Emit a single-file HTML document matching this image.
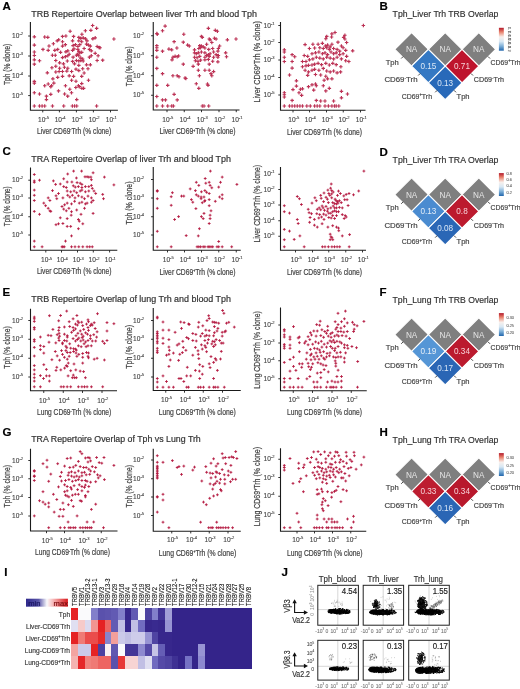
<!DOCTYPE html>
<html><head><meta charset="utf-8"><style>
html,body{margin:0;padding:0;background:#fff;width:520px;height:689px;overflow:hidden}
svg{display:block;filter:blur(0.3px)}
text{font-family:"Liberation Sans", sans-serif}
</style></head><body>
<svg width="520" height="689" viewBox="0 0 520 689" font-family='"Liberation Sans", sans-serif'>
<rect width="520" height="689" fill="#fff"/>
<text x="2.60" y="9.60" font-size="11.5" fill="#000" stroke="#000" stroke-width="0.18" font-weight="bold">A</text>
<text x="379.50" y="9.60" font-size="11.5" fill="#000" stroke="#000" stroke-width="0.18" font-weight="bold">B</text>
<text x="2.60" y="155.20" font-size="11.5" fill="#000" stroke="#000" stroke-width="0.18" font-weight="bold">C</text>
<text x="379.50" y="155.90" font-size="11.5" fill="#000" stroke="#000" stroke-width="0.18" font-weight="bold">D</text>
<text x="2.60" y="296.40" font-size="11.5" fill="#000" stroke="#000" stroke-width="0.18" font-weight="bold">E</text>
<text x="379.50" y="296.20" font-size="11.5" fill="#000" stroke="#000" stroke-width="0.18" font-weight="bold">F</text>
<text x="2.60" y="436.00" font-size="11.5" fill="#000" stroke="#000" stroke-width="0.18" font-weight="bold">G</text>
<text x="379.50" y="436.20" font-size="11.5" fill="#000" stroke="#000" stroke-width="0.18" font-weight="bold">H</text>
<text x="4.20" y="576.40" font-size="11.5" fill="#000" stroke="#000" stroke-width="0.18" font-weight="bold">I</text>
<text x="281.50" y="575.80" font-size="11.5" fill="#000" stroke="#000" stroke-width="0.18" font-weight="bold">J</text>
<text x="31.25" y="17.00" font-size="9" fill="#333" stroke="#333" stroke-width="0.2" textLength="225.60" lengthAdjust="spacingAndGlyphs">TRB Repertoire Overlap between liver Trh and blood Tph</text>
<text x="31.25" y="162.00" font-size="9" fill="#333" stroke="#333" stroke-width="0.2" textLength="199.75" lengthAdjust="spacingAndGlyphs">TRA Repertoire Overlap of liver Trh and blood Tph</text>
<text x="31.25" y="302.00" font-size="9" fill="#333" stroke="#333" stroke-width="0.2" textLength="199.75" lengthAdjust="spacingAndGlyphs">TRB Repertoire Overlap of lung Trh and blood Tph</text>
<text x="31.25" y="442.00" font-size="9" fill="#333" stroke="#333" stroke-width="0.2" textLength="169.50" lengthAdjust="spacingAndGlyphs">TRA Repertoire Overlap of Tph vs Lung Trh</text>
<path d="M30.40 22.00V110.20H117.90" fill="none" stroke="#1a1a1a" stroke-width="1.1"/>
<path d="M28.20 36.00H30.40" stroke="#1a1a1a" stroke-width="0.9"/>
<text x="12.11" y="38.00" font-size="6.6" fill="#444" stroke="#444" stroke-width="0.12">10<tspan font-size="4.09" dy="-2.77">-2</tspan></text>
<path d="M28.20 56.00H30.40" stroke="#1a1a1a" stroke-width="0.9"/>
<text x="12.11" y="58.00" font-size="6.6" fill="#444" stroke="#444" stroke-width="0.12">10<tspan font-size="4.09" dy="-2.77">-3</tspan></text>
<path d="M28.20 76.00H30.40" stroke="#1a1a1a" stroke-width="0.9"/>
<text x="12.11" y="78.00" font-size="6.6" fill="#444" stroke="#444" stroke-width="0.12">10<tspan font-size="4.09" dy="-2.77">-4</tspan></text>
<path d="M28.20 95.60H30.40" stroke="#1a1a1a" stroke-width="0.9"/>
<text x="12.11" y="97.60" font-size="6.6" fill="#444" stroke="#444" stroke-width="0.12">10<tspan font-size="4.09" dy="-2.77">-5</tspan></text>
<path d="M42.75 110.20V112.40" stroke="#1a1a1a" stroke-width="0.9"/>
<text x="38.01" y="122.00" font-size="6.6" fill="#444" stroke="#444" stroke-width="0.12">10<tspan font-size="4.09" dy="-2.77">-5</tspan></text>
<path d="M59.40 110.20V112.40" stroke="#1a1a1a" stroke-width="0.9"/>
<text x="54.66" y="122.00" font-size="6.6" fill="#444" stroke="#444" stroke-width="0.12">10<tspan font-size="4.09" dy="-2.77">-4</tspan></text>
<path d="M76.40 110.20V112.40" stroke="#1a1a1a" stroke-width="0.9"/>
<text x="71.66" y="122.00" font-size="6.6" fill="#444" stroke="#444" stroke-width="0.12">10<tspan font-size="4.09" dy="-2.77">-3</tspan></text>
<path d="M93.40 110.20V112.40" stroke="#1a1a1a" stroke-width="0.9"/>
<text x="88.66" y="122.00" font-size="6.6" fill="#444" stroke="#444" stroke-width="0.12">10<tspan font-size="4.09" dy="-2.77">-2</tspan></text>
<path d="M110.50 110.20V112.40" stroke="#1a1a1a" stroke-width="0.9"/>
<text x="105.76" y="122.00" font-size="6.6" fill="#444" stroke="#444" stroke-width="0.12">10<tspan font-size="4.09" dy="-2.77">-1</tspan></text>
<text x="37.00" y="133.95" font-size="9.1" fill="#444" stroke="#444" stroke-width="0.22" textLength="74.25" lengthAdjust="spacingAndGlyphs">Liver CD69<tspan font-size="4.6" dy="-2.6">-</tspan><tspan dy="2.6">Trh</tspan> (% clone)</text>
<text x="9.90" y="85.00" font-size="9.1" fill="#444" stroke="#444" stroke-width="0.22" textLength="41.25" lengthAdjust="spacingAndGlyphs" transform="rotate(-90 9.90 85.00)">Tph (% clone)</text>
<path d="M90.9 25.5h3.5M92.6 23.8v3.5M94.9 28.3h3.5M96.6 26.6v3.5M89.1 30.4h3.5M90.9 28.6v3.5M83.6 30.7h3.5M85.4 29.0v3.5M68.4 31.2h3.5M70.1 29.5v3.5M80.2 34.2h3.5M81.9 32.4v3.5M32.6 36.8h3.5M34.3 35.0v3.5M43.0 37.0h3.5M44.7 35.2v3.5M46.1 37.3h3.5M47.8 35.6v3.5M112.2 39.0h3.5M113.9 37.3v3.5M32.6 45.1h3.5M34.3 43.3v3.5M98.3 47.7h3.5M100.1 45.9v3.5M41.2 49.4h3.5M43.0 47.7v3.5M46.4 50.3h3.5M48.2 48.5v3.5M47.3 46.0h3.5M49.0 44.2v3.5M32.6 52.0h3.5M34.3 50.3v3.5M32.6 55.5h3.5M34.3 53.7v3.5M32.6 59.8h3.5M34.3 58.0v3.5M37.8 60.7h3.5M39.5 58.9v3.5M100.9 60.1h3.5M102.7 58.4v3.5M32.6 64.1h3.5M34.3 62.4v3.5M45.6 72.8h3.5M47.3 71.0v3.5M32.6 81.4h3.5M34.3 79.7v3.5M32.6 83.1h3.5M34.3 81.4v3.5M46.4 84.0h3.5M48.2 82.3v3.5M43.0 85.7h3.5M44.7 84.0v3.5M49.9 85.7h3.5M51.6 84.0v3.5M49.0 86.6h3.5M50.8 84.9v3.5M76.7 85.7h3.5M78.4 84.0v3.5M63.7 85.7h3.5M65.5 84.0v3.5M56.8 90.9h3.5M58.5 89.2v3.5M68.0 89.2h3.5M69.8 87.5v3.5M74.1 87.5h3.5M75.8 85.7v3.5M77.6 86.6h3.5M79.3 84.9v3.5M81.9 88.3h3.5M83.6 86.6v3.5M32.6 92.7h3.5M34.3 90.9v3.5M37.8 94.0h3.5M39.5 92.3v3.5M49.0 94.4h3.5M50.8 92.6v3.5M62.9 94.0h3.5M64.6 92.3v3.5M66.0 96.1h3.5M67.7 94.4v3.5M69.8 92.7h3.5M71.5 90.9v3.5M44.7 96.1h3.5M46.4 94.4v3.5M44.7 99.6h3.5M46.4 97.8v3.5M75.0 99.6h3.5M76.7 97.8v3.5M80.2 88.3h3.5M81.9 86.6v3.5M32.6 106.0h3.5M34.3 104.2v3.5M37.8 106.0h3.5M39.5 104.2v3.5M40.4 106.0h3.5M42.1 104.2v3.5M43.0 106.0h3.5M44.7 104.2v3.5M50.7 106.0h3.5M52.5 104.2v3.5M62.0 106.0h3.5M63.7 104.2v3.5M70.6 106.0h3.5M72.4 104.2v3.5M72.9 106.0h3.5M74.6 104.2v3.5M75.0 106.0h3.5M76.7 104.2v3.5M94.9 106.0h3.5M96.6 104.2v3.5M60.8 36.4h3.5M62.5 34.7v3.5M64.1 36.0h3.5M65.9 34.2v3.5M71.8 36.4h3.5M73.6 34.7v3.5M77.1 37.4h3.5M78.8 35.7v3.5M79.0 38.4h3.5M80.8 36.6v3.5M81.4 37.9h3.5M83.2 36.1v3.5M83.8 38.8h3.5M85.6 37.1v3.5M91.0 38.8h3.5M92.8 37.1v3.5M93.4 37.9h3.5M95.2 36.1v3.5M56.9 39.8h3.5M58.7 38.1v3.5M55.5 40.8h3.5M57.2 39.0v3.5M60.8 41.7h3.5M62.5 40.0v3.5M70.8 40.8h3.5M72.6 39.0v3.5M77.1 40.8h3.5M78.8 39.0v3.5M80.0 41.7h3.5M81.7 40.0v3.5M85.3 40.8h3.5M87.0 39.0v3.5M51.6 43.7h3.5M53.4 41.9v3.5M63.6 44.6h3.5M65.4 42.9v3.5M60.8 46.1h3.5M62.5 44.3v3.5M71.3 45.6h3.5M73.1 43.8v3.5M73.7 44.6h3.5M75.5 42.9v3.5M76.1 46.5h3.5M77.9 44.8v3.5M78.1 44.6h3.5M79.8 42.9v3.5M84.8 44.1h3.5M86.5 42.4v3.5M86.7 45.1h3.5M88.5 43.3v3.5M88.6 46.1h3.5M90.4 44.3v3.5M95.4 46.5h3.5M97.1 44.8v3.5M97.3 47.5h3.5M99.0 45.8v3.5M53.1 50.4h3.5M54.8 48.6v3.5M55.9 49.4h3.5M57.7 47.7v3.5M58.8 52.3h3.5M60.6 50.6v3.5M64.1 51.8h3.5M65.9 50.1v3.5M66.0 50.9h3.5M67.8 49.1v3.5M70.8 50.4h3.5M72.6 48.6v3.5M72.3 48.9h3.5M74.0 47.2v3.5M76.1 49.4h3.5M77.9 47.7v3.5M77.1 51.3h3.5M78.8 49.6v3.5M78.1 52.8h3.5M79.8 51.0v3.5M80.0 52.3h3.5M81.7 50.6v3.5M82.4 48.5h3.5M84.1 46.7v3.5M87.7 49.4h3.5M89.4 47.7v3.5M89.6 50.9h3.5M91.3 49.1v3.5M93.4 53.3h3.5M95.2 51.5v3.5M50.7 55.2h3.5M52.4 53.4v3.5M53.5 55.2h3.5M55.3 53.4v3.5M60.8 57.6h3.5M62.5 55.8v3.5M63.6 56.6h3.5M65.4 54.9v3.5M66.0 55.7h3.5M67.8 53.9v3.5M67.5 54.2h3.5M69.2 52.5v3.5M71.3 57.1h3.5M73.1 55.4v3.5M74.7 55.2h3.5M76.4 53.4v3.5M75.7 54.2h3.5M77.4 52.5v3.5M77.1 55.7h3.5M78.8 53.9v3.5M79.0 58.1h3.5M80.8 56.3v3.5M80.9 59.0h3.5M82.7 57.3v3.5M87.7 57.1h3.5M89.4 55.4v3.5M89.6 55.7h3.5M91.3 53.9v3.5M96.3 55.7h3.5M98.1 53.9v3.5M95.4 60.5h3.5M97.1 58.7v3.5M54.0 60.5h3.5M55.8 58.7v3.5M57.9 62.9h3.5M59.6 61.1v3.5M61.7 63.8h3.5M63.5 62.1v3.5M65.6 61.0h3.5M67.3 59.2v3.5M70.8 61.4h3.5M72.6 59.7v3.5M74.7 60.5h3.5M76.4 58.7v3.5M77.1 61.0h3.5M78.8 59.2v3.5M79.0 60.5h3.5M80.8 58.7v3.5M81.4 61.0h3.5M83.2 59.2v3.5M72.8 63.8h3.5M74.5 62.1v3.5M77.1 65.3h3.5M78.8 63.5v3.5M84.8 64.8h3.5M86.5 63.1v3.5M88.6 64.8h3.5M90.4 63.1v3.5M50.2 67.7h3.5M51.9 65.9v3.5M54.0 66.2h3.5M55.8 64.5v3.5M57.9 68.2h3.5M59.6 66.4v3.5M62.7 67.2h3.5M64.4 65.5v3.5M66.0 68.2h3.5M67.8 66.4v3.5M69.9 71.5h3.5M71.6 69.8v3.5M74.2 69.1h3.5M76.0 67.4v3.5M77.1 70.6h3.5M78.8 68.8v3.5M80.9 68.7h3.5M82.7 66.9v3.5M82.4 73.0h3.5M84.1 71.2v3.5M86.2 68.7h3.5M88.0 66.9v3.5M54.0 72.0h3.5M55.8 70.3v3.5M57.4 71.5h3.5M59.1 69.8v3.5M60.8 71.5h3.5M62.5 69.8v3.5M65.1 71.1h3.5M66.8 69.3v3.5M51.1 78.8h3.5M52.9 77.0v3.5M55.9 77.3h3.5M57.7 75.6v3.5M60.8 76.3h3.5M62.5 74.6v3.5M67.5 75.9h3.5M69.2 74.1v3.5M71.8 76.3h3.5M73.6 74.6v3.5M80.0 76.3h3.5M81.7 74.6v3.5M69.9 80.2h3.5M71.6 78.4v3.5M74.2 81.2h3.5M76.0 79.4v3.5M86.7 80.2h3.5M88.5 78.4v3.5M52.1 83.1h3.5M53.8 81.3v3.5M80.0 83.6h3.5M81.7 81.8v3.5" stroke="#b3163e" stroke-width="1.15" fill="none" opacity="0.88"/>
<path d="M153.25 22.00V110.00H239.50" fill="none" stroke="#1a1a1a" stroke-width="1.1"/>
<path d="M151.05 35.75H153.25" stroke="#1a1a1a" stroke-width="0.9"/>
<text x="133.11" y="37.75" font-size="6.6" fill="#444" stroke="#444" stroke-width="0.12">10<tspan font-size="4.09" dy="-2.77">-2</tspan></text>
<path d="M151.05 55.75H153.25" stroke="#1a1a1a" stroke-width="0.9"/>
<text x="133.11" y="57.75" font-size="6.6" fill="#444" stroke="#444" stroke-width="0.12">10<tspan font-size="4.09" dy="-2.77">-3</tspan></text>
<path d="M151.05 75.75H153.25" stroke="#1a1a1a" stroke-width="0.9"/>
<text x="133.11" y="77.75" font-size="6.6" fill="#444" stroke="#444" stroke-width="0.12">10<tspan font-size="4.09" dy="-2.77">-4</tspan></text>
<path d="M151.05 95.25H153.25" stroke="#1a1a1a" stroke-width="0.9"/>
<text x="133.11" y="97.25" font-size="6.6" fill="#444" stroke="#444" stroke-width="0.12">10<tspan font-size="4.09" dy="-2.77">-5</tspan></text>
<path d="M167.00 110.00V112.20" stroke="#1a1a1a" stroke-width="0.9"/>
<text x="162.26" y="122.00" font-size="6.6" fill="#444" stroke="#444" stroke-width="0.12">10<tspan font-size="4.09" dy="-2.77">-5</tspan></text>
<path d="M184.25 110.00V112.20" stroke="#1a1a1a" stroke-width="0.9"/>
<text x="179.51" y="122.00" font-size="6.6" fill="#444" stroke="#444" stroke-width="0.12">10<tspan font-size="4.09" dy="-2.77">-4</tspan></text>
<path d="M201.50 110.00V112.20" stroke="#1a1a1a" stroke-width="0.9"/>
<text x="196.76" y="122.00" font-size="6.6" fill="#444" stroke="#444" stroke-width="0.12">10<tspan font-size="4.09" dy="-2.77">-3</tspan></text>
<path d="M219.00 110.00V112.20" stroke="#1a1a1a" stroke-width="0.9"/>
<text x="214.26" y="122.00" font-size="6.6" fill="#444" stroke="#444" stroke-width="0.12">10<tspan font-size="4.09" dy="-2.77">-2</tspan></text>
<path d="M236.25 110.00V112.20" stroke="#1a1a1a" stroke-width="0.9"/>
<text x="231.51" y="122.00" font-size="6.6" fill="#444" stroke="#444" stroke-width="0.12">10<tspan font-size="4.09" dy="-2.77">-1</tspan></text>
<text x="159.50" y="134.45" font-size="9.1" fill="#444" stroke="#444" stroke-width="0.22" textLength="76.00" lengthAdjust="spacingAndGlyphs">Liver CD69<tspan font-size="4.6" dy="-2.6">+</tspan><tspan dy="2.6">Trh</tspan> (% clone)</text>
<text x="131.65" y="86.25" font-size="9.1" fill="#444" stroke="#444" stroke-width="0.22" textLength="40.00" lengthAdjust="spacingAndGlyphs" transform="rotate(-90 131.65 86.25)">Tph (% clone)</text>
<path d="M163.4 26.1h3.5M165.1 24.3v3.5M160.8 30.7h3.5M162.5 29.0v3.5M155.1 33.5h3.5M156.8 31.7v3.5M155.6 34.2h3.5M157.3 32.4v3.5M206.6 28.3h3.5M208.4 26.6v3.5M213.5 30.4h3.5M215.3 28.6v3.5M215.6 31.2h3.5M217.4 29.5v3.5M182.0 34.2h3.5M183.8 32.4v3.5M199.7 36.4h3.5M201.4 34.7v3.5M200.6 37.3h3.5M202.3 35.6v3.5M207.5 39.0h3.5M209.2 37.3v3.5M208.3 39.9h3.5M210.1 38.1v3.5M212.7 38.2h3.5M214.4 36.4v3.5M214.4 39.0h3.5M216.1 37.3v3.5M225.6 39.9h3.5M227.4 38.1v3.5M234.3 39.0h3.5M236.0 37.3v3.5M172.4 41.6h3.5M174.1 39.9v3.5M181.5 42.1h3.5M183.3 40.4v3.5M185.9 45.1h3.5M187.6 43.3v3.5M187.6 46.0h3.5M189.3 44.2v3.5M198.0 45.6h3.5M199.7 43.9v3.5M199.7 46.0h3.5M201.4 44.2v3.5M201.4 46.8h3.5M203.2 45.1v3.5M204.9 44.2h3.5M206.6 42.5v3.5M210.1 42.5h3.5M211.8 40.7v3.5M217.9 46.0h3.5M219.6 44.2v3.5M155.1 45.6h3.5M156.8 43.9v3.5M155.1 47.7h3.5M156.8 45.9v3.5M155.1 50.3h3.5M156.8 48.5v3.5M160.8 51.1h3.5M162.5 49.4v3.5M167.2 49.1h3.5M168.9 47.3v3.5M169.9 49.8h3.5M171.7 48.0v3.5M175.1 48.0h3.5M176.9 46.3v3.5M192.8 49.8h3.5M194.5 48.0v3.5M197.1 48.5h3.5M198.8 46.8v3.5M198.8 47.7h3.5M200.6 45.9v3.5M203.2 48.0h3.5M204.9 46.3v3.5M207.0 49.4h3.5M208.7 47.7v3.5M210.9 48.5h3.5M212.7 46.8v3.5M216.6 48.5h3.5M218.4 46.8v3.5M216.1 51.1h3.5M217.9 49.4v3.5M223.9 52.9h3.5M225.7 51.1v3.5M192.8 52.9h3.5M194.5 51.1v3.5M194.5 53.7h3.5M196.3 52.0v3.5M196.6 52.9h3.5M198.3 51.1v3.5M199.7 52.0h3.5M201.4 50.3v3.5M203.2 52.9h3.5M204.9 51.1v3.5M206.6 54.6h3.5M208.4 52.9v3.5M208.3 53.7h3.5M210.1 52.0v3.5M211.8 52.0h3.5M213.6 50.3v3.5M214.4 54.6h3.5M216.1 52.9v3.5M216.6 55.5h3.5M218.4 53.7v3.5M224.8 56.7h3.5M226.5 54.9v3.5M155.1 57.2h3.5M156.8 55.4v3.5M171.1 57.2h3.5M172.9 55.4v3.5M173.4 56.3h3.5M175.1 54.6v3.5M175.5 56.7h3.5M177.2 54.9v3.5M176.9 56.0h3.5M178.6 54.2v3.5M192.8 57.2h3.5M194.5 55.4v3.5M195.4 57.7h3.5M197.1 56.0v3.5M198.0 56.3h3.5M199.7 54.6v3.5M203.2 57.2h3.5M204.9 55.4v3.5M204.9 55.5h3.5M206.6 53.7v3.5M207.5 56.3h3.5M209.2 54.6v3.5M211.8 57.2h3.5M213.6 55.4v3.5M216.1 57.2h3.5M217.9 55.4v3.5M170.3 59.8h3.5M172.0 58.0v3.5M193.6 60.7h3.5M195.4 58.9v3.5M196.2 61.5h3.5M198.0 59.8v3.5M198.8 60.1h3.5M200.6 58.4v3.5M203.2 59.8h3.5M204.9 58.0v3.5M206.6 59.4h3.5M208.4 57.7v3.5M210.9 61.2h3.5M212.7 59.4v3.5M216.1 61.9h3.5M217.9 60.1v3.5M196.6 64.1h3.5M198.3 62.4v3.5M207.5 64.1h3.5M209.2 62.4v3.5M181.5 64.1h3.5M183.3 62.4v3.5M191.4 66.4h3.5M193.1 64.6v3.5M155.1 68.4h3.5M156.8 66.7v3.5M196.6 70.2h3.5M198.3 68.4v3.5M203.2 70.2h3.5M204.9 68.4v3.5M207.5 70.2h3.5M209.2 68.4v3.5M211.8 71.6h3.5M213.6 69.8v3.5M209.2 73.6h3.5M211.0 71.9v3.5M210.1 75.7h3.5M211.8 74.0v3.5M160.8 73.6h3.5M162.5 71.9v3.5M171.1 75.7h3.5M172.9 74.0v3.5M175.5 75.7h3.5M177.2 74.0v3.5M177.2 76.7h3.5M179.0 75.0v3.5M183.3 78.0h3.5M185.0 76.2v3.5M184.1 78.5h3.5M185.9 76.7v3.5M197.6 75.7h3.5M199.4 74.0v3.5M155.1 85.4h3.5M156.8 83.6v3.5M166.0 85.4h3.5M167.7 83.6v3.5M194.5 83.7h3.5M196.3 81.9v3.5M197.1 88.3h3.5M198.8 86.6v3.5M205.7 84.0h3.5M207.5 82.3v3.5M206.3 85.4h3.5M208.0 83.6v3.5M172.4 94.4h3.5M174.1 92.6v3.5M155.1 96.5h3.5M156.8 94.7v3.5M160.8 99.9h3.5M162.5 98.2v3.5M163.7 99.9h3.5M165.5 98.2v3.5M175.5 99.9h3.5M177.2 98.2v3.5M155.1 106.0h3.5M156.8 104.2v3.5M160.8 106.0h3.5M162.5 104.2v3.5M166.0 106.0h3.5M167.7 104.2v3.5M169.9 106.0h3.5M171.7 104.2v3.5M171.7 106.0h3.5M173.4 104.2v3.5M200.6 106.0h3.5M202.3 104.2v3.5M202.3 106.0h3.5M204.0 104.2v3.5M207.0 106.0h3.5M208.7 104.2v3.5" stroke="#b3163e" stroke-width="1.15" fill="none" opacity="0.88"/>
<path d="M280.50 22.00V110.25H365.50" fill="none" stroke="#1a1a1a" stroke-width="1.1"/>
<path d="M278.30 25.50H280.50" stroke="#1a1a1a" stroke-width="0.9"/>
<text x="263.61" y="27.50" font-size="6.6" fill="#444" stroke="#444" stroke-width="0.12">10<tspan font-size="4.09" dy="-2.77">-1</tspan></text>
<path d="M278.30 42.50H280.50" stroke="#1a1a1a" stroke-width="0.9"/>
<text x="263.61" y="44.50" font-size="6.6" fill="#444" stroke="#444" stroke-width="0.12">10<tspan font-size="4.09" dy="-2.77">-2</tspan></text>
<path d="M278.30 60.00H280.50" stroke="#1a1a1a" stroke-width="0.9"/>
<text x="263.61" y="62.00" font-size="6.6" fill="#444" stroke="#444" stroke-width="0.12">10<tspan font-size="4.09" dy="-2.77">-3</tspan></text>
<path d="M278.30 77.50H280.50" stroke="#1a1a1a" stroke-width="0.9"/>
<text x="263.61" y="79.50" font-size="6.6" fill="#444" stroke="#444" stroke-width="0.12">10<tspan font-size="4.09" dy="-2.77">-4</tspan></text>
<path d="M278.30 95.00H280.50" stroke="#1a1a1a" stroke-width="0.9"/>
<text x="263.61" y="97.00" font-size="6.6" fill="#444" stroke="#444" stroke-width="0.12">10<tspan font-size="4.09" dy="-2.77">-5</tspan></text>
<path d="M293.00 110.25V112.45" stroke="#1a1a1a" stroke-width="0.9"/>
<text x="288.26" y="122.00" font-size="6.6" fill="#444" stroke="#444" stroke-width="0.12">10<tspan font-size="4.09" dy="-2.77">-5</tspan></text>
<path d="M309.50 110.25V112.45" stroke="#1a1a1a" stroke-width="0.9"/>
<text x="304.76" y="122.00" font-size="6.6" fill="#444" stroke="#444" stroke-width="0.12">10<tspan font-size="4.09" dy="-2.77">-4</tspan></text>
<path d="M326.50 110.25V112.45" stroke="#1a1a1a" stroke-width="0.9"/>
<text x="321.76" y="122.00" font-size="6.6" fill="#444" stroke="#444" stroke-width="0.12">10<tspan font-size="4.09" dy="-2.77">-3</tspan></text>
<path d="M343.25 110.25V112.45" stroke="#1a1a1a" stroke-width="0.9"/>
<text x="338.51" y="122.00" font-size="6.6" fill="#444" stroke="#444" stroke-width="0.12">10<tspan font-size="4.09" dy="-2.77">-2</tspan></text>
<path d="M360.50 110.25V112.45" stroke="#1a1a1a" stroke-width="0.9"/>
<text x="355.76" y="122.00" font-size="6.6" fill="#444" stroke="#444" stroke-width="0.12">10<tspan font-size="4.09" dy="-2.77">-1</tspan></text>
<text x="287.00" y="134.95" font-size="9.1" fill="#444" stroke="#444" stroke-width="0.22" textLength="75.00" lengthAdjust="spacingAndGlyphs">Liver CD69<tspan font-size="4.6" dy="-2.6">-</tspan><tspan dy="2.6">Trh</tspan> (% clone)</text>
<text x="259.90" y="102.50" font-size="9.1" fill="#444" stroke="#444" stroke-width="0.22" textLength="81.50" lengthAdjust="spacingAndGlyphs" transform="rotate(-90 259.90 102.50)">Liver CD69<tspan font-size="4.6" dy="-2.6">+</tspan><tspan dy="2.6">Trh</tspan> (% clone)</text>
<path d="M361.6 25.5h3.5M363.4 23.8v3.5M333.3 32.5h3.5M335.0 30.7v3.5M330.2 33.8h3.5M331.9 32.1v3.5M325.0 36.4h3.5M326.7 34.7v3.5M324.1 38.7h3.5M325.8 36.9v3.5M329.8 37.0h3.5M331.6 35.2v3.5M343.1 35.2h3.5M344.9 33.5v3.5M341.9 37.3h3.5M343.7 35.6v3.5M344.9 42.5h3.5M346.6 40.7v3.5M343.1 39.0h3.5M344.9 37.3v3.5M303.3 44.6h3.5M305.1 42.8v3.5M311.1 44.2h3.5M312.9 42.5v3.5M316.3 44.2h3.5M318.1 42.5v3.5M320.6 43.4h3.5M322.4 41.6v3.5M323.6 46.0h3.5M325.3 44.2v3.5M325.8 45.1h3.5M327.6 43.3v3.5M328.4 46.8h3.5M330.2 45.1v3.5M330.2 44.2h3.5M331.9 42.5v3.5M336.2 42.1h3.5M338.0 40.4v3.5M339.7 46.0h3.5M341.4 44.2v3.5M341.4 47.7h3.5M343.1 45.9v3.5M282.6 49.8h3.5M284.3 48.0v3.5M282.6 52.0h3.5M284.3 50.3v3.5M307.7 48.5h3.5M309.4 46.8v3.5M312.9 48.0h3.5M314.6 46.3v3.5M318.0 47.7h3.5M319.8 45.9v3.5M321.5 48.5h3.5M323.3 46.8v3.5M325.0 47.7h3.5M326.7 45.9v3.5M327.6 49.4h3.5M329.3 47.7v3.5M331.9 48.5h3.5M333.6 46.8v3.5M335.3 49.4h3.5M337.1 47.7v3.5M337.9 51.1h3.5M339.7 49.4v3.5M344.0 50.3h3.5M345.7 48.5v3.5M350.9 50.8h3.5M352.7 49.0v3.5M290.4 54.6h3.5M292.1 52.9v3.5M293.0 56.7h3.5M294.7 54.9v3.5M302.5 55.5h3.5M304.2 53.7v3.5M305.9 56.3h3.5M307.7 54.6v3.5M310.3 53.7h3.5M312.0 52.0v3.5M313.7 52.9h3.5M315.5 51.1v3.5M317.2 52.0h3.5M318.9 50.3v3.5M320.6 53.7h3.5M322.4 52.0v3.5M323.2 52.9h3.5M325.0 51.1v3.5M325.8 54.6h3.5M327.6 52.9v3.5M329.3 52.0h3.5M331.0 50.3v3.5M331.9 53.7h3.5M333.6 52.0v3.5M334.5 52.9h3.5M336.2 51.1v3.5M337.9 54.6h3.5M339.7 52.9v3.5M341.4 53.7h3.5M343.1 52.0v3.5M344.9 56.3h3.5M346.6 54.6v3.5M282.6 57.2h3.5M284.3 55.4v3.5M282.6 61.5h3.5M284.3 59.8v3.5M290.4 61.5h3.5M292.1 59.8v3.5M300.7 61.5h3.5M302.5 59.8v3.5M304.2 61.5h3.5M306.0 59.8v3.5M307.7 59.8h3.5M309.4 58.0v3.5M311.1 58.9h3.5M312.9 57.2v3.5M314.6 57.2h3.5M316.3 55.4v3.5M318.0 58.1h3.5M319.8 56.3v3.5M321.5 58.9h3.5M323.3 57.2v3.5M325.0 57.2h3.5M326.7 55.4v3.5M328.4 58.1h3.5M330.2 56.3v3.5M331.9 58.9h3.5M333.6 57.2v3.5M335.3 57.2h3.5M337.1 55.4v3.5M339.7 58.9h3.5M341.4 57.2v3.5M344.0 60.7h3.5M345.7 58.9v3.5M347.1 61.5h3.5M348.9 59.8v3.5M290.4 68.1h3.5M292.1 66.3v3.5M300.7 66.7h3.5M302.5 65.0v3.5M304.2 65.8h3.5M306.0 64.1v3.5M306.8 65.3h3.5M308.5 63.6v3.5M310.3 65.0h3.5M312.0 63.2v3.5M312.9 64.1h3.5M314.6 62.4v3.5M316.3 63.3h3.5M318.1 61.5v3.5M319.8 64.6h3.5M321.5 62.9v3.5M324.1 63.3h3.5M325.8 61.5v3.5M327.6 65.0h3.5M329.3 63.2v3.5M331.0 63.3h3.5M332.8 61.5v3.5M334.5 64.6h3.5M336.2 62.9v3.5M339.1 66.7h3.5M340.9 65.0v3.5M287.8 75.0h3.5M289.5 73.3v3.5M303.3 70.2h3.5M305.1 68.4v3.5M306.8 71.9h3.5M308.5 70.2v3.5M310.3 70.2h3.5M312.0 68.4v3.5M312.9 69.3h3.5M314.6 67.6v3.5M317.2 70.2h3.5M318.9 68.4v3.5M321.5 68.4h3.5M323.3 66.7v3.5M325.0 71.0h3.5M326.7 69.3v3.5M328.4 71.9h3.5M330.2 70.2v3.5M331.9 71.0h3.5M333.6 69.3v3.5M335.3 72.8h3.5M337.1 71.0v3.5M338.8 71.9h3.5M340.6 70.2v3.5M305.9 75.4h3.5M307.7 73.6v3.5M313.7 74.5h3.5M315.5 72.7v3.5M318.9 75.0h3.5M320.7 73.3v3.5M324.1 76.2h3.5M325.8 74.5v3.5M325.8 78.8h3.5M327.6 77.1v3.5M330.2 78.8h3.5M331.9 77.1v3.5M322.4 80.2h3.5M324.1 78.5v3.5M294.7 80.9h3.5M296.4 79.1v3.5M294.7 86.1h3.5M296.4 84.3v3.5M306.8 86.6h3.5M308.5 84.9v3.5M310.3 84.9h3.5M312.0 83.1v3.5M313.7 84.0h3.5M315.5 82.3v3.5M314.6 85.7h3.5M316.3 84.0v3.5M321.5 85.7h3.5M323.3 84.0v3.5M327.6 88.3h3.5M329.3 86.6v3.5M291.2 89.6h3.5M293.0 87.8v3.5M298.7 89.2h3.5M300.4 87.5v3.5M300.7 88.9h3.5M302.5 87.1v3.5M312.0 90.1h3.5M313.7 88.3v3.5M324.1 90.9h3.5M325.8 89.2v3.5M339.7 91.3h3.5M341.4 89.5v3.5M345.7 94.0h3.5M347.5 92.3v3.5M282.6 92.7h3.5M284.3 90.9v3.5M282.6 94.7h3.5M284.3 93.0v3.5M282.6 97.0h3.5M284.3 95.2v3.5M297.3 92.7h3.5M299.0 90.9v3.5M299.9 95.3h3.5M301.6 93.5v3.5M339.7 97.9h3.5M341.4 96.1v3.5M290.4 100.4h3.5M292.1 98.7v3.5M314.6 100.4h3.5M316.3 98.7v3.5M318.9 101.0h3.5M320.7 99.2v3.5M323.2 101.0h3.5M325.0 99.2v3.5M331.9 101.0h3.5M333.6 99.2v3.5M282.6 106.0h3.5M284.3 104.2v3.5M287.8 106.0h3.5M289.5 104.2v3.5M290.4 106.0h3.5M292.1 104.2v3.5M293.0 106.0h3.5M294.7 104.2v3.5M295.6 106.0h3.5M297.3 104.2v3.5M298.1 106.0h3.5M299.9 104.2v3.5M300.7 106.0h3.5M302.5 104.2v3.5M305.1 106.0h3.5M306.8 104.2v3.5M308.5 106.0h3.5M310.3 104.2v3.5M312.9 106.0h3.5M314.6 104.2v3.5M315.4 106.0h3.5M317.2 104.2v3.5M318.0 106.0h3.5M319.8 104.2v3.5M323.2 106.0h3.5M325.0 104.2v3.5M326.7 106.0h3.5M328.4 104.2v3.5M330.2 106.0h3.5M331.9 104.2v3.5M332.7 106.0h3.5M334.5 104.2v3.5M334.5 106.0h3.5M336.2 104.2v3.5M337.1 106.0h3.5M338.8 104.2v3.5" stroke="#b3163e" stroke-width="1.15" fill="none" opacity="0.88"/>
<path d="M30.50 167.50V250.30H117.30" fill="none" stroke="#1a1a1a" stroke-width="1.1"/>
<path d="M28.30 180.20H30.50" stroke="#1a1a1a" stroke-width="0.9"/>
<text x="12.11" y="182.20" font-size="6.6" fill="#444" stroke="#444" stroke-width="0.12">10<tspan font-size="4.09" dy="-2.77">-2</tspan></text>
<path d="M28.30 198.00H30.50" stroke="#1a1a1a" stroke-width="0.9"/>
<text x="12.11" y="200.00" font-size="6.6" fill="#444" stroke="#444" stroke-width="0.12">10<tspan font-size="4.09" dy="-2.77">-3</tspan></text>
<path d="M28.30 216.75H30.50" stroke="#1a1a1a" stroke-width="0.9"/>
<text x="12.11" y="218.75" font-size="6.6" fill="#444" stroke="#444" stroke-width="0.12">10<tspan font-size="4.09" dy="-2.77">-4</tspan></text>
<path d="M28.30 235.00H30.50" stroke="#1a1a1a" stroke-width="0.9"/>
<text x="12.11" y="237.00" font-size="6.6" fill="#444" stroke="#444" stroke-width="0.12">10<tspan font-size="4.09" dy="-2.77">-5</tspan></text>
<path d="M45.80 250.30V252.50" stroke="#1a1a1a" stroke-width="0.9"/>
<text x="41.06" y="262.30" font-size="6.6" fill="#444" stroke="#444" stroke-width="0.12">10<tspan font-size="4.09" dy="-2.77">-5</tspan></text>
<path d="M61.50 250.30V252.50" stroke="#1a1a1a" stroke-width="0.9"/>
<text x="56.76" y="262.30" font-size="6.6" fill="#444" stroke="#444" stroke-width="0.12">10<tspan font-size="4.09" dy="-2.77">-4</tspan></text>
<path d="M77.50 250.30V252.50" stroke="#1a1a1a" stroke-width="0.9"/>
<text x="72.76" y="262.30" font-size="6.6" fill="#444" stroke="#444" stroke-width="0.12">10<tspan font-size="4.09" dy="-2.77">-3</tspan></text>
<path d="M93.30 250.30V252.50" stroke="#1a1a1a" stroke-width="0.9"/>
<text x="88.56" y="262.30" font-size="6.6" fill="#444" stroke="#444" stroke-width="0.12">10<tspan font-size="4.09" dy="-2.77">-2</tspan></text>
<path d="M109.60 250.30V252.50" stroke="#1a1a1a" stroke-width="0.9"/>
<text x="104.86" y="262.30" font-size="6.6" fill="#444" stroke="#444" stroke-width="0.12">10<tspan font-size="4.09" dy="-2.77">-1</tspan></text>
<text x="36.90" y="274.20" font-size="9.1" fill="#444" stroke="#444" stroke-width="0.22" textLength="74.60" lengthAdjust="spacingAndGlyphs">Liver CD69<tspan font-size="4.6" dy="-2.6">-</tspan><tspan dy="2.6">Trh</tspan> (% clone)</text>
<text x="9.90" y="226.25" font-size="9.1" fill="#444" stroke="#444" stroke-width="0.22" textLength="40.00" lengthAdjust="spacingAndGlyphs" transform="rotate(-90 9.90 226.25)">Tph (% clone)</text>
<path d="M32.9 174.5h2.8M34.3 173.1v2.8M66.3 174.0h2.8M67.7 172.6v2.8M72.2 171.1h2.8M73.6 169.7v2.8M80.2 171.1h2.8M81.6 169.7v2.8M91.7 172.8h2.8M93.1 171.4v2.8M75.0 178.0h2.8M76.4 176.6v2.8M83.6 176.8h2.8M85.0 175.4v2.8M85.7 176.8h2.8M87.1 175.4v2.8M87.4 177.1h2.8M88.8 175.7v2.8M89.5 177.1h2.8M90.9 175.7v2.8M103.0 177.1h2.8M104.4 175.7v2.8M112.5 184.9h2.8M113.9 183.5v2.8M32.9 180.9h2.8M34.3 179.5v2.8M32.9 182.3h2.8M34.3 180.9v2.8M38.1 180.2h2.8M39.5 178.8v2.8M52.0 180.9h2.8M53.4 179.5v2.8M62.3 178.8h2.8M63.7 177.4v2.8M65.8 182.0h2.8M67.2 180.6v2.8M70.5 182.0h2.8M71.9 180.6v2.8M75.7 182.6h2.8M77.1 181.2v2.8M78.8 183.2h2.8M80.2 181.8v2.8M80.5 184.4h2.8M81.9 183.0v2.8M90.0 179.7h2.8M91.4 178.3v2.8M90.0 185.4h2.8M91.4 184.0v2.8M32.9 190.1h2.8M34.3 188.7v2.8M51.1 190.6h2.8M52.5 189.2v2.8M54.2 184.4h2.8M55.6 183.0v2.8M58.9 184.0h2.8M60.3 182.6v2.8M62.3 186.6h2.8M63.7 185.2v2.8M64.9 187.5h2.8M66.3 186.1v2.8M71.9 185.8h2.8M73.3 184.4v2.8M73.9 187.1h2.8M75.3 185.7v2.8M77.0 186.6h2.8M78.4 185.2v2.8M80.5 187.5h2.8M81.9 186.1v2.8M84.0 186.6h2.8M85.4 185.2v2.8M87.4 186.6h2.8M88.8 185.2v2.8M90.9 188.4h2.8M92.3 187.0v2.8M92.6 191.0h2.8M94.0 189.6v2.8M32.9 195.3h2.8M34.3 193.9v2.8M54.6 195.8h2.8M56.0 194.4v2.8M57.1 193.5h2.8M58.5 192.1v2.8M65.8 191.0h2.8M67.2 189.6v2.8M69.3 191.8h2.8M70.7 190.4v2.8M72.7 191.0h2.8M74.1 189.6v2.8M75.3 192.7h2.8M76.7 191.3v2.8M78.8 191.0h2.8M80.2 189.6v2.8M80.5 190.1h2.8M81.9 188.7v2.8M84.0 191.8h2.8M85.4 190.4v2.8M87.4 191.0h2.8M88.8 189.6v2.8M94.3 193.5h2.8M95.7 192.1v2.8M101.3 194.4h2.8M102.7 193.0v2.8M102.1 198.7h2.8M103.5 197.3v2.8M32.9 200.5h2.8M34.3 199.1v2.8M46.8 197.9h2.8M48.2 196.5v2.8M48.5 200.5h2.8M49.9 199.1v2.8M55.4 198.7h2.8M56.8 197.3v2.8M61.5 197.9h2.8M62.9 196.5v2.8M66.3 195.3h2.8M67.7 193.9v2.8M68.4 197.0h2.8M69.8 195.6v2.8M71.0 195.3h2.8M72.4 193.9v2.8M73.6 197.9h2.8M75.0 196.5v2.8M77.0 195.8h2.8M78.4 194.4v2.8M80.5 197.0h2.8M81.9 195.6v2.8M83.1 198.7h2.8M84.5 197.3v2.8M86.6 196.1h2.8M88.0 194.7v2.8M90.0 197.9h2.8M91.4 196.5v2.8M91.7 200.5h2.8M93.1 199.1v2.8M42.4 203.1h2.8M43.8 201.7v2.8M44.2 205.7h2.8M45.6 204.3v2.8M46.8 208.3h2.8M48.2 206.9v2.8M48.5 210.8h2.8M49.9 209.4v2.8M49.4 211.4h2.8M50.8 210.0v2.8M60.6 206.5h2.8M62.0 205.1v2.8M63.2 204.8h2.8M64.6 203.4v2.8M65.8 203.1h2.8M67.2 201.7v2.8M70.1 203.9h2.8M71.5 202.5v2.8M73.2 201.3h2.8M74.6 199.9v2.8M77.9 203.1h2.8M79.3 201.7v2.8M80.5 202.2h2.8M81.9 200.8v2.8M84.0 203.9h2.8M85.4 202.5v2.8M85.7 203.1h2.8M87.1 201.7v2.8M90.0 202.2h2.8M91.4 200.8v2.8M32.9 211.4h2.8M34.3 210.0v2.8M38.1 214.3h2.8M39.5 212.9v2.8M62.3 209.1h2.8M63.7 207.7v2.8M64.9 210.8h2.8M66.3 209.4v2.8M67.5 208.3h2.8M68.9 206.9v2.8M70.1 211.7h2.8M71.5 210.3v2.8M69.8 215.2h2.8M71.2 213.8v2.8M75.3 210.0h2.8M76.7 208.6v2.8M79.6 214.3h2.8M81.0 212.9v2.8M83.1 208.3h2.8M84.5 206.9v2.8M91.7 213.4h2.8M93.1 212.0v2.8M58.9 217.8h2.8M60.3 216.4v2.8M65.8 218.6h2.8M67.2 217.2v2.8M77.0 219.5h2.8M78.4 218.1v2.8M77.9 221.2h2.8M79.3 219.8v2.8M81.4 223.8h2.8M82.8 222.4v2.8M54.6 224.7h2.8M56.0 223.3v2.8M57.1 223.8h2.8M58.5 222.4v2.8M61.5 223.5h2.8M62.9 222.1v2.8M65.8 226.4h2.8M67.2 225.0v2.8M69.3 226.4h2.8M70.7 225.0v2.8M77.0 228.7h2.8M78.4 227.3v2.8M70.1 235.9h2.8M71.5 234.5v2.8M32.9 241.1h2.8M34.3 239.7v2.8M64.1 241.1h2.8M65.5 239.7v2.8M32.9 246.8h2.8M34.3 245.4v2.8M40.7 246.8h2.8M42.1 245.4v2.8M60.6 246.8h2.8M62.0 245.4v2.8M61.5 246.8h2.8M62.9 245.4v2.8M62.9 246.8h2.8M64.3 245.4v2.8M70.1 246.8h2.8M71.5 245.4v2.8M73.6 246.8h2.8M75.0 245.4v2.8M77.4 246.8h2.8M78.8 245.4v2.8M81.4 246.8h2.8M82.8 245.4v2.8M85.7 246.8h2.8M87.1 245.4v2.8M88.3 246.8h2.8M89.7 245.4v2.8M90.9 246.8h2.8M92.3 245.4v2.8" stroke="#b3163e" stroke-width="1.0" fill="none" opacity="0.88"/>
<path d="M153.25 167.00V250.25H240.75" fill="none" stroke="#1a1a1a" stroke-width="1.1"/>
<path d="M151.05 179.50H153.25" stroke="#1a1a1a" stroke-width="0.9"/>
<text x="133.11" y="181.50" font-size="6.6" fill="#444" stroke="#444" stroke-width="0.12">10<tspan font-size="4.09" dy="-2.77">-2</tspan></text>
<path d="M151.05 198.00H153.25" stroke="#1a1a1a" stroke-width="0.9"/>
<text x="133.11" y="200.00" font-size="6.6" fill="#444" stroke="#444" stroke-width="0.12">10<tspan font-size="4.09" dy="-2.77">-3</tspan></text>
<path d="M151.05 216.75H153.25" stroke="#1a1a1a" stroke-width="0.9"/>
<text x="133.11" y="218.75" font-size="6.6" fill="#444" stroke="#444" stroke-width="0.12">10<tspan font-size="4.09" dy="-2.77">-4</tspan></text>
<path d="M151.05 235.00H153.25" stroke="#1a1a1a" stroke-width="0.9"/>
<text x="133.11" y="237.00" font-size="6.6" fill="#444" stroke="#444" stroke-width="0.12">10<tspan font-size="4.09" dy="-2.77">-5</tspan></text>
<path d="M167.50 250.25V252.45" stroke="#1a1a1a" stroke-width="0.9"/>
<text x="162.76" y="262.00" font-size="6.6" fill="#444" stroke="#444" stroke-width="0.12">10<tspan font-size="4.09" dy="-2.77">-5</tspan></text>
<path d="M184.50 250.25V252.45" stroke="#1a1a1a" stroke-width="0.9"/>
<text x="179.76" y="262.00" font-size="6.6" fill="#444" stroke="#444" stroke-width="0.12">10<tspan font-size="4.09" dy="-2.77">-4</tspan></text>
<path d="M201.50 250.25V252.45" stroke="#1a1a1a" stroke-width="0.9"/>
<text x="196.76" y="262.00" font-size="6.6" fill="#444" stroke="#444" stroke-width="0.12">10<tspan font-size="4.09" dy="-2.77">-3</tspan></text>
<path d="M218.75 250.25V252.45" stroke="#1a1a1a" stroke-width="0.9"/>
<text x="214.01" y="262.00" font-size="6.6" fill="#444" stroke="#444" stroke-width="0.12">10<tspan font-size="4.09" dy="-2.77">-2</tspan></text>
<path d="M236.25 250.25V252.45" stroke="#1a1a1a" stroke-width="0.9"/>
<text x="231.51" y="262.00" font-size="6.6" fill="#444" stroke="#444" stroke-width="0.12">10<tspan font-size="4.09" dy="-2.77">-1</tspan></text>
<text x="159.50" y="274.95" font-size="9.1" fill="#444" stroke="#444" stroke-width="0.22" textLength="76.00" lengthAdjust="spacingAndGlyphs">Liver CD69<tspan font-size="4.6" dy="-2.6">+</tspan><tspan dy="2.6">Trh</tspan> (% clone)</text>
<text x="131.65" y="224.50" font-size="9.1" fill="#444" stroke="#444" stroke-width="0.22" textLength="43.00" lengthAdjust="spacingAndGlyphs" transform="rotate(-90 131.65 224.50)">Tph (% clone)</text>
<path d="M209.0 171.1h2.8M210.4 169.7v2.8M220.8 177.1h2.8M222.2 175.7v2.8M203.8 178.5h2.8M205.2 177.1v2.8M194.9 182.3h2.8M196.3 180.9v2.8M197.4 185.4h2.8M198.8 184.0v2.8M204.4 183.2h2.8M205.8 181.8v2.8M207.8 182.3h2.8M209.2 180.9v2.8M208.7 185.4h2.8M210.1 184.0v2.8M219.1 182.3h2.8M220.5 180.9v2.8M235.5 184.4h2.8M236.9 183.0v2.8M217.3 187.1h2.8M218.7 185.7v2.8M155.9 190.6h2.8M157.3 189.2v2.8M155.9 191.3h2.8M157.3 189.9v2.8M171.0 192.7h2.8M172.4 191.3v2.8M188.8 188.9h2.8M190.2 187.5v2.8M194.0 190.6h2.8M195.4 189.2v2.8M200.0 191.8h2.8M201.4 190.4v2.8M203.5 190.6h2.8M204.9 189.2v2.8M205.2 192.3h2.8M206.6 190.9v2.8M207.8 193.5h2.8M209.2 192.1v2.8M210.4 187.8h2.8M211.8 186.4v2.8M220.8 194.8h2.8M222.2 193.4v2.8M218.2 197.0h2.8M219.6 195.6v2.8M155.9 198.7h2.8M157.3 197.3v2.8M169.8 196.7h2.8M171.2 195.3v2.8M180.1 196.1h2.8M181.5 194.7v2.8M182.4 196.1h2.8M183.8 194.7v2.8M190.0 199.6h2.8M191.4 198.2v2.8M191.4 202.2h2.8M192.8 200.8v2.8M194.9 194.8h2.8M196.3 193.4v2.8M196.9 196.1h2.8M198.3 194.7v2.8M199.7 198.7h2.8M201.1 197.3v2.8M202.6 197.0h2.8M204.0 195.6v2.8M203.5 200.5h2.8M204.9 199.1v2.8M203.2 201.3h2.8M204.6 199.9v2.8M207.8 199.6h2.8M209.2 198.2v2.8M213.9 201.3h2.8M215.3 199.9v2.8M220.8 198.7h2.8M222.2 197.3v2.8M199.7 197.0h2.8M201.1 195.6v2.8M155.9 208.3h2.8M157.3 206.9v2.8M169.8 205.3h2.8M171.2 203.9v2.8M194.5 208.6h2.8M195.9 207.2v2.8M200.9 202.7h2.8M202.3 201.3v2.8M207.8 205.7h2.8M209.2 204.3v2.8M209.6 210.8h2.8M211.0 209.4v2.8M202.6 213.4h2.8M204.0 212.0v2.8M208.7 215.2h2.8M210.1 213.8v2.8M200.0 216.6h2.8M201.4 215.2v2.8M201.8 218.6h2.8M203.2 217.2v2.8M208.7 218.6h2.8M210.1 217.2v2.8M207.8 223.5h2.8M209.2 222.1v2.8M173.2 219.5h2.8M174.6 218.1v2.8M177.2 216.6h2.8M178.6 215.2v2.8M198.0 228.7h2.8M199.4 227.3v2.8M155.9 231.3h2.8M157.3 229.9v2.8M184.8 235.6h2.8M186.2 234.2v2.8M196.9 235.9h2.8M198.3 234.5v2.8M217.3 241.5h2.8M218.7 240.1v2.8M155.9 246.8h2.8M157.3 245.4v2.8M169.8 246.8h2.8M171.2 245.4v2.8M195.7 246.8h2.8M197.1 245.4v2.8M197.4 246.8h2.8M198.8 245.4v2.8M199.2 246.8h2.8M200.6 245.4v2.8M201.8 246.8h2.8M203.2 245.4v2.8M203.5 246.8h2.8M204.9 245.4v2.8M206.6 246.8h2.8M208.0 245.4v2.8M207.8 246.8h2.8M209.2 245.4v2.8M209.6 246.8h2.8M211.0 245.4v2.8M211.3 246.8h2.8M212.7 245.4v2.8M215.6 246.8h2.8M217.0 245.4v2.8M217.3 246.8h2.8M218.7 245.4v2.8M220.8 246.8h2.8M222.2 245.4v2.8M230.3 246.8h2.8M231.7 245.4v2.8" stroke="#b3163e" stroke-width="1.0" fill="none" opacity="0.88"/>
<path d="M280.50 167.00V250.25H366.00" fill="none" stroke="#1a1a1a" stroke-width="1.1"/>
<path d="M278.30 174.25H280.50" stroke="#1a1a1a" stroke-width="0.9"/>
<text x="263.61" y="176.25" font-size="6.6" fill="#444" stroke="#444" stroke-width="0.12">10<tspan font-size="4.09" dy="-2.77">-1</tspan></text>
<path d="M278.30 189.50H280.50" stroke="#1a1a1a" stroke-width="0.9"/>
<text x="263.61" y="191.50" font-size="6.6" fill="#444" stroke="#444" stroke-width="0.12">10<tspan font-size="4.09" dy="-2.77">-2</tspan></text>
<path d="M278.30 205.00H280.50" stroke="#1a1a1a" stroke-width="0.9"/>
<text x="263.61" y="207.00" font-size="6.6" fill="#444" stroke="#444" stroke-width="0.12">10<tspan font-size="4.09" dy="-2.77">-3</tspan></text>
<path d="M278.30 220.75H280.50" stroke="#1a1a1a" stroke-width="0.9"/>
<text x="263.61" y="222.75" font-size="6.6" fill="#444" stroke="#444" stroke-width="0.12">10<tspan font-size="4.09" dy="-2.77">-4</tspan></text>
<path d="M278.30 236.25H280.50" stroke="#1a1a1a" stroke-width="0.9"/>
<text x="263.61" y="238.25" font-size="6.6" fill="#444" stroke="#444" stroke-width="0.12">10<tspan font-size="4.09" dy="-2.77">-5</tspan></text>
<path d="M295.50 250.25V252.45" stroke="#1a1a1a" stroke-width="0.9"/>
<text x="290.76" y="262.00" font-size="6.6" fill="#444" stroke="#444" stroke-width="0.12">10<tspan font-size="4.09" dy="-2.77">-5</tspan></text>
<path d="M312.50 250.25V252.45" stroke="#1a1a1a" stroke-width="0.9"/>
<text x="307.76" y="262.00" font-size="6.6" fill="#444" stroke="#444" stroke-width="0.12">10<tspan font-size="4.09" dy="-2.77">-4</tspan></text>
<path d="M328.75 250.25V252.45" stroke="#1a1a1a" stroke-width="0.9"/>
<text x="324.01" y="262.00" font-size="6.6" fill="#444" stroke="#444" stroke-width="0.12">10<tspan font-size="4.09" dy="-2.77">-3</tspan></text>
<path d="M345.75 250.25V252.45" stroke="#1a1a1a" stroke-width="0.9"/>
<text x="341.01" y="262.00" font-size="6.6" fill="#444" stroke="#444" stroke-width="0.12">10<tspan font-size="4.09" dy="-2.77">-2</tspan></text>
<path d="M362.50 250.25V252.45" stroke="#1a1a1a" stroke-width="0.9"/>
<text x="357.76" y="262.00" font-size="6.6" fill="#444" stroke="#444" stroke-width="0.12">10<tspan font-size="4.09" dy="-2.77">-1</tspan></text>
<text x="287.00" y="274.95" font-size="9.1" fill="#444" stroke="#444" stroke-width="0.22" textLength="75.00" lengthAdjust="spacingAndGlyphs">Liver CD69<tspan font-size="4.6" dy="-2.6">-</tspan><tspan dy="2.6">Trh</tspan> (% clone)</text>
<text x="259.90" y="242.50" font-size="9.1" fill="#444" stroke="#444" stroke-width="0.22" textLength="77.50" lengthAdjust="spacingAndGlyphs" transform="rotate(-90 259.90 242.50)">Liver CD69<tspan font-size="4.6" dy="-2.6">+</tspan><tspan dy="2.6">Trh</tspan> (% clone)</text>
<path d="M362.5 171.1h2.8M363.9 169.7v2.8M357.3 191.0h2.8M358.7 189.6v2.8M352.1 194.8h2.8M353.5 193.4v2.8M295.9 196.5h2.8M297.3 195.1v2.8M298.0 198.7h2.8M299.4 197.3v2.8M282.9 205.7h2.8M284.3 204.3v2.8M282.9 211.7h2.8M284.3 210.3v2.8M288.1 213.1h2.8M289.5 211.7v2.8M295.9 219.5h2.8M297.3 218.1v2.8M296.8 223.5h2.8M298.2 222.1v2.8M337.4 230.7h2.8M338.8 229.3v2.8M282.9 229.4h2.8M284.3 228.0v2.8M288.1 231.1h2.8M289.5 229.7v2.8M298.5 235.9h2.8M299.9 234.5v2.8M292.8 239.4h2.8M294.2 238.0v2.8M282.9 239.7h2.8M284.3 238.3v2.8M328.8 234.2h2.8M330.2 232.8v2.8M329.6 236.8h2.8M331.0 235.4v2.8M330.5 237.7h2.8M331.9 236.3v2.8M328.8 239.7h2.8M330.2 238.3v2.8M331.4 239.7h2.8M332.8 238.3v2.8M340.9 235.9h2.8M342.3 234.5v2.8M348.2 234.6h2.8M349.6 233.2v2.8M282.9 246.8h2.8M284.3 245.4v2.8M302.8 246.8h2.8M304.2 245.4v2.8M321.0 246.8h2.8M322.4 245.4v2.8M323.6 246.8h2.8M325.0 245.4v2.8M327.0 246.8h2.8M328.4 245.4v2.8M330.5 246.8h2.8M331.9 245.4v2.8M333.1 246.8h2.8M334.5 245.4v2.8M335.7 246.8h2.8M337.1 245.4v2.8M338.3 246.8h2.8M339.7 245.4v2.8M347.8 246.8h2.8M349.2 245.4v2.8M329.9 184.0h2.8M331.2 182.6v2.8M329.2 188.2h2.8M330.6 186.8v2.8M326.5 190.1h2.8M327.9 188.7v2.8M330.3 190.6h2.8M331.7 189.2v2.8M331.8 192.0h2.8M333.2 190.6v2.8M337.1 191.1h2.8M338.5 189.7v2.8M322.6 193.0h2.8M324.0 191.6v2.8M327.4 193.5h2.8M328.8 192.1v2.8M330.3 193.9h2.8M331.7 192.5v2.8M328.4 195.4h2.8M329.8 194.0v2.8M336.1 195.4h2.8M337.5 194.0v2.8M339.0 193.5h2.8M340.4 192.1v2.8M342.4 195.9h2.8M343.8 194.5v2.8M344.8 194.4h2.8M346.2 193.0v2.8M347.6 193.5h2.8M349.0 192.1v2.8M319.3 195.4h2.8M320.7 194.0v2.8M313.5 197.8h2.8M314.9 196.4v2.8M319.8 198.3h2.8M321.2 196.9v2.8M324.6 197.3h2.8M326.0 195.9v2.8M326.0 199.2h2.8M327.4 197.8v2.8M330.3 197.8h2.8M331.7 196.4v2.8M333.7 199.2h2.8M335.1 197.8v2.8M334.7 200.7h2.8M336.1 199.3v2.8M336.1 201.6h2.8M337.5 200.2v2.8M338.0 200.7h2.8M339.4 199.3v2.8M339.9 202.6h2.8M341.3 201.2v2.8M343.3 199.7h2.8M344.7 198.3v2.8M345.7 199.7h2.8M347.1 198.3v2.8M314.9 200.7h2.8M316.3 199.3v2.8M310.6 203.1h2.8M312.0 201.7v2.8M300.0 204.5h2.8M301.4 203.1v2.8M322.2 201.6h2.8M323.6 200.2v2.8M327.0 202.6h2.8M328.4 201.2v2.8M331.3 202.6h2.8M332.7 201.2v2.8M333.2 203.6h2.8M334.6 202.2v2.8M335.1 204.0h2.8M336.5 202.6v2.8M336.6 203.1h2.8M338.0 201.7v2.8M346.7 205.5h2.8M348.1 204.1v2.8M320.7 206.0h2.8M322.1 204.6v2.8M317.8 207.9h2.8M319.2 206.5v2.8M321.7 207.9h2.8M323.1 206.5v2.8M324.6 206.4h2.8M326.0 205.0v2.8M326.5 208.8h2.8M327.9 207.4v2.8M329.4 207.9h2.8M330.8 206.5v2.8M331.8 206.0h2.8M333.2 204.6v2.8M333.2 207.9h2.8M334.6 206.5v2.8M335.1 207.9h2.8M336.5 206.5v2.8M338.0 207.4h2.8M339.4 206.0v2.8M340.9 207.9h2.8M342.3 206.5v2.8M306.8 209.3h2.8M308.2 207.9v2.8M315.9 209.3h2.8M317.3 207.9v2.8M319.3 209.8h2.8M320.7 208.4v2.8M323.1 210.3h2.8M324.5 208.9v2.8M326.0 211.2h2.8M327.4 209.8v2.8M327.4 213.2h2.8M328.8 211.8v2.8M329.4 213.2h2.8M330.8 211.8v2.8M331.3 211.7h2.8M332.7 210.3v2.8M333.2 210.8h2.8M334.6 209.4v2.8M335.1 211.7h2.8M336.5 210.3v2.8M337.1 211.7h2.8M338.5 210.3v2.8M307.7 212.7h2.8M309.1 211.3v2.8M310.1 213.7h2.8M311.5 212.3v2.8M315.4 213.7h2.8M316.8 212.3v2.8M318.3 214.6h2.8M319.7 213.2v2.8M322.2 214.1h2.8M323.6 212.7v2.8M324.6 215.1h2.8M326.0 213.7v2.8M331.3 215.6h2.8M332.7 214.2v2.8M335.1 215.6h2.8M336.5 214.2v2.8M340.9 214.6h2.8M342.3 213.2v2.8M343.8 215.6h2.8M345.2 214.2v2.8M344.8 217.0h2.8M346.2 215.6v2.8M308.7 217.5h2.8M310.1 216.1v2.8M313.0 219.4h2.8M314.4 218.0v2.8M317.4 218.0h2.8M318.8 216.6v2.8M320.2 217.0h2.8M321.6 215.6v2.8M322.6 219.4h2.8M324.0 218.0v2.8M327.4 217.5h2.8M328.8 216.1v2.8M329.9 218.0h2.8M331.2 216.6v2.8M333.2 218.5h2.8M334.6 217.1v2.8M342.8 218.5h2.8M344.2 217.1v2.8M308.2 222.3h2.8M309.6 220.9v2.8M320.7 223.8h2.8M322.1 222.3v2.8M313.0 225.2h2.8M314.4 223.8v2.8M315.9 227.1h2.8M317.3 225.7v2.8M326.5 227.1h2.8M327.9 225.7v2.8M331.3 225.7h2.8M332.7 224.3v2.8M335.1 227.1h2.8M336.5 225.7v2.8M337.1 228.1h2.8M338.5 226.7v2.8" stroke="#b3163e" stroke-width="1.0" fill="none" opacity="0.88"/>
<path d="M30.50 308.75V390.75H117.00" fill="none" stroke="#1a1a1a" stroke-width="1.1"/>
<path d="M28.30 320.50H30.50" stroke="#1a1a1a" stroke-width="0.9"/>
<text x="12.11" y="322.50" font-size="6.6" fill="#444" stroke="#444" stroke-width="0.12">10<tspan font-size="4.09" dy="-2.77">-2</tspan></text>
<path d="M28.30 339.25H30.50" stroke="#1a1a1a" stroke-width="0.9"/>
<text x="12.11" y="341.25" font-size="6.6" fill="#444" stroke="#444" stroke-width="0.12">10<tspan font-size="4.09" dy="-2.77">-3</tspan></text>
<path d="M28.30 358.25H30.50" stroke="#1a1a1a" stroke-width="0.9"/>
<text x="12.11" y="360.25" font-size="6.6" fill="#444" stroke="#444" stroke-width="0.12">10<tspan font-size="4.09" dy="-2.77">-4</tspan></text>
<path d="M28.30 377.00H30.50" stroke="#1a1a1a" stroke-width="0.9"/>
<text x="12.11" y="379.00" font-size="6.6" fill="#444" stroke="#444" stroke-width="0.12">10<tspan font-size="4.09" dy="-2.77">-5</tspan></text>
<path d="M43.75 390.75V392.95" stroke="#1a1a1a" stroke-width="0.9"/>
<text x="39.01" y="402.50" font-size="6.6" fill="#444" stroke="#444" stroke-width="0.12">10<tspan font-size="4.09" dy="-2.77">-5</tspan></text>
<path d="M63.25 390.75V392.95" stroke="#1a1a1a" stroke-width="0.9"/>
<text x="58.51" y="402.50" font-size="6.6" fill="#444" stroke="#444" stroke-width="0.12">10<tspan font-size="4.09" dy="-2.77">-4</tspan></text>
<path d="M82.50 390.75V392.95" stroke="#1a1a1a" stroke-width="0.9"/>
<text x="77.76" y="402.50" font-size="6.6" fill="#444" stroke="#444" stroke-width="0.12">10<tspan font-size="4.09" dy="-2.77">-3</tspan></text>
<path d="M102.00 390.75V392.95" stroke="#1a1a1a" stroke-width="0.9"/>
<text x="97.26" y="402.50" font-size="6.6" fill="#444" stroke="#444" stroke-width="0.12">10<tspan font-size="4.09" dy="-2.77">-2</tspan></text>
<text x="37.00" y="415.20" font-size="9.1" fill="#444" stroke="#444" stroke-width="0.22" textLength="74.25" lengthAdjust="spacingAndGlyphs">Lung CD69<tspan font-size="4.6" dy="-2.6">-</tspan><tspan dy="2.6">Trh</tspan> (% clone)</text>
<text x="9.90" y="368.75" font-size="9.1" fill="#444" stroke="#444" stroke-width="0.22" textLength="42.50" lengthAdjust="spacingAndGlyphs" transform="rotate(-90 9.90 368.75)">Tph (% clone)</text>
<path d="M32.9 317.1h2.8M34.3 315.7v2.8M32.9 318.8h2.8M34.3 317.4v2.8M32.9 321.4h2.8M34.3 320.0v2.8M32.9 327.5h2.8M34.3 326.1v2.8M32.9 329.2h2.8M34.3 327.8v2.8M32.9 339.6h2.8M34.3 338.2v2.8M32.9 341.3h2.8M34.3 339.9v2.8M32.9 347.4h2.8M34.3 346.0v2.8M32.9 356.0h2.8M34.3 354.6v2.8M32.9 365.6h2.8M34.3 364.2v2.8M32.9 369.9h2.8M34.3 368.5v2.8M32.9 374.2h2.8M34.3 372.8v2.8M32.9 377.7h2.8M34.3 376.3v2.8M32.9 381.1h2.8M34.3 379.7v2.8M65.3 311.1h2.8M66.7 309.7v2.8M48.0 315.7h2.8M49.4 314.3v2.8M96.1 313.7h2.8M97.5 312.3v2.8M105.6 322.6h2.8M107.0 321.2v2.8M112.5 323.7h2.8M113.9 322.3v2.8M105.6 331.0h2.8M107.0 329.6v2.8M39.0 337.0h2.8M40.4 335.6v2.8M46.8 335.3h2.8M48.2 333.9v2.8M47.6 342.2h2.8M49.0 340.8v2.8M101.3 341.3h2.8M102.7 339.9v2.8M105.6 340.5h2.8M107.0 339.1v2.8M103.0 343.4h2.8M104.4 342.0v2.8M39.0 345.7h2.8M40.4 344.3v2.8M42.4 346.5h2.8M43.8 345.1v2.8M39.0 349.6h2.8M40.4 348.2v2.8M42.4 353.1h2.8M43.8 351.7v2.8M103.0 360.0h2.8M104.4 358.6v2.8M42.4 364.7h2.8M43.8 363.3v2.8M64.9 365.6h2.8M66.3 364.2v2.8M65.8 366.4h2.8M67.2 365.0v2.8M55.4 367.3h2.8M56.8 365.9v2.8M45.0 369.4h2.8M46.4 368.0v2.8M54.6 370.4h2.8M56.0 369.0v2.8M59.4 369.9h2.8M60.8 368.5v2.8M63.2 368.1h2.8M64.6 366.7v2.8M69.3 370.7h2.8M70.7 369.3v2.8M74.4 369.9h2.8M75.8 368.5v2.8M78.8 371.1h2.8M80.2 369.7v2.8M82.2 371.6h2.8M83.6 370.2v2.8M39.0 375.6h2.8M40.4 374.2v2.8M45.0 375.9h2.8M46.4 374.5v2.8M48.0 375.9h2.8M49.4 374.5v2.8M66.7 375.9h2.8M68.1 374.5v2.8M71.9 375.1h2.8M73.3 373.7v2.8M71.0 377.7h2.8M72.4 376.3v2.8M73.2 377.7h2.8M74.6 376.3v2.8M75.0 377.7h2.8M76.4 376.3v2.8M84.0 377.7h2.8M85.4 376.3v2.8M42.1 378.5h2.8M43.5 377.1v2.8M48.0 381.1h2.8M49.4 379.7v2.8M32.9 386.8h2.8M34.3 385.4v2.8M39.0 386.8h2.8M40.4 385.4v2.8M59.7 386.8h2.8M61.1 385.4v2.8M62.3 386.8h2.8M63.7 385.4v2.8M65.8 386.8h2.8M67.2 385.4v2.8M69.3 386.8h2.8M70.7 385.4v2.8M77.0 386.8h2.8M78.4 385.4v2.8M80.5 386.8h2.8M81.9 385.4v2.8M83.1 386.8h2.8M84.5 385.4v2.8M85.7 386.8h2.8M87.1 385.4v2.8M90.0 386.8h2.8M91.4 385.4v2.8M101.3 386.8h2.8M102.7 385.4v2.8M59.2 315.5h2.8M60.6 314.1v2.8M75.5 315.5h2.8M76.9 314.1v2.8M71.7 318.8h2.8M73.1 317.4v2.8M57.3 320.8h2.8M58.7 319.4v2.8M67.8 321.7h2.8M69.2 320.3v2.8M76.5 321.2h2.8M77.9 319.9v2.8M77.4 322.7h2.8M78.8 321.3v2.8M74.1 324.1h2.8M75.5 322.7v2.8M80.3 322.2h2.8M81.7 320.8v2.8M86.6 319.8h2.8M88.0 318.4v2.8M87.1 321.7h2.8M88.5 320.3v2.8M89.9 324.1h2.8M91.3 322.7v2.8M92.8 322.7h2.8M94.2 321.3v2.8M51.5 329.4h2.8M52.9 328.0v2.8M57.7 327.5h2.8M59.1 326.1v2.8M57.3 330.4h2.8M58.7 329.0v2.8M63.0 327.0h2.8M64.4 325.6v2.8M68.3 326.5h2.8M69.7 325.1v2.8M71.7 327.5h2.8M73.1 326.1v2.8M74.1 328.9h2.8M75.5 327.5v2.8M76.0 325.1h2.8M77.4 323.7v2.8M81.3 325.6h2.8M82.7 324.2v2.8M82.3 329.4h2.8M83.7 328.0v2.8M85.1 324.1h2.8M86.5 322.7v2.8M86.6 327.5h2.8M88.0 326.1v2.8M89.0 325.6h2.8M90.4 324.2v2.8M90.9 325.1h2.8M92.3 323.7v2.8M93.8 328.5h2.8M95.2 327.1v2.8M95.7 331.8h2.8M97.1 330.4v2.8M49.6 335.7h2.8M51.0 334.3v2.8M55.8 334.7h2.8M57.2 333.3v2.8M57.7 333.3h2.8M59.1 331.9v2.8M58.2 336.2h2.8M59.6 334.8v2.8M63.0 334.2h2.8M64.4 332.8v2.8M65.9 335.7h2.8M67.3 334.3v2.8M70.2 332.3h2.8M71.6 330.9v2.8M72.2 330.4h2.8M73.6 329.0v2.8M74.6 335.7h2.8M76.0 334.3v2.8M76.5 333.3h2.8M77.9 331.9v2.8M78.9 330.9h2.8M80.3 329.5v2.8M80.3 334.2h2.8M81.7 332.8v2.8M81.8 336.2h2.8M83.2 334.8v2.8M84.2 332.8h2.8M85.6 331.4v2.8M86.1 334.2h2.8M87.5 332.8v2.8M87.1 330.4h2.8M88.5 329.0v2.8M89.0 335.7h2.8M90.4 334.3v2.8M92.3 334.7h2.8M93.8 333.3v2.8M95.2 337.1h2.8M96.6 335.7v2.8M57.3 338.1h2.8M58.7 336.7v2.8M57.7 340.5h2.8M59.1 339.1v2.8M61.1 342.9h2.8M62.5 341.5v2.8M63.0 340.5h2.8M64.4 339.1v2.8M65.4 341.0h2.8M66.8 339.6v2.8M65.9 337.1h2.8M67.3 335.7v2.8M71.7 338.6h2.8M73.1 337.2v2.8M74.1 341.0h2.8M75.5 339.6v2.8M76.0 339.5h2.8M77.4 338.1v2.8M77.4 338.1h2.8M78.8 336.7v2.8M79.4 341.0h2.8M80.8 339.6v2.8M80.8 337.6h2.8M82.2 336.2v2.8M81.8 340.0h2.8M83.2 338.6v2.8M84.2 341.9h2.8M85.6 340.5v2.8M86.6 340.5h2.8M88.0 339.1v2.8M89.0 338.6h2.8M90.4 337.2v2.8M90.9 341.0h2.8M92.3 339.6v2.8M94.3 341.0h2.8M95.7 339.6v2.8M54.4 342.9h2.8M55.8 341.5v2.8M61.1 343.8h2.8M62.5 342.4v2.8M64.5 346.2h2.8M65.9 344.9v2.8M65.4 347.7h2.8M66.8 346.3v2.8M68.3 343.8h2.8M69.7 342.4v2.8M69.3 348.2h2.8M70.7 346.8v2.8M72.2 348.7h2.8M73.6 347.3v2.8M74.1 349.1h2.8M75.5 347.7v2.8M75.0 350.1h2.8M76.4 348.7v2.8M77.0 345.8h2.8M78.4 344.4v2.8M79.8 346.7h2.8M81.2 345.3v2.8M82.7 343.8h2.8M84.1 342.4v2.8M84.7 346.7h2.8M86.1 345.3v2.8M86.6 345.8h2.8M88.0 344.4v2.8M89.9 345.8h2.8M91.3 344.4v2.8M53.9 351.5h2.8M55.3 350.1v2.8M60.1 350.6h2.8M61.5 349.2v2.8M64.5 350.6h2.8M65.9 349.2v2.8M65.9 352.5h2.8M67.3 351.1v2.8M68.8 352.5h2.8M70.2 351.1v2.8M72.2 351.5h2.8M73.6 350.1v2.8M74.6 353.0h2.8M76.0 351.6v2.8M77.4 354.4h2.8M78.8 353.0v2.8M81.3 353.5h2.8M82.7 352.1v2.8M85.1 352.5h2.8M86.5 351.1v2.8M87.1 353.0h2.8M88.5 351.6v2.8M61.1 354.4h2.8M62.5 353.0v2.8M50.5 359.7h2.8M51.9 358.3v2.8M55.8 355.9h2.8M57.2 354.5v2.8M58.2 360.2h2.8M59.6 358.8v2.8M63.0 357.3h2.8M64.4 355.9v2.8M65.9 359.2h2.8M67.3 357.8v2.8M67.8 356.3h2.8M69.2 354.9v2.8M66.9 363.1h2.8M68.3 361.7v2.8M75.5 356.3h2.8M76.9 354.9v2.8M81.3 357.3h2.8M82.7 355.9v2.8M86.6 356.3h2.8M88.0 354.9v2.8M87.1 357.8h2.8M88.5 356.4v2.8M92.8 359.2h2.8M94.2 357.8v2.8M95.7 358.3h2.8M97.1 356.9v2.8M72.6 364.0h2.8M74.0 362.6v2.8M81.3 363.1h2.8M82.7 361.7v2.8" stroke="#b3163e" stroke-width="1.0" fill="none" opacity="0.88"/>
<path d="M153.25 308.00V390.50H240.75" fill="none" stroke="#1a1a1a" stroke-width="1.1"/>
<path d="M151.05 320.50H153.25" stroke="#1a1a1a" stroke-width="0.9"/>
<text x="133.11" y="322.50" font-size="6.6" fill="#444" stroke="#444" stroke-width="0.12">10<tspan font-size="4.09" dy="-2.77">-2</tspan></text>
<path d="M151.05 339.25H153.25" stroke="#1a1a1a" stroke-width="0.9"/>
<text x="133.11" y="341.25" font-size="6.6" fill="#444" stroke="#444" stroke-width="0.12">10<tspan font-size="4.09" dy="-2.77">-3</tspan></text>
<path d="M151.05 358.25H153.25" stroke="#1a1a1a" stroke-width="0.9"/>
<text x="133.11" y="360.25" font-size="6.6" fill="#444" stroke="#444" stroke-width="0.12">10<tspan font-size="4.09" dy="-2.77">-4</tspan></text>
<path d="M151.05 377.00H153.25" stroke="#1a1a1a" stroke-width="0.9"/>
<text x="133.11" y="379.00" font-size="6.6" fill="#444" stroke="#444" stroke-width="0.12">10<tspan font-size="4.09" dy="-2.77">-5</tspan></text>
<path d="M165.75 390.50V392.70" stroke="#1a1a1a" stroke-width="0.9"/>
<text x="161.01" y="402.00" font-size="6.6" fill="#444" stroke="#444" stroke-width="0.12">10<tspan font-size="4.09" dy="-2.77">-5</tspan></text>
<path d="M184.50 390.50V392.70" stroke="#1a1a1a" stroke-width="0.9"/>
<text x="179.76" y="402.00" font-size="6.6" fill="#444" stroke="#444" stroke-width="0.12">10<tspan font-size="4.09" dy="-2.77">-4</tspan></text>
<path d="M203.25 390.50V392.70" stroke="#1a1a1a" stroke-width="0.9"/>
<text x="198.51" y="402.00" font-size="6.6" fill="#444" stroke="#444" stroke-width="0.12">10<tspan font-size="4.09" dy="-2.77">-3</tspan></text>
<path d="M222.50 390.50V392.70" stroke="#1a1a1a" stroke-width="0.9"/>
<text x="217.76" y="402.00" font-size="6.6" fill="#444" stroke="#444" stroke-width="0.12">10<tspan font-size="4.09" dy="-2.77">-2</tspan></text>
<text x="158.75" y="414.95" font-size="9.1" fill="#444" stroke="#444" stroke-width="0.22" textLength="77.00" lengthAdjust="spacingAndGlyphs">Lung CD69<tspan font-size="4.6" dy="-2.6">+</tspan><tspan dy="2.6">Trh</tspan> (% clone)</text>
<text x="131.65" y="368.75" font-size="9.1" fill="#444" stroke="#444" stroke-width="0.22" textLength="43.75" lengthAdjust="spacingAndGlyphs" transform="rotate(-90 131.65 368.75)">Tph (% clone)</text>
<path d="M155.9 317.1h2.8M157.3 315.7v2.8M155.9 318.0h2.8M157.3 316.6v2.8M155.9 331.8h2.8M157.3 330.4v2.8M155.9 333.5h2.8M157.3 332.1v2.8M155.9 335.3h2.8M157.3 333.9v2.8M155.9 337.0h2.8M157.3 335.6v2.8M155.9 338.7h2.8M157.3 337.3v2.8M155.9 341.3h2.8M157.3 339.9v2.8M155.9 343.1h2.8M157.3 341.7v2.8M155.9 348.3h2.8M157.3 346.9v2.8M155.9 350.8h2.8M157.3 349.4v2.8M155.9 352.6h2.8M157.3 351.2v2.8M155.9 378.5h2.8M157.3 377.1v2.8M155.9 382.0h2.8M157.3 380.6v2.8M221.2 310.5h2.8M222.6 309.1v2.8M222.5 313.3h2.8M223.9 311.9v2.8M207.3 315.7h2.8M208.7 314.3v2.8M207.8 318.5h2.8M209.2 317.1v2.8M205.6 320.6h2.8M207.0 319.2v2.8M211.3 322.0h2.8M212.7 320.6v2.8M213.0 322.3h2.8M214.4 320.9v2.8M214.7 322.6h2.8M216.1 321.2v2.8M217.3 323.2h2.8M218.7 321.8v2.8M225.1 323.2h2.8M226.5 321.8v2.8M227.4 322.3h2.8M228.8 320.9v2.8M232.9 327.1h2.8M234.3 325.7v2.8M161.6 322.0h2.8M163.0 320.6v2.8M179.3 322.0h2.8M180.7 320.6v2.8M182.7 322.6h2.8M184.1 321.2v2.8M187.1 324.0h2.8M188.5 322.6v2.8M187.9 324.4h2.8M189.3 323.0v2.8M197.4 322.3h2.8M198.8 320.9v2.8M196.9 327.1h2.8M198.3 325.7v2.8M201.4 325.8h2.8M202.8 324.4v2.8M204.4 330.1h2.8M205.8 328.7v2.8M207.8 330.6h2.8M209.2 329.2v2.8M213.0 326.6h2.8M214.4 325.2v2.8M216.5 328.4h2.8M217.9 327.0v2.8M223.4 331.8h2.8M224.8 330.4v2.8M224.3 331.0h2.8M225.7 329.6v2.8M161.6 330.1h2.8M163.0 328.7v2.8M167.5 330.1h2.8M168.9 328.7v2.8M173.7 332.3h2.8M175.1 330.9v2.8M180.1 328.4h2.8M181.5 327.0v2.8M191.4 333.5h2.8M192.8 332.1v2.8M194.5 334.4h2.8M195.9 333.0v2.8M199.2 336.1h2.8M200.6 334.7v2.8M200.9 333.5h2.8M202.3 332.1v2.8M203.5 336.1h2.8M204.9 334.7v2.8M205.2 335.3h2.8M206.6 333.9v2.8M207.8 335.8h2.8M209.2 334.4v2.8M212.2 335.8h2.8M213.6 334.4v2.8M213.0 332.7h2.8M214.4 331.3v2.8M215.6 331.0h2.8M217.0 329.6v2.8M220.8 332.3h2.8M222.2 330.9v2.8M220.8 336.1h2.8M222.2 334.7v2.8M161.6 338.2h2.8M163.0 336.8v2.8M167.5 339.6h2.8M168.9 338.2v2.8M185.3 337.5h2.8M186.7 336.1v2.8M187.1 338.7h2.8M188.5 337.3v2.8M191.4 340.5h2.8M192.8 339.1v2.8M194.9 341.0h2.8M196.3 339.6v2.8M203.5 340.5h2.8M204.9 339.1v2.8M207.0 339.6h2.8M208.4 338.2v2.8M211.3 341.3h2.8M212.7 339.9v2.8M213.0 341.7h2.8M214.4 340.3v2.8M214.7 339.6h2.8M216.1 338.2v2.8M218.2 340.5h2.8M219.6 339.1v2.8M219.9 343.1h2.8M221.3 341.7v2.8M221.7 343.1h2.8M223.1 341.7v2.8M161.6 343.4h2.8M163.0 342.0v2.8M175.8 345.1h2.8M177.2 343.7v2.8M177.6 343.9h2.8M179.0 342.5v2.8M181.4 341.3h2.8M182.8 339.9v2.8M194.0 347.4h2.8M195.4 346.0v2.8M200.0 344.8h2.8M201.4 343.4v2.8M203.5 345.7h2.8M204.9 344.3v2.8M204.4 347.4h2.8M205.8 346.0v2.8M206.1 343.1h2.8M207.5 341.7v2.8M210.4 343.9h2.8M211.8 342.5v2.8M212.2 346.5h2.8M213.6 345.1v2.8M213.9 344.8h2.8M215.3 343.4v2.8M167.5 347.0h2.8M168.9 345.6v2.8M168.0 350.3h2.8M169.4 348.9v2.8M172.0 353.1h2.8M173.4 351.7v2.8M181.9 347.4h2.8M183.3 346.0v2.8M184.5 350.3h2.8M185.9 348.9v2.8M196.6 350.8h2.8M198.0 349.4v2.8M200.9 349.1h2.8M202.3 347.7v2.8M205.2 351.7h2.8M206.6 350.3v2.8M219.9 351.4h2.8M221.3 350.0v2.8M165.1 355.2h2.8M166.5 353.8v2.8M167.5 354.3h2.8M168.9 352.9v2.8M178.4 354.3h2.8M179.8 352.9v2.8M181.0 352.6h2.8M182.4 351.2v2.8M191.4 355.2h2.8M192.8 353.8v2.8M196.9 354.3h2.8M198.3 352.9v2.8M209.6 356.6h2.8M211.0 355.2v2.8M213.9 358.6h2.8M215.3 357.2v2.8M214.7 360.0h2.8M216.1 358.6v2.8M219.1 359.0h2.8M220.5 357.6v2.8M168.9 360.0h2.8M170.3 358.6v2.8M177.2 360.4h2.8M178.6 359.0v2.8M197.4 358.6h2.8M198.8 357.2v2.8M198.3 364.7h2.8M199.7 363.3v2.8M201.4 366.4h2.8M202.8 365.0v2.8M207.8 363.8h2.8M209.2 362.4v2.8M212.2 362.4h2.8M213.6 361.0v2.8M208.7 367.6h2.8M210.1 366.2v2.8M167.5 366.4h2.8M168.9 365.0v2.8M185.9 367.3h2.8M187.3 365.9v2.8M194.0 370.4h2.8M195.4 369.0v2.8M198.0 371.1h2.8M199.4 369.7v2.8M200.9 374.2h2.8M202.3 372.8v2.8M216.0 370.4h2.8M217.4 369.0v2.8M161.6 375.9h2.8M163.0 374.5v2.8M177.6 378.5h2.8M179.0 377.1v2.8M179.6 378.5h2.8M181.0 377.1v2.8M185.3 375.9h2.8M186.7 374.5v2.8M189.3 375.9h2.8M190.7 374.5v2.8M182.4 381.5h2.8M183.8 380.1v2.8M165.1 381.5h2.8M166.5 380.1v2.8M198.3 378.5h2.8M199.7 377.1v2.8M212.2 378.5h2.8M213.6 377.1v2.8M155.9 387.2h2.8M157.3 385.8v2.8M161.6 387.2h2.8M163.0 385.8v2.8M167.5 387.2h2.8M168.9 385.8v2.8M172.0 387.2h2.8M173.4 385.8v2.8M185.3 387.2h2.8M186.7 385.8v2.8M187.1 387.2h2.8M188.5 385.8v2.8M196.9 387.2h2.8M198.3 385.8v2.8M199.2 387.2h2.8M200.6 385.8v2.8M202.1 387.2h2.8M203.5 385.8v2.8M207.8 387.2h2.8M209.2 385.8v2.8M212.2 387.2h2.8M213.6 385.8v2.8M213.9 387.2h2.8M215.3 385.8v2.8M216.5 387.2h2.8M217.9 385.8v2.8M222.9 387.2h2.8M224.3 385.8v2.8" stroke="#b3163e" stroke-width="1.0" fill="none" opacity="0.88"/>
<path d="M280.50 307.50V390.75H366.75" fill="none" stroke="#1a1a1a" stroke-width="1.1"/>
<path d="M278.30 325.00H280.50" stroke="#1a1a1a" stroke-width="0.9"/>
<text x="263.61" y="327.00" font-size="6.6" fill="#444" stroke="#444" stroke-width="0.12">10<tspan font-size="4.09" dy="-2.77">-2</tspan></text>
<path d="M278.30 343.00H280.50" stroke="#1a1a1a" stroke-width="0.9"/>
<text x="263.61" y="345.00" font-size="6.6" fill="#444" stroke="#444" stroke-width="0.12">10<tspan font-size="4.09" dy="-2.77">-3</tspan></text>
<path d="M278.30 360.75H280.50" stroke="#1a1a1a" stroke-width="0.9"/>
<text x="263.61" y="362.75" font-size="6.6" fill="#444" stroke="#444" stroke-width="0.12">10<tspan font-size="4.09" dy="-2.77">-4</tspan></text>
<path d="M278.30 378.75H280.50" stroke="#1a1a1a" stroke-width="0.9"/>
<text x="263.61" y="380.75" font-size="6.6" fill="#444" stroke="#444" stroke-width="0.12">10<tspan font-size="4.09" dy="-2.77">-5</tspan></text>
<path d="M293.25 390.75V392.95" stroke="#1a1a1a" stroke-width="0.9"/>
<text x="288.51" y="402.00" font-size="6.6" fill="#444" stroke="#444" stroke-width="0.12">10<tspan font-size="4.09" dy="-2.77">-5</tspan></text>
<path d="M312.50 390.75V392.95" stroke="#1a1a1a" stroke-width="0.9"/>
<text x="307.76" y="402.00" font-size="6.6" fill="#444" stroke="#444" stroke-width="0.12">10<tspan font-size="4.09" dy="-2.77">-4</tspan></text>
<path d="M332.00 390.75V392.95" stroke="#1a1a1a" stroke-width="0.9"/>
<text x="327.26" y="402.00" font-size="6.6" fill="#444" stroke="#444" stroke-width="0.12">10<tspan font-size="4.09" dy="-2.77">-3</tspan></text>
<path d="M351.25 390.75V392.95" stroke="#1a1a1a" stroke-width="0.9"/>
<text x="346.51" y="402.00" font-size="6.6" fill="#444" stroke="#444" stroke-width="0.12">10<tspan font-size="4.09" dy="-2.77">-2</tspan></text>
<text x="287.00" y="414.95" font-size="9.1" fill="#444" stroke="#444" stroke-width="0.22" textLength="75.00" lengthAdjust="spacingAndGlyphs">Lung CD69<tspan font-size="4.6" dy="-2.6">-</tspan><tspan dy="2.6">Trh</tspan> (% clone)</text>
<text x="259.90" y="388.75" font-size="9.1" fill="#444" stroke="#444" stroke-width="0.22" textLength="77.50" lengthAdjust="spacingAndGlyphs" transform="rotate(-90 259.90 388.75)">Lung CD69<tspan font-size="4.6" dy="-2.6">+</tspan><tspan dy="2.6">Trh</tspan> (% clone)</text>
<path d="M282.9 329.6h2.8M284.3 328.2v2.8M282.9 331.0h2.8M284.3 329.6v2.8M282.9 334.8h2.8M284.3 333.4v2.8M282.9 337.0h2.8M284.3 335.6v2.8M282.9 344.4h2.8M284.3 343.0v2.8M282.9 346.2h2.8M284.3 344.8v2.8M282.9 348.3h2.8M284.3 346.9v2.8M282.9 362.4h2.8M284.3 361.0v2.8M282.9 378.5h2.8M284.3 377.1v2.8M282.9 382.0h2.8M284.3 380.6v2.8M336.6 313.3h2.8M338.0 311.9v2.8M344.0 311.1h2.8M345.4 309.7v2.8M343.0 318.8h2.8M344.4 317.4v2.8M362.5 321.4h2.8M363.9 320.0v2.8M292.1 326.6h2.8M293.5 325.2v2.8M288.6 337.0h2.8M290.0 335.6v2.8M288.6 339.3h2.8M290.0 337.9v2.8M296.8 337.9h2.8M298.2 336.5v2.8M298.0 337.0h2.8M299.4 335.6v2.8M298.0 342.7h2.8M299.4 341.3v2.8M288.6 345.1h2.8M290.0 343.7v2.8M288.6 348.3h2.8M290.0 346.9v2.8M298.0 351.7h2.8M299.4 350.3v2.8M292.1 357.2h2.8M293.5 355.8v2.8M288.6 359.5h2.8M290.0 358.1v2.8M292.1 366.4h2.8M293.5 365.0v2.8M298.0 363.8h2.8M299.4 362.4v2.8M294.5 370.4h2.8M295.9 369.0v2.8M288.6 371.1h2.8M290.0 369.7v2.8M288.6 378.5h2.8M290.0 377.1v2.8M296.8 378.5h2.8M298.2 377.1v2.8M312.3 382.0h2.8M313.7 380.6v2.8M315.8 382.0h2.8M317.2 380.6v2.8M326.2 382.0h2.8M327.6 380.6v2.8M330.5 381.1h2.8M331.9 379.7v2.8M333.6 382.0h2.8M335.0 380.6v2.8M336.6 382.0h2.8M338.0 380.6v2.8M340.0 381.1h2.8M341.4 379.7v2.8M282.9 387.2h2.8M284.3 385.8v2.8M288.6 387.2h2.8M290.0 385.8v2.8M292.1 387.2h2.8M293.5 385.8v2.8M296.8 387.2h2.8M298.2 385.8v2.8M300.7 387.2h2.8M302.1 385.8v2.8M313.2 387.2h2.8M314.6 385.8v2.8M315.8 387.2h2.8M317.2 385.8v2.8M319.3 387.2h2.8M320.7 385.8v2.8M325.0 387.2h2.8M326.4 385.8v2.8M328.8 387.2h2.8M330.2 385.8v2.8M330.5 387.2h2.8M331.9 385.8v2.8M332.2 387.2h2.8M333.6 385.8v2.8M334.8 387.2h2.8M336.2 385.8v2.8M340.0 387.2h2.8M341.4 385.8v2.8M356.1 387.2h2.8M357.5 385.8v2.8M318.8 321.2h2.8M320.2 319.8v2.8M333.8 321.7h2.8M335.2 320.3v2.8M336.7 324.6h2.8M338.1 323.2v2.8M340.1 321.7h2.8M341.5 320.3v2.8M345.9 322.9h2.8M347.3 321.5v2.8M351.1 322.3h2.8M352.5 320.9v2.8M352.8 324.6h2.8M354.2 323.2v2.8M355.7 325.8h2.8M357.1 324.4v2.8M315.3 324.6h2.8M316.7 323.2v2.8M318.2 325.2h2.8M319.6 323.8v2.8M326.3 326.3h2.8M327.7 324.9v2.8M335.5 327.5h2.8M336.9 326.1v2.8M339.5 328.1h2.8M340.9 326.7v2.8M343.0 326.3h2.8M344.4 324.9v2.8M309.0 332.7h2.8M310.4 331.3v2.8M312.4 331.0h2.8M313.8 329.6v2.8M315.9 331.0h2.8M317.3 329.6v2.8M320.5 329.8h2.8M321.9 328.4v2.8M323.4 331.5h2.8M324.8 330.1v2.8M325.1 333.3h2.8M326.5 331.9v2.8M326.3 330.4h2.8M327.7 329.0v2.8M329.2 333.8h2.8M330.6 332.4v2.8M330.9 332.7h2.8M332.3 331.3v2.8M334.4 329.2h2.8M335.8 327.8v2.8M336.7 331.5h2.8M338.1 330.1v2.8M339.5 331.5h2.8M340.9 330.1v2.8M342.4 332.1h2.8M343.8 330.7v2.8M345.9 331.5h2.8M347.3 330.1v2.8M352.2 331.5h2.8M353.6 330.1v2.8M352.8 329.2h2.8M354.2 327.8v2.8M306.7 336.7h2.8M308.1 335.3v2.8M310.1 335.0h2.8M311.5 333.6v2.8M314.7 336.1h2.8M316.1 334.7v2.8M319.4 335.6h2.8M320.8 334.2v2.8M322.2 337.3h2.8M323.6 335.9v2.8M326.9 336.1h2.8M328.3 334.7v2.8M329.7 337.3h2.8M331.1 335.9v2.8M333.2 336.1h2.8M334.6 334.7v2.8M335.5 335.0h2.8M336.9 333.6v2.8M337.2 336.1h2.8M338.6 334.7v2.8M340.7 335.6h2.8M342.1 334.2v2.8M344.7 336.1h2.8M346.1 334.7v2.8M348.2 338.5h2.8M349.6 337.1v2.8M304.4 341.3h2.8M305.8 339.9v2.8M308.4 339.6h2.8M309.8 338.2v2.8M303.2 343.1h2.8M304.6 341.7v2.8M306.7 344.8h2.8M308.1 343.4v2.8M311.3 344.2h2.8M312.7 342.8v2.8M314.2 341.9h2.8M315.6 340.5v2.8M317.1 343.1h2.8M318.5 341.7v2.8M319.9 341.3h2.8M321.3 339.9v2.8M322.8 344.2h2.8M324.2 342.8v2.8M326.3 343.1h2.8M327.7 341.7v2.8M328.6 340.8h2.8M330.0 339.4v2.8M330.3 341.9h2.8M331.7 340.5v2.8M332.0 340.2h2.8M333.4 338.8v2.8M333.2 342.5h2.8M334.6 341.1v2.8M335.5 341.3h2.8M336.9 339.9v2.8M338.4 341.9h2.8M339.8 340.5v2.8M340.1 343.1h2.8M341.5 341.7v2.8M343.0 344.8h2.8M344.4 343.4v2.8M345.9 345.4h2.8M347.3 344.0v2.8M350.5 346.5h2.8M351.9 345.1v2.8M355.1 347.7h2.8M356.5 346.3v2.8M309.0 349.4h2.8M310.4 348.0v2.8M313.0 348.3h2.8M314.4 346.9v2.8M315.9 348.8h2.8M317.3 347.4v2.8M318.2 350.0h2.8M319.6 348.6v2.8M320.5 347.1h2.8M321.9 345.7v2.8M325.1 347.1h2.8M326.5 345.7v2.8M329.2 346.5h2.8M330.6 345.1v2.8M330.9 348.3h2.8M332.3 346.9v2.8M333.8 348.3h2.8M335.2 346.9v2.8M336.7 346.5h2.8M338.1 345.1v2.8M343.0 347.7h2.8M344.4 346.3v2.8M346.5 348.3h2.8M347.9 346.9v2.8M305.5 352.9h2.8M306.9 351.5v2.8M310.1 354.0h2.8M311.5 352.6v2.8M314.7 352.9h2.8M316.1 351.5v2.8M318.8 352.3h2.8M320.2 350.9v2.8M322.2 351.7h2.8M323.6 350.3v2.8M325.7 353.4h2.8M327.1 352.0v2.8M328.6 352.9h2.8M330.0 351.5v2.8M333.2 350.6h2.8M334.6 349.2v2.8M335.5 352.9h2.8M336.9 351.5v2.8M339.0 352.3h2.8M340.4 350.9v2.8M344.2 352.9h2.8M345.6 351.5v2.8M309.0 355.2h2.8M310.4 353.8v2.8M312.4 356.9h2.8M313.8 355.5v2.8M315.9 356.3h2.8M317.3 354.9v2.8M319.9 355.8h2.8M321.3 354.4v2.8M322.2 358.1h2.8M323.6 356.7v2.8M325.1 356.9h2.8M326.5 355.5v2.8M328.0 355.8h2.8M329.4 354.4v2.8M332.0 356.9h2.8M333.4 355.5v2.8M334.4 357.5h2.8M335.8 356.1v2.8M336.7 356.9h2.8M338.1 355.5v2.8M339.5 356.9h2.8M340.9 355.5v2.8M343.0 358.1h2.8M344.4 356.7v2.8M304.9 359.2h2.8M306.3 357.8v2.8M309.6 359.8h2.8M311.0 358.4v2.8M313.6 359.2h2.8M315.0 357.8v2.8M317.6 359.2h2.8M319.0 357.8v2.8M323.4 359.2h2.8M324.8 357.8v2.8M333.8 360.9h2.8M335.2 359.5v2.8M343.0 362.1h2.8M344.4 360.7v2.8M356.3 361.5h2.8M357.7 360.1v2.8M300.9 363.8h2.8M302.3 362.4v2.8M306.7 363.3h2.8M308.1 361.9v2.8M311.3 363.8h2.8M312.7 362.4v2.8M316.5 362.7h2.8M317.9 361.3v2.8M319.4 363.8h2.8M320.8 362.4v2.8M321.7 365.0h2.8M323.1 363.6v2.8M324.6 365.6h2.8M326.0 364.2v2.8M334.4 363.3h2.8M335.8 361.9v2.8M334.4 366.1h2.8M335.8 364.7v2.8M300.3 367.3h2.8M301.7 365.9v2.8M307.3 366.7h2.8M308.7 365.3v2.8M310.1 367.3h2.8M311.5 365.9v2.8M309.0 369.6h2.8M310.4 368.2v2.8M322.8 369.6h2.8M324.2 368.2v2.8M336.7 370.2h2.8M338.1 368.8v2.8M315.9 373.1h2.8M317.3 371.7v2.8M319.4 372.5h2.8M320.8 371.1v2.8M326.9 371.9h2.8M328.3 370.5v2.8M308.4 376.5h2.8M309.8 375.1v2.8M305.5 378.8h2.8M306.9 377.4v2.8M319.4 377.7h2.8M320.8 376.3v2.8M335.5 376.5h2.8M336.9 375.1v2.8M340.1 376.5h2.8M341.5 375.1v2.8" stroke="#b3163e" stroke-width="1.0" fill="none" opacity="0.88"/>
<path d="M30.50 448.75V531.00H117.50" fill="none" stroke="#1a1a1a" stroke-width="1.1"/>
<path d="M28.30 460.50H30.50" stroke="#1a1a1a" stroke-width="0.9"/>
<text x="12.11" y="462.50" font-size="6.6" fill="#444" stroke="#444" stroke-width="0.12">10<tspan font-size="4.09" dy="-2.77">-2</tspan></text>
<path d="M28.30 478.75H30.50" stroke="#1a1a1a" stroke-width="0.9"/>
<text x="12.11" y="480.75" font-size="6.6" fill="#444" stroke="#444" stroke-width="0.12">10<tspan font-size="4.09" dy="-2.77">-3</tspan></text>
<path d="M28.30 497.50H30.50" stroke="#1a1a1a" stroke-width="0.9"/>
<text x="12.11" y="499.50" font-size="6.6" fill="#444" stroke="#444" stroke-width="0.12">10<tspan font-size="4.09" dy="-2.77">-4</tspan></text>
<path d="M28.30 516.00H30.50" stroke="#1a1a1a" stroke-width="0.9"/>
<text x="12.11" y="518.00" font-size="6.6" fill="#444" stroke="#444" stroke-width="0.12">10<tspan font-size="4.09" dy="-2.77">-5</tspan></text>
<path d="M46.50 531.00V533.20" stroke="#1a1a1a" stroke-width="0.9"/>
<text x="41.76" y="542.50" font-size="6.6" fill="#444" stroke="#444" stroke-width="0.12">10<tspan font-size="4.09" dy="-2.77">-5</tspan></text>
<path d="M64.50 531.00V533.20" stroke="#1a1a1a" stroke-width="0.9"/>
<text x="59.76" y="542.50" font-size="6.6" fill="#444" stroke="#444" stroke-width="0.12">10<tspan font-size="4.09" dy="-2.77">-4</tspan></text>
<path d="M83.25 531.00V533.20" stroke="#1a1a1a" stroke-width="0.9"/>
<text x="78.51" y="542.50" font-size="6.6" fill="#444" stroke="#444" stroke-width="0.12">10<tspan font-size="4.09" dy="-2.77">-3</tspan></text>
<path d="M101.25 531.00V533.20" stroke="#1a1a1a" stroke-width="0.9"/>
<text x="96.51" y="542.50" font-size="6.6" fill="#444" stroke="#444" stroke-width="0.12">10<tspan font-size="4.09" dy="-2.77">-2</tspan></text>
<text x="35.00" y="555.20" font-size="9.1" fill="#444" stroke="#444" stroke-width="0.22" textLength="75.00" lengthAdjust="spacingAndGlyphs">Lung CD69<tspan font-size="4.6" dy="-2.6">-</tspan><tspan dy="2.6">Trh</tspan> (% clone)</text>
<text x="9.90" y="507.50" font-size="9.1" fill="#444" stroke="#444" stroke-width="0.22" textLength="42.50" lengthAdjust="spacingAndGlyphs" transform="rotate(-90 9.90 507.50)">Tph (% clone)</text>
<path d="M32.9 470.6h2.8M34.3 469.2v2.8M32.9 471.3h2.8M34.3 469.9v2.8M32.9 475.8h2.8M34.3 474.4v2.8M32.9 476.5h2.8M34.3 475.1v2.8M32.9 480.5h2.8M34.3 479.1v2.8M32.9 515.9h2.8M34.3 514.5v2.8M78.8 451.6h2.8M80.2 450.2v2.8M80.5 453.7h2.8M81.9 452.3v2.8M65.8 458.5h2.8M67.2 457.1v2.8M69.3 458.0h2.8M70.7 456.6v2.8M84.0 458.0h2.8M85.4 456.6v2.8M86.6 457.5h2.8M88.0 456.1v2.8M88.3 458.0h2.8M89.7 456.6v2.8M95.2 457.5h2.8M96.6 456.1v2.8M102.6 457.5h2.8M104.0 456.1v2.8M45.6 460.2h2.8M47.0 458.8v2.8M41.6 463.7h2.8M43.0 462.3v2.8M56.3 463.7h2.8M57.7 462.3v2.8M77.0 461.4h2.8M78.4 460.0v2.8M86.6 462.0h2.8M88.0 460.6v2.8M89.2 460.9h2.8M90.6 459.5v2.8M97.8 462.6h2.8M99.2 461.2v2.8M100.4 463.2h2.8M101.8 461.8v2.8M112.5 465.4h2.8M113.9 464.0v2.8M45.6 467.1h2.8M47.0 465.7v2.8M63.2 466.1h2.8M64.6 464.7v2.8M68.4 467.5h2.8M69.8 466.1v2.8M71.9 467.1h2.8M73.3 465.7v2.8M74.4 465.4h2.8M75.8 464.0v2.8M78.8 466.6h2.8M80.2 465.2v2.8M82.2 467.5h2.8M83.6 466.1v2.8M84.8 467.5h2.8M86.2 466.1v2.8M87.4 469.2h2.8M88.8 467.8v2.8M90.9 466.6h2.8M92.3 465.2v2.8M94.3 467.5h2.8M95.7 466.1v2.8M49.4 474.1h2.8M50.8 472.7v2.8M60.1 472.3h2.8M61.5 470.9v2.8M67.5 472.7h2.8M68.9 471.3v2.8M70.1 471.8h2.8M71.5 470.4v2.8M73.6 472.7h2.8M75.0 471.3v2.8M77.0 471.0h2.8M78.4 469.6v2.8M80.5 472.7h2.8M81.9 471.3v2.8M83.1 472.3h2.8M84.5 470.9v2.8M89.2 471.0h2.8M90.6 469.6v2.8M93.0 471.8h2.8M94.4 470.4v2.8M58.9 476.5h2.8M60.3 475.1v2.8M66.7 475.3h2.8M68.1 473.9v2.8M70.1 476.1h2.8M71.5 474.7v2.8M72.7 477.0h2.8M74.1 475.6v2.8M75.3 476.1h2.8M76.7 474.7v2.8M77.9 477.0h2.8M79.3 475.6v2.8M80.5 475.8h2.8M81.9 474.4v2.8M84.8 474.8h2.8M86.2 473.4v2.8M88.3 474.4h2.8M89.7 473.0v2.8M96.1 474.8h2.8M97.5 473.4v2.8M98.7 475.8h2.8M100.1 474.4v2.8M96.9 477.9h2.8M98.3 476.5v2.8M47.3 481.3h2.8M48.7 479.9v2.8M60.1 481.0h2.8M61.5 479.6v2.8M64.1 480.5h2.8M65.5 479.1v2.8M67.5 479.6h2.8M68.9 478.2v2.8M71.0 481.3h2.8M72.4 479.9v2.8M74.4 480.5h2.8M75.8 479.1v2.8M77.0 479.6h2.8M78.4 478.2v2.8M80.5 480.5h2.8M81.9 479.1v2.8M84.0 480.5h2.8M85.4 479.1v2.8M85.7 481.3h2.8M87.1 479.9v2.8M89.2 482.2h2.8M90.6 480.8v2.8M94.3 481.7h2.8M95.7 480.3v2.8M103.0 479.6h2.8M104.4 478.2v2.8M57.1 486.9h2.8M58.5 485.5v2.8M63.2 484.8h2.8M64.6 483.4v2.8M65.8 486.5h2.8M67.2 485.1v2.8M69.3 487.4h2.8M70.7 486.0v2.8M72.7 485.7h2.8M74.1 484.3v2.8M77.9 484.8h2.8M79.3 483.4v2.8M80.5 486.5h2.8M81.9 485.1v2.8M83.1 487.4h2.8M84.5 486.0v2.8M84.0 485.1h2.8M85.4 483.7v2.8M87.4 486.5h2.8M88.8 485.1v2.8M41.6 491.7h2.8M43.0 490.3v2.8M52.0 494.3h2.8M53.4 492.9v2.8M63.2 491.7h2.8M64.6 490.3v2.8M65.8 490.8h2.8M67.2 489.4v2.8M70.1 489.1h2.8M71.5 487.7v2.8M76.2 489.6h2.8M77.6 488.2v2.8M80.5 490.8h2.8M81.9 489.4v2.8M86.6 491.7h2.8M88.0 490.3v2.8M64.1 495.2h2.8M65.5 493.8v2.8M65.8 496.0h2.8M67.2 494.6v2.8M71.0 495.2h2.8M72.4 493.8v2.8M73.9 494.3h2.8M75.3 492.9v2.8M77.0 494.3h2.8M78.4 492.9v2.8M84.0 495.5h2.8M85.4 494.1v2.8M84.0 496.9h2.8M85.4 495.5v2.8M67.5 496.9h2.8M68.9 495.5v2.8M38.1 500.7h2.8M39.5 499.3v2.8M41.6 502.1h2.8M43.0 500.7v2.8M43.8 504.2h2.8M45.2 502.8v2.8M47.3 503.0h2.8M48.7 501.6v2.8M55.4 499.5h2.8M56.8 498.1v2.8M70.1 500.4h2.8M71.5 499.0v2.8M78.8 500.7h2.8M80.2 499.3v2.8M80.2 501.2h2.8M81.6 499.8v2.8M47.3 506.9h2.8M48.7 505.5v2.8M61.5 503.0h2.8M62.9 501.6v2.8M67.0 504.7h2.8M68.4 503.3v2.8M71.9 506.4h2.8M73.3 505.0v2.8M94.3 504.2h2.8M95.7 502.8v2.8M58.9 509.4h2.8M60.3 508.0v2.8M62.3 509.4h2.8M63.7 508.0v2.8M52.8 512.1h2.8M54.2 510.7v2.8M90.0 509.4h2.8M91.4 508.0v2.8M57.7 516.3h2.8M59.1 514.9v2.8M61.5 516.3h2.8M62.9 514.9v2.8M75.7 515.9h2.8M77.1 514.5v2.8M66.7 522.0h2.8M68.1 520.6v2.8M85.7 522.0h2.8M87.1 520.6v2.8M92.3 522.0h2.8M93.7 520.6v2.8M47.3 527.7h2.8M48.7 526.3v2.8M58.9 527.7h2.8M60.3 526.3v2.8M63.2 527.7h2.8M64.6 526.3v2.8M67.5 527.7h2.8M68.9 526.3v2.8M69.3 527.7h2.8M70.7 526.3v2.8M71.9 527.7h2.8M73.3 526.3v2.8M73.9 527.7h2.8M75.3 526.3v2.8M78.8 527.7h2.8M80.2 526.3v2.8M81.4 527.7h2.8M82.8 526.3v2.8M84.0 527.7h2.8M85.4 526.3v2.8M86.0 527.7h2.8M87.4 526.3v2.8M88.3 527.7h2.8M89.7 526.3v2.8M90.0 527.7h2.8M91.4 526.3v2.8M102.1 527.7h2.8M103.5 526.3v2.8" stroke="#b3163e" stroke-width="1.0" fill="none" opacity="0.88"/>
<path d="M153.25 448.75V531.25H240.75" fill="none" stroke="#1a1a1a" stroke-width="1.1"/>
<path d="M151.05 460.00H153.25" stroke="#1a1a1a" stroke-width="0.9"/>
<text x="133.11" y="462.00" font-size="6.6" fill="#444" stroke="#444" stroke-width="0.12">10<tspan font-size="4.09" dy="-2.77">-2</tspan></text>
<path d="M151.05 478.75H153.25" stroke="#1a1a1a" stroke-width="0.9"/>
<text x="133.11" y="480.75" font-size="6.6" fill="#444" stroke="#444" stroke-width="0.12">10<tspan font-size="4.09" dy="-2.77">-3</tspan></text>
<path d="M151.05 497.00H153.25" stroke="#1a1a1a" stroke-width="0.9"/>
<text x="133.11" y="499.00" font-size="6.6" fill="#444" stroke="#444" stroke-width="0.12">10<tspan font-size="4.09" dy="-2.77">-4</tspan></text>
<path d="M151.05 515.50H153.25" stroke="#1a1a1a" stroke-width="0.9"/>
<text x="133.11" y="517.50" font-size="6.6" fill="#444" stroke="#444" stroke-width="0.12">10<tspan font-size="4.09" dy="-2.77">-5</tspan></text>
<path d="M171.75 531.25V533.45" stroke="#1a1a1a" stroke-width="0.9"/>
<text x="167.01" y="542.00" font-size="6.6" fill="#444" stroke="#444" stroke-width="0.12">10<tspan font-size="4.09" dy="-2.77">-5</tspan></text>
<path d="M190.75 531.25V533.45" stroke="#1a1a1a" stroke-width="0.9"/>
<text x="186.01" y="542.00" font-size="6.6" fill="#444" stroke="#444" stroke-width="0.12">10<tspan font-size="4.09" dy="-2.77">-4</tspan></text>
<path d="M209.25 531.25V533.45" stroke="#1a1a1a" stroke-width="0.9"/>
<text x="204.51" y="542.00" font-size="6.6" fill="#444" stroke="#444" stroke-width="0.12">10<tspan font-size="4.09" dy="-2.77">-3</tspan></text>
<path d="M228.00 531.25V533.45" stroke="#1a1a1a" stroke-width="0.9"/>
<text x="223.26" y="542.00" font-size="6.6" fill="#444" stroke="#444" stroke-width="0.12">10<tspan font-size="4.09" dy="-2.77">-2</tspan></text>
<text x="158.75" y="555.70" font-size="9.1" fill="#444" stroke="#444" stroke-width="0.22" textLength="77.50" lengthAdjust="spacingAndGlyphs">Lung CD69<tspan font-size="4.6" dy="-2.6">+</tspan><tspan dy="2.6">Trh</tspan> (% clone)</text>
<text x="131.65" y="507.50" font-size="9.1" fill="#444" stroke="#444" stroke-width="0.22" textLength="42.50" lengthAdjust="spacingAndGlyphs" transform="rotate(-90 131.65 507.50)">Tph (% clone)</text>
<path d="M155.9 455.7h2.8M157.3 454.3v2.8M155.9 462.3h2.8M157.3 460.9v2.8M155.9 466.1h2.8M157.3 464.7v2.8M155.9 467.1h2.8M157.3 465.7v2.8M155.9 468.4h2.8M157.3 467.0v2.8M155.9 470.1h2.8M157.3 468.7v2.8M155.9 471.8h2.8M157.3 470.4v2.8M155.9 473.5h2.8M157.3 472.1v2.8M155.9 475.3h2.8M157.3 473.9v2.8M155.9 477.0h2.8M157.3 475.6v2.8M155.9 478.2h2.8M157.3 476.8v2.8M155.9 496.9h2.8M157.3 495.5v2.8M155.9 512.1h2.8M157.3 510.7v2.8M234.3 451.6h2.8M235.7 450.2v2.8M220.8 453.7h2.8M222.2 452.3v2.8M212.2 458.8h2.8M213.6 457.4v2.8M221.7 458.0h2.8M223.1 456.6v2.8M223.9 457.5h2.8M225.3 456.1v2.8M227.7 457.5h2.8M229.1 456.1v2.8M230.3 456.8h2.8M231.7 455.4v2.8M232.0 457.5h2.8M233.4 456.1v2.8M235.5 458.5h2.8M236.9 457.1v2.8M161.6 462.3h2.8M163.0 460.9v2.8M171.0 460.6h2.8M172.4 459.2v2.8M209.6 463.2h2.8M211.0 461.8v2.8M216.5 463.7h2.8M217.9 462.3v2.8M224.3 463.7h2.8M225.7 462.3v2.8M175.8 467.5h2.8M177.2 466.1v2.8M177.6 466.6h2.8M179.0 465.2v2.8M182.4 466.1h2.8M183.8 464.7v2.8M193.1 467.1h2.8M194.5 465.7v2.8M191.4 470.1h2.8M192.8 468.7v2.8M204.4 466.6h2.8M205.8 465.2v2.8M214.7 466.1h2.8M216.1 464.7v2.8M220.8 469.6h2.8M222.2 468.2v2.8M229.5 465.4h2.8M230.9 464.0v2.8M205.2 472.3h2.8M206.6 470.9v2.8M208.7 473.0h2.8M210.1 471.6v2.8M211.3 473.5h2.8M212.7 472.1v2.8M214.7 471.8h2.8M216.1 470.4v2.8M215.6 472.7h2.8M217.0 471.3v2.8M218.2 473.5h2.8M219.6 472.1v2.8M222.9 474.8h2.8M224.3 473.4v2.8M226.9 471.0h2.8M228.3 469.6v2.8M229.5 472.3h2.8M230.9 470.9v2.8M180.1 474.4h2.8M181.5 473.0v2.8M209.6 477.9h2.8M211.0 476.5v2.8M214.2 477.0h2.8M215.6 475.6v2.8M219.1 479.3h2.8M220.5 477.9v2.8M223.4 479.3h2.8M224.8 477.9v2.8M226.9 475.3h2.8M228.3 473.9v2.8M231.2 479.3h2.8M232.6 477.9v2.8M234.3 479.3h2.8M235.7 477.9v2.8M200.4 481.0h2.8M201.8 479.6v2.8M215.6 481.3h2.8M217.0 479.9v2.8M208.7 483.9h2.8M210.1 482.5v2.8M212.2 484.8h2.8M213.6 483.4v2.8M213.9 483.4h2.8M215.3 482.0v2.8M218.2 483.1h2.8M219.6 481.7v2.8M223.4 483.9h2.8M224.8 482.5v2.8M229.1 481.7h2.8M230.5 480.3v2.8M211.3 489.1h2.8M212.7 487.7v2.8M219.1 489.6h2.8M220.5 488.2v2.8M219.9 490.8h2.8M221.3 489.4v2.8M212.2 496.0h2.8M213.6 494.6v2.8M216.0 494.8h2.8M217.4 493.4v2.8M208.3 498.3h2.8M209.7 496.9v2.8M161.6 494.3h2.8M163.0 492.9v2.8M161.6 500.0h2.8M163.0 498.6v2.8M155.9 496.9h2.8M157.3 495.5v2.8M202.1 502.1h2.8M203.5 500.7v2.8M204.9 504.7h2.8M206.3 503.3v2.8M161.6 522.2h2.8M163.0 520.8v2.8M199.2 522.2h2.8M200.6 520.8v2.8M215.3 522.2h2.8M216.7 520.8v2.8M167.5 527.7h2.8M168.9 526.3v2.8M207.3 527.7h2.8M208.7 526.3v2.8M209.6 527.7h2.8M211.0 526.3v2.8M211.3 527.7h2.8M212.7 526.3v2.8M215.3 527.7h2.8M216.7 526.3v2.8M217.3 527.7h2.8M218.7 526.3v2.8M219.4 527.7h2.8M220.8 526.3v2.8M221.7 527.7h2.8M223.1 526.3v2.8M224.3 527.7h2.8M225.7 526.3v2.8M226.9 527.7h2.8M228.3 526.3v2.8M231.2 527.7h2.8M232.6 526.3v2.8" stroke="#b3163e" stroke-width="1.0" fill="none" opacity="0.88"/>
<path d="M280.50 448.25V531.25H366.25" fill="none" stroke="#1a1a1a" stroke-width="1.1"/>
<path d="M278.30 459.25H280.50" stroke="#1a1a1a" stroke-width="0.9"/>
<text x="263.61" y="461.25" font-size="6.6" fill="#444" stroke="#444" stroke-width="0.12">10<tspan font-size="4.09" dy="-2.77">-2</tspan></text>
<path d="M278.30 477.50H280.50" stroke="#1a1a1a" stroke-width="0.9"/>
<text x="263.61" y="479.50" font-size="6.6" fill="#444" stroke="#444" stroke-width="0.12">10<tspan font-size="4.09" dy="-2.77">-3</tspan></text>
<path d="M278.30 496.25H280.50" stroke="#1a1a1a" stroke-width="0.9"/>
<text x="263.61" y="498.25" font-size="6.6" fill="#444" stroke="#444" stroke-width="0.12">10<tspan font-size="4.09" dy="-2.77">-4</tspan></text>
<path d="M278.30 514.50H280.50" stroke="#1a1a1a" stroke-width="0.9"/>
<text x="263.61" y="516.50" font-size="6.6" fill="#444" stroke="#444" stroke-width="0.12">10<tspan font-size="4.09" dy="-2.77">-5</tspan></text>
<path d="M297.00 531.25V533.45" stroke="#1a1a1a" stroke-width="0.9"/>
<text x="292.26" y="542.00" font-size="6.6" fill="#444" stroke="#444" stroke-width="0.12">10<tspan font-size="4.09" dy="-2.77">-5</tspan></text>
<path d="M314.50 531.25V533.45" stroke="#1a1a1a" stroke-width="0.9"/>
<text x="309.76" y="542.00" font-size="6.6" fill="#444" stroke="#444" stroke-width="0.12">10<tspan font-size="4.09" dy="-2.77">-4</tspan></text>
<path d="M332.50 531.25V533.45" stroke="#1a1a1a" stroke-width="0.9"/>
<text x="327.76" y="542.00" font-size="6.6" fill="#444" stroke="#444" stroke-width="0.12">10<tspan font-size="4.09" dy="-2.77">-3</tspan></text>
<path d="M350.75 531.25V533.45" stroke="#1a1a1a" stroke-width="0.9"/>
<text x="346.01" y="542.00" font-size="6.6" fill="#444" stroke="#444" stroke-width="0.12">10<tspan font-size="4.09" dy="-2.77">-2</tspan></text>
<text x="287.00" y="555.70" font-size="9.1" fill="#444" stroke="#444" stroke-width="0.22" textLength="75.50" lengthAdjust="spacingAndGlyphs">Lung CD69<tspan font-size="4.6" dy="-2.6">-</tspan><tspan dy="2.6">Trh</tspan> (% clone)</text>
<text x="259.90" y="526.25" font-size="9.1" fill="#444" stroke="#444" stroke-width="0.22" textLength="79.25" lengthAdjust="spacingAndGlyphs" transform="rotate(-90 259.90 526.25)">Lung CD69<tspan font-size="4.6" dy="-2.6">+</tspan><tspan dy="2.6">Trh</tspan> (% clone)</text>
<path d="M282.9 465.4h2.8M284.3 464.0v2.8M282.9 467.5h2.8M284.3 466.1v2.8M282.9 470.1h2.8M284.3 468.7v2.8M312.3 451.9h2.8M313.7 450.5v2.8M316.7 451.6h2.8M318.1 450.2v2.8M323.2 451.9h2.8M324.6 450.5v2.8M328.8 452.8h2.8M330.2 451.4v2.8M334.3 451.9h2.8M335.7 450.5v2.8M336.0 452.3h2.8M337.4 450.9v2.8M344.7 452.3h2.8M346.1 450.9v2.8M352.6 452.3h2.8M354.0 450.9v2.8M319.3 454.5h2.8M320.7 453.1v2.8M327.0 455.7h2.8M328.4 454.3v2.8M333.1 456.2h2.8M334.5 454.8v2.8M337.4 455.7h2.8M338.8 454.3v2.8M345.2 456.2h2.8M346.6 454.8v2.8M353.0 455.7h2.8M354.4 454.3v2.8M362.5 457.1h2.8M363.9 455.7v2.8M288.6 458.5h2.8M290.0 457.1v2.8M305.9 458.5h2.8M307.3 457.1v2.8M310.1 457.5h2.8M311.5 456.1v2.8M314.9 459.2h2.8M316.3 457.8v2.8M324.4 458.8h2.8M325.8 457.4v2.8M330.5 458.8h2.8M331.9 457.4v2.8M339.2 459.7h2.8M340.6 458.3v2.8M348.7 459.7h2.8M350.1 458.3v2.8M350.4 461.4h2.8M351.8 460.0v2.8M297.3 463.2h2.8M298.7 461.8v2.8M302.8 464.9h2.8M304.2 463.5v2.8M308.9 462.3h2.8M310.3 460.9v2.8M316.7 462.3h2.8M318.1 460.9v2.8M320.1 463.2h2.8M321.5 461.8v2.8M324.4 462.3h2.8M325.8 460.9v2.8M328.8 464.0h2.8M330.2 462.6v2.8M330.5 464.4h2.8M331.9 463.0v2.8M334.0 462.3h2.8M335.4 460.9v2.8M338.3 462.3h2.8M339.7 460.9v2.8M341.7 461.4h2.8M343.1 460.0v2.8M345.2 463.2h2.8M346.6 461.8v2.8M359.9 464.9h2.8M361.3 463.5v2.8M297.3 468.4h2.8M298.7 467.0v2.8M302.0 467.5h2.8M303.4 466.1v2.8M313.2 467.5h2.8M314.6 466.1v2.8M316.7 466.6h2.8M318.1 465.2v2.8M318.4 467.5h2.8M319.8 466.1v2.8M321.0 468.4h2.8M322.4 467.0v2.8M324.4 469.2h2.8M325.8 467.8v2.8M327.0 467.1h2.8M328.4 465.7v2.8M329.6 467.5h2.8M331.0 466.1v2.8M332.2 469.2h2.8M333.6 467.8v2.8M334.8 467.5h2.8M336.2 466.1v2.8M338.3 469.2h2.8M339.7 467.8v2.8M342.6 466.6h2.8M344.0 465.2v2.8M346.9 468.4h2.8M348.3 467.0v2.8M354.7 469.2h2.8M356.1 467.8v2.8M349.5 467.5h2.8M350.9 466.1v2.8M311.5 472.7h2.8M312.9 471.3v2.8M315.8 471.8h2.8M317.2 470.4v2.8M320.1 471.0h2.8M321.5 469.6v2.8M322.7 472.7h2.8M324.1 471.3v2.8M325.3 471.8h2.8M326.7 470.4v2.8M328.8 471.0h2.8M330.2 469.6v2.8M331.4 471.8h2.8M332.8 470.4v2.8M335.7 471.3h2.8M337.1 469.9v2.8M340.0 471.8h2.8M341.4 470.4v2.8M343.5 473.5h2.8M344.9 472.1v2.8M313.2 475.3h2.8M314.6 473.9v2.8M317.5 474.4h2.8M318.9 473.0v2.8M321.9 475.3h2.8M323.3 473.9v2.8M325.3 476.1h2.8M326.7 474.7v2.8M327.9 475.3h2.8M329.3 473.9v2.8M332.2 474.8h2.8M333.6 473.4v2.8M337.4 472.7h2.8M338.8 471.3v2.8M347.8 475.8h2.8M349.2 474.4v2.8M299.4 478.7h2.8M300.8 477.3v2.8M304.9 475.8h2.8M306.3 474.4v2.8M314.9 478.7h2.8M316.3 477.3v2.8M318.4 477.9h2.8M319.8 476.5v2.8M321.9 478.7h2.8M323.3 477.3v2.8M324.4 479.6h2.8M325.8 478.2v2.8M328.8 477.5h2.8M330.2 476.1v2.8M334.0 477.0h2.8M335.4 475.6v2.8M340.0 477.9h2.8M341.4 476.5v2.8M341.7 477.9h2.8M343.1 476.5v2.8M291.6 483.4h2.8M293.0 482.0v2.8M298.0 481.7h2.8M299.4 480.3v2.8M321.0 482.2h2.8M322.4 480.8v2.8M325.3 483.4h2.8M326.7 482.0v2.8M331.4 481.3h2.8M332.8 479.9v2.8M344.3 481.0h2.8M345.7 479.6v2.8M302.0 491.7h2.8M303.4 490.3v2.8M315.8 489.6h2.8M317.2 488.2v2.8M320.1 489.1h2.8M321.5 487.7v2.8M321.0 491.7h2.8M322.4 490.3v2.8M326.2 491.7h2.8M327.6 490.3v2.8M330.5 492.6h2.8M331.9 491.2v2.8M333.1 491.4h2.8M334.5 490.0v2.8M334.8 490.3h2.8M336.2 488.9v2.8M336.6 486.5h2.8M338.0 485.1v2.8M341.7 489.6h2.8M343.1 488.2v2.8M345.2 490.8h2.8M346.6 489.4v2.8M315.8 494.3h2.8M317.2 492.9v2.8M317.5 493.8h2.8M318.9 492.4v2.8M321.9 498.6h2.8M323.3 497.2v2.8M323.9 500.7h2.8M325.3 499.3v2.8M321.0 502.1h2.8M322.4 500.7v2.8M330.2 497.2h2.8M331.6 495.8v2.8M339.5 501.7h2.8M340.9 500.3v2.8M320.5 504.7h2.8M321.9 503.3v2.8M326.7 505.6h2.8M328.1 504.2v2.8M321.0 508.7h2.8M322.4 507.3v2.8M321.9 510.7h2.8M323.3 509.3v2.8M295.6 513.3h2.8M297.0 511.9v2.8M315.8 515.1h2.8M317.2 513.7v2.8M352.1 516.3h2.8M353.5 514.9v2.8M315.8 519.0h2.8M317.2 517.6v2.8M322.7 519.0h2.8M324.1 517.6v2.8M327.4 519.0h2.8M328.8 517.6v2.8M330.5 519.0h2.8M331.9 517.6v2.8M346.1 519.0h2.8M347.5 517.6v2.8M297.3 522.0h2.8M298.7 520.6v2.8M325.3 522.0h2.8M326.7 520.6v2.8M330.5 522.0h2.8M331.9 520.6v2.8M333.1 522.0h2.8M334.5 520.6v2.8M335.7 522.0h2.8M337.1 520.6v2.8M352.1 522.0h2.8M353.5 520.6v2.8M282.9 527.7h2.8M284.3 526.3v2.8M288.6 527.7h2.8M290.0 526.3v2.8M299.4 527.7h2.8M300.8 526.3v2.8M312.9 527.7h2.8M314.3 526.3v2.8M315.3 527.7h2.8M316.7 526.3v2.8M318.0 527.7h2.8M319.4 526.3v2.8M321.0 527.7h2.8M322.4 526.3v2.8M325.3 527.7h2.8M326.7 526.3v2.8M327.0 527.7h2.8M328.4 526.3v2.8M330.5 527.7h2.8M331.9 526.3v2.8M333.6 527.7h2.8M335.0 526.3v2.8M335.7 527.7h2.8M337.1 526.3v2.8M338.3 527.7h2.8M339.7 526.3v2.8M341.2 527.7h2.8M342.6 526.3v2.8M349.9 527.7h2.8M351.3 526.3v2.8" stroke="#b3163e" stroke-width="1.0" fill="none" opacity="0.88"/>
<text x="392.60" y="16.60" font-size="8.6" fill="#333" stroke="#333" stroke-width="0.18" textLength="105.80" lengthAdjust="spacingAndGlyphs">Tph_Liver Trh TRB Overlap</text>
<path d="M411.60 32.50L428.40 49.30L411.60 66.10L394.80 49.30Z" fill="#7f7f7f" stroke="#fff" stroke-width="1.1"/>
<text x="411.60" y="52.20" font-size="8.2" fill="#e6e6e6" text-anchor="middle">NA</text>
<path d="M445.20 32.50L462.00 49.30L445.20 66.10L428.40 49.30Z" fill="#7f7f7f" stroke="#fff" stroke-width="1.1"/>
<text x="445.20" y="52.20" font-size="8.2" fill="#e6e6e6" text-anchor="middle">NA</text>
<path d="M478.80 32.50L495.60 49.30L478.80 66.10L462.00 49.30Z" fill="#7f7f7f" stroke="#fff" stroke-width="1.1"/>
<text x="478.80" y="52.20" font-size="8.2" fill="#e6e6e6" text-anchor="middle">NA</text>
<path d="M428.40 49.30L445.20 66.10L428.40 82.90L411.60 66.10Z" fill="#3478c3" stroke="#fff" stroke-width="1.1"/>
<text x="428.40" y="69.00" font-size="8.2" fill="#dbe8f6" text-anchor="middle">0.15</text>
<path d="M462.00 49.30L478.80 66.10L462.00 82.90L445.20 66.10Z" fill="#be142d" stroke="#fff" stroke-width="1.1"/>
<text x="462.00" y="69.00" font-size="8.2" fill="#f6d2d8" text-anchor="middle">0.71</text>
<path d="M445.20 66.10L462.00 82.90L445.20 99.70L428.40 82.90Z" fill="#2869b9" stroke="#fff" stroke-width="1.1"/>
<text x="445.20" y="85.80" font-size="8.2" fill="#d8e6f6" text-anchor="middle">0.13</text>
<text x="398.80" y="64.50" font-size="7.6" fill="#444" stroke="#444" stroke-width="0.18" text-anchor="end">Tph</text>
<text x="384.40" y="82.30" font-size="7.6" fill="#444" stroke="#444" stroke-width="0.18" textLength="33.20" lengthAdjust="spacingAndGlyphs">CD69<tspan font-size="4.6" dy="-2.6">-</tspan><tspan dy="2.6">Trh</tspan></text>
<text x="401.70" y="98.80" font-size="7.6" fill="#444" stroke="#444" stroke-width="0.18" textLength="30.30" lengthAdjust="spacingAndGlyphs">CD69<tspan font-size="4.6" dy="-2.6">+</tspan><tspan dy="2.6">Trh</tspan></text>
<text x="456.50" y="98.80" font-size="7.6" fill="#444" stroke="#444" stroke-width="0.18">Tph</text>
<text x="473.80" y="82.30" font-size="7.6" fill="#444" stroke="#444" stroke-width="0.18" textLength="30.20" lengthAdjust="spacingAndGlyphs">CD69<tspan font-size="4.6" dy="-2.6">-</tspan><tspan dy="2.6">Trh</tspan></text>
<text x="490.60" y="64.50" font-size="7.6" fill="#444" stroke="#444" stroke-width="0.18" textLength="30.00" lengthAdjust="spacingAndGlyphs">CD69<tspan font-size="4.6" dy="-2.6">+</tspan><tspan dy="2.6">Trh</tspan></text>
<path d="M401.20 58.50L403.20 56.50" stroke="#333" stroke-width="0.9"/>
<path d="M418.20 75.50L420.20 73.50" stroke="#333" stroke-width="0.9"/>
<path d="M435.20 92.30L437.20 90.30" stroke="#333" stroke-width="0.9"/>
<path d="M454.00 90.30L456.00 92.30" stroke="#333" stroke-width="0.9"/>
<path d="M471.00 73.50L473.00 75.50" stroke="#333" stroke-width="0.9"/>
<path d="M488.00 56.50L490.00 58.50" stroke="#333" stroke-width="0.9"/>
<defs><linearGradient id="cb49" x1="0" y1="0" x2="0" y2="1"><stop offset="0" stop-color="#b2182b"/><stop offset="0.18" stop-color="#e8806a"/><stop offset="0.4" stop-color="#f8f0ec"/><stop offset="0.6" stop-color="#d8e8f4"/><stop offset="0.8" stop-color="#7fb0d8"/><stop offset="1" stop-color="#2166ac"/></linearGradient></defs>
<rect x="498.9" y="27.80" width="4.9" height="22.9" fill="url(#cb49)"/>
<text x="508.40" y="27.10" font-size="4.0" fill="#666" stroke="#666" stroke-width="0.1" transform="rotate(90 508.40 27.10)">0.7</text>
<text x="508.40" y="30.90" font-size="4.0" fill="#666" stroke="#666" stroke-width="0.1" transform="rotate(90 508.40 30.90)">0.6</text>
<text x="508.40" y="34.70" font-size="4.0" fill="#666" stroke="#666" stroke-width="0.1" transform="rotate(90 508.40 34.70)">0.5</text>
<text x="508.40" y="38.50" font-size="4.0" fill="#666" stroke="#666" stroke-width="0.1" transform="rotate(90 508.40 38.50)">0.4</text>
<text x="508.40" y="42.30" font-size="4.0" fill="#666" stroke="#666" stroke-width="0.1" transform="rotate(90 508.40 42.30)">0.3</text>
<text x="508.40" y="46.10" font-size="4.0" fill="#666" stroke="#666" stroke-width="0.1" transform="rotate(90 508.40 46.10)">0.2</text>
<text x="392.60" y="163.00" font-size="8.6" fill="#333" stroke="#333" stroke-width="0.18" textLength="105.80" lengthAdjust="spacingAndGlyphs">Tph_Liver Trh TRA Overlap</text>
<path d="M411.60 177.80L428.40 194.60L411.60 211.40L394.80 194.60Z" fill="#7f7f7f" stroke="#fff" stroke-width="1.1"/>
<text x="411.60" y="197.50" font-size="8.2" fill="#e6e6e6" text-anchor="middle">NA</text>
<path d="M445.20 177.80L462.00 194.60L445.20 211.40L428.40 194.60Z" fill="#7f7f7f" stroke="#fff" stroke-width="1.1"/>
<text x="445.20" y="197.50" font-size="8.2" fill="#e6e6e6" text-anchor="middle">NA</text>
<path d="M478.80 177.80L495.60 194.60L478.80 211.40L462.00 194.60Z" fill="#7f7f7f" stroke="#fff" stroke-width="1.1"/>
<text x="478.80" y="197.50" font-size="8.2" fill="#e6e6e6" text-anchor="middle">NA</text>
<path d="M428.40 194.60L445.20 211.40L428.40 228.20L411.60 211.40Z" fill="#4a8bd0" stroke="#fff" stroke-width="1.1"/>
<text x="428.40" y="214.30" font-size="8.2" fill="#e0ecf8" text-anchor="middle">0.13</text>
<path d="M462.00 194.60L478.80 211.40L462.00 228.20L445.20 211.40Z" fill="#bc1a2e" stroke="#fff" stroke-width="1.1"/>
<text x="462.00" y="214.30" font-size="8.2" fill="#f6d2d8" text-anchor="middle">0.8</text>
<path d="M445.20 211.40L462.00 228.20L445.20 245.00L428.40 228.20Z" fill="#2a67b6" stroke="#fff" stroke-width="1.1"/>
<text x="445.20" y="231.10" font-size="8.2" fill="#d8e6f6" text-anchor="middle">0.08</text>
<text x="398.80" y="209.80" font-size="7.6" fill="#444" stroke="#444" stroke-width="0.18" text-anchor="end">Tph</text>
<text x="384.40" y="227.60" font-size="7.6" fill="#444" stroke="#444" stroke-width="0.18" textLength="33.20" lengthAdjust="spacingAndGlyphs">CD69<tspan font-size="4.6" dy="-2.6">-</tspan><tspan dy="2.6">Trh</tspan></text>
<text x="401.70" y="244.10" font-size="7.6" fill="#444" stroke="#444" stroke-width="0.18" textLength="30.30" lengthAdjust="spacingAndGlyphs">CD69<tspan font-size="4.6" dy="-2.6">+</tspan><tspan dy="2.6">Trh</tspan></text>
<text x="456.50" y="244.10" font-size="7.6" fill="#444" stroke="#444" stroke-width="0.18">Tph</text>
<text x="473.80" y="227.60" font-size="7.6" fill="#444" stroke="#444" stroke-width="0.18" textLength="30.20" lengthAdjust="spacingAndGlyphs">CD69<tspan font-size="4.6" dy="-2.6">-</tspan><tspan dy="2.6">Trh</tspan></text>
<text x="490.60" y="209.80" font-size="7.6" fill="#444" stroke="#444" stroke-width="0.18" textLength="30.00" lengthAdjust="spacingAndGlyphs">CD69<tspan font-size="4.6" dy="-2.6">+</tspan><tspan dy="2.6">Trh</tspan></text>
<path d="M401.20 203.80L403.20 201.80" stroke="#333" stroke-width="0.9"/>
<path d="M418.20 220.80L420.20 218.80" stroke="#333" stroke-width="0.9"/>
<path d="M435.20 237.60L437.20 235.60" stroke="#333" stroke-width="0.9"/>
<path d="M454.00 235.60L456.00 237.60" stroke="#333" stroke-width="0.9"/>
<path d="M471.00 218.80L473.00 220.80" stroke="#333" stroke-width="0.9"/>
<path d="M488.00 201.80L490.00 203.80" stroke="#333" stroke-width="0.9"/>
<defs><linearGradient id="cb194" x1="0" y1="0" x2="0" y2="1"><stop offset="0" stop-color="#b2182b"/><stop offset="0.18" stop-color="#e8806a"/><stop offset="0.4" stop-color="#f8f0ec"/><stop offset="0.6" stop-color="#d8e8f4"/><stop offset="0.8" stop-color="#7fb0d8"/><stop offset="1" stop-color="#2166ac"/></linearGradient></defs>
<rect x="498.9" y="173.10" width="4.9" height="22.9" fill="url(#cb194)"/>
<text x="506.50" y="175.00" font-size="3.8" fill="#666" stroke="#666" stroke-width="0.1">0.8</text>
<text x="506.50" y="181.00" font-size="3.8" fill="#666" stroke="#666" stroke-width="0.1">0.6</text>
<text x="506.50" y="187.40" font-size="3.8" fill="#666" stroke="#666" stroke-width="0.1">0.4</text>
<text x="506.50" y="194.00" font-size="3.8" fill="#666" stroke="#666" stroke-width="0.1">0.2</text>
<text x="392.60" y="303.00" font-size="8.6" fill="#333" stroke="#333" stroke-width="0.18" textLength="105.80" lengthAdjust="spacingAndGlyphs">Tph_Lung Trh TRB Overlap</text>
<path d="M411.60 317.80L428.40 334.60L411.60 351.40L394.80 334.60Z" fill="#7f7f7f" stroke="#fff" stroke-width="1.1"/>
<text x="411.60" y="337.50" font-size="8.2" fill="#e6e6e6" text-anchor="middle">NA</text>
<path d="M445.20 317.80L462.00 334.60L445.20 351.40L428.40 334.60Z" fill="#7f7f7f" stroke="#fff" stroke-width="1.1"/>
<text x="445.20" y="337.50" font-size="8.2" fill="#e6e6e6" text-anchor="middle">NA</text>
<path d="M478.80 317.80L495.60 334.60L478.80 351.40L462.00 334.60Z" fill="#7f7f7f" stroke="#fff" stroke-width="1.1"/>
<text x="478.80" y="337.50" font-size="8.2" fill="#e6e6e6" text-anchor="middle">NA</text>
<path d="M428.40 334.60L445.20 351.40L428.40 368.20L411.60 351.40Z" fill="#5596d6" stroke="#fff" stroke-width="1.1"/>
<text x="428.40" y="354.30" font-size="8.2" fill="#e4eef8" text-anchor="middle">0.19</text>
<path d="M462.00 334.60L478.80 351.40L462.00 368.20L445.20 351.40Z" fill="#bb1a2e" stroke="#fff" stroke-width="1.1"/>
<text x="462.00" y="354.30" font-size="8.2" fill="#f6d2d8" text-anchor="middle">0.34</text>
<path d="M445.20 351.40L462.00 368.20L445.20 385.00L428.40 368.20Z" fill="#2a66b5" stroke="#fff" stroke-width="1.1"/>
<text x="445.20" y="371.10" font-size="8.2" fill="#d8e6f6" text-anchor="middle">0.17</text>
<text x="398.80" y="349.80" font-size="7.6" fill="#444" stroke="#444" stroke-width="0.18" text-anchor="end">Tph</text>
<text x="384.40" y="367.60" font-size="7.6" fill="#444" stroke="#444" stroke-width="0.18" textLength="33.20" lengthAdjust="spacingAndGlyphs">CD69<tspan font-size="4.6" dy="-2.6">-</tspan><tspan dy="2.6">Trh</tspan></text>
<text x="401.70" y="384.10" font-size="7.6" fill="#444" stroke="#444" stroke-width="0.18" textLength="30.30" lengthAdjust="spacingAndGlyphs">CD69<tspan font-size="4.6" dy="-2.6">+</tspan><tspan dy="2.6">Trh</tspan></text>
<text x="456.50" y="384.10" font-size="7.6" fill="#444" stroke="#444" stroke-width="0.18">Tph</text>
<text x="473.80" y="367.60" font-size="7.6" fill="#444" stroke="#444" stroke-width="0.18" textLength="30.20" lengthAdjust="spacingAndGlyphs">CD69<tspan font-size="4.6" dy="-2.6">-</tspan><tspan dy="2.6">Trh</tspan></text>
<text x="490.60" y="349.80" font-size="7.6" fill="#444" stroke="#444" stroke-width="0.18" textLength="30.00" lengthAdjust="spacingAndGlyphs">CD69<tspan font-size="4.6" dy="-2.6">+</tspan><tspan dy="2.6">Trh</tspan></text>
<path d="M401.20 343.80L403.20 341.80" stroke="#333" stroke-width="0.9"/>
<path d="M418.20 360.80L420.20 358.80" stroke="#333" stroke-width="0.9"/>
<path d="M435.20 377.60L437.20 375.60" stroke="#333" stroke-width="0.9"/>
<path d="M454.00 375.60L456.00 377.60" stroke="#333" stroke-width="0.9"/>
<path d="M471.00 358.80L473.00 360.80" stroke="#333" stroke-width="0.9"/>
<path d="M488.00 341.80L490.00 343.80" stroke="#333" stroke-width="0.9"/>
<defs><linearGradient id="cb334" x1="0" y1="0" x2="0" y2="1"><stop offset="0" stop-color="#b2182b"/><stop offset="0.18" stop-color="#e8806a"/><stop offset="0.4" stop-color="#f8f0ec"/><stop offset="0.6" stop-color="#d8e8f4"/><stop offset="0.8" stop-color="#7fb0d8"/><stop offset="1" stop-color="#2166ac"/></linearGradient></defs>
<rect x="498.9" y="313.10" width="4.9" height="22.9" fill="url(#cb334)"/>
<text x="506.50" y="319.10" font-size="3.8" fill="#666" stroke="#666" stroke-width="0.1">0.30</text>
<text x="506.50" y="326.80" font-size="3.8" fill="#666" stroke="#666" stroke-width="0.1">0.25</text>
<text x="506.50" y="334.30" font-size="3.8" fill="#666" stroke="#666" stroke-width="0.1">0.20</text>
<text x="392.60" y="443.00" font-size="8.6" fill="#333" stroke="#333" stroke-width="0.18" textLength="105.80" lengthAdjust="spacingAndGlyphs">Tph_Lung Trh TRA Overlap</text>
<path d="M411.60 457.80L428.40 474.60L411.60 491.40L394.80 474.60Z" fill="#7f7f7f" stroke="#fff" stroke-width="1.1"/>
<text x="411.60" y="477.50" font-size="8.2" fill="#e6e6e6" text-anchor="middle">NA</text>
<path d="M445.20 457.80L462.00 474.60L445.20 491.40L428.40 474.60Z" fill="#7f7f7f" stroke="#fff" stroke-width="1.1"/>
<text x="445.20" y="477.50" font-size="8.2" fill="#e6e6e6" text-anchor="middle">NA</text>
<path d="M478.80 457.80L495.60 474.60L478.80 491.40L462.00 474.60Z" fill="#7f7f7f" stroke="#fff" stroke-width="1.1"/>
<text x="478.80" y="477.50" font-size="8.2" fill="#e6e6e6" text-anchor="middle">NA</text>
<path d="M428.40 474.60L445.20 491.40L428.40 508.20L411.60 491.40Z" fill="#bd1d30" stroke="#fff" stroke-width="1.1"/>
<text x="428.40" y="494.30" font-size="8.2" fill="#f6d2d8" text-anchor="middle">0.33</text>
<path d="M462.00 474.60L478.80 491.40L462.00 508.20L445.20 491.40Z" fill="#b8182c" stroke="#fff" stroke-width="1.1"/>
<text x="462.00" y="494.30" font-size="8.2" fill="#f6d2d8" text-anchor="middle">0.34</text>
<path d="M445.20 491.40L462.00 508.20L445.20 525.00L428.40 508.20Z" fill="#2a66b5" stroke="#fff" stroke-width="1.1"/>
<text x="445.20" y="511.10" font-size="8.2" fill="#d8e6f6" text-anchor="middle">0.16</text>
<text x="398.80" y="489.80" font-size="7.6" fill="#444" stroke="#444" stroke-width="0.18" text-anchor="end">Tph</text>
<text x="384.40" y="507.60" font-size="7.6" fill="#444" stroke="#444" stroke-width="0.18" textLength="33.20" lengthAdjust="spacingAndGlyphs">CD69<tspan font-size="4.6" dy="-2.6">-</tspan><tspan dy="2.6">Trh</tspan></text>
<text x="401.70" y="524.10" font-size="7.6" fill="#444" stroke="#444" stroke-width="0.18" textLength="30.30" lengthAdjust="spacingAndGlyphs">CD69<tspan font-size="4.6" dy="-2.6">+</tspan><tspan dy="2.6">Trh</tspan></text>
<text x="456.50" y="524.10" font-size="7.6" fill="#444" stroke="#444" stroke-width="0.18">Tph</text>
<text x="473.80" y="507.60" font-size="7.6" fill="#444" stroke="#444" stroke-width="0.18" textLength="30.20" lengthAdjust="spacingAndGlyphs">CD69<tspan font-size="4.6" dy="-2.6">-</tspan><tspan dy="2.6">Trh</tspan></text>
<text x="490.60" y="489.80" font-size="7.6" fill="#444" stroke="#444" stroke-width="0.18" textLength="30.00" lengthAdjust="spacingAndGlyphs">CD69<tspan font-size="4.6" dy="-2.6">+</tspan><tspan dy="2.6">Trh</tspan></text>
<path d="M401.20 483.80L403.20 481.80" stroke="#333" stroke-width="0.9"/>
<path d="M418.20 500.80L420.20 498.80" stroke="#333" stroke-width="0.9"/>
<path d="M435.20 517.60L437.20 515.60" stroke="#333" stroke-width="0.9"/>
<path d="M454.00 515.60L456.00 517.60" stroke="#333" stroke-width="0.9"/>
<path d="M471.00 498.80L473.00 500.80" stroke="#333" stroke-width="0.9"/>
<path d="M488.00 481.80L490.00 483.80" stroke="#333" stroke-width="0.9"/>
<defs><linearGradient id="cb474" x1="0" y1="0" x2="0" y2="1"><stop offset="0" stop-color="#b2182b"/><stop offset="0.18" stop-color="#e8806a"/><stop offset="0.4" stop-color="#f8f0ec"/><stop offset="0.6" stop-color="#d8e8f4"/><stop offset="0.8" stop-color="#7fb0d8"/><stop offset="1" stop-color="#2166ac"/></linearGradient></defs>
<rect x="498.9" y="453.10" width="4.9" height="22.9" fill="url(#cb474)"/>
<text x="506.50" y="459.10" font-size="3.8" fill="#666" stroke="#666" stroke-width="0.1">0.30</text>
<text x="506.50" y="466.80" font-size="3.8" fill="#666" stroke="#666" stroke-width="0.1">0.25</text>
<text x="506.50" y="474.30" font-size="3.8" fill="#666" stroke="#666" stroke-width="0.1">0.20</text>
<rect x="71.20" y="607.90" width="6.99" height="12.36" fill="#e52224" shape-rendering="crispEdges"/>
<rect x="71.20" y="619.96" width="6.99" height="12.36" fill="#e0dff1" shape-rendering="crispEdges"/>
<rect x="71.20" y="632.02" width="6.99" height="12.36" fill="#e52224" shape-rendering="crispEdges"/>
<rect x="71.20" y="644.08" width="6.99" height="12.36" fill="#f3a4a1" shape-rendering="crispEdges"/>
<rect x="71.20" y="656.14" width="6.99" height="12.36" fill="#f4b2b0" shape-rendering="crispEdges"/>
<rect x="77.89" y="607.90" width="6.99" height="12.36" fill="#fafafc" shape-rendering="crispEdges"/>
<rect x="77.89" y="619.96" width="6.99" height="12.36" fill="#f6cac9" shape-rendering="crispEdges"/>
<rect x="77.89" y="632.02" width="6.99" height="12.36" fill="#ef7a75" shape-rendering="crispEdges"/>
<rect x="77.89" y="644.08" width="6.99" height="12.36" fill="#cbcae9" shape-rendering="crispEdges"/>
<rect x="77.89" y="656.14" width="6.99" height="12.36" fill="#e52628" shape-rendering="crispEdges"/>
<rect x="84.59" y="607.90" width="6.99" height="12.36" fill="#fafafc" shape-rendering="crispEdges"/>
<rect x="84.59" y="619.96" width="6.99" height="12.36" fill="#dbdaef" shape-rendering="crispEdges"/>
<rect x="84.59" y="632.02" width="6.99" height="12.36" fill="#ea4c4b" shape-rendering="crispEdges"/>
<rect x="84.59" y="644.08" width="6.99" height="12.36" fill="#cbcae9" shape-rendering="crispEdges"/>
<rect x="84.59" y="656.14" width="6.99" height="12.36" fill="#f0827d" shape-rendering="crispEdges"/>
<rect x="91.28" y="607.90" width="6.99" height="12.36" fill="#827fca" shape-rendering="crispEdges"/>
<rect x="91.28" y="619.96" width="6.99" height="12.36" fill="#f29591" shape-rendering="crispEdges"/>
<rect x="91.28" y="632.02" width="6.99" height="12.36" fill="#ea4c4b" shape-rendering="crispEdges"/>
<rect x="91.28" y="644.08" width="6.99" height="12.36" fill="#e52224" shape-rendering="crispEdges"/>
<rect x="91.28" y="656.14" width="6.99" height="12.36" fill="#ef7a75" shape-rendering="crispEdges"/>
<rect x="97.97" y="607.90" width="6.99" height="12.36" fill="#5a51ac" shape-rendering="crispEdges"/>
<rect x="97.97" y="619.96" width="6.99" height="12.36" fill="#e52224" shape-rendering="crispEdges"/>
<rect x="97.97" y="632.02" width="6.99" height="12.36" fill="#e62b2c" shape-rendering="crispEdges"/>
<rect x="97.97" y="644.08" width="6.99" height="12.36" fill="#4c41a0" shape-rendering="crispEdges"/>
<rect x="97.97" y="656.14" width="6.99" height="12.36" fill="#ed6562" shape-rendering="crispEdges"/>
<rect x="104.66" y="607.90" width="6.99" height="12.36" fill="#5d54ae" shape-rendering="crispEdges"/>
<rect x="104.66" y="619.96" width="6.99" height="12.36" fill="#ed6562" shape-rendering="crispEdges"/>
<rect x="104.66" y="632.02" width="6.99" height="12.36" fill="#8884cc" shape-rendering="crispEdges"/>
<rect x="104.66" y="644.08" width="6.99" height="12.36" fill="#f9f0f2" shape-rendering="crispEdges"/>
<rect x="104.66" y="656.14" width="6.99" height="12.36" fill="#ed6562" shape-rendering="crispEdges"/>
<rect x="111.36" y="607.90" width="6.99" height="12.36" fill="#625ab3" shape-rendering="crispEdges"/>
<rect x="111.36" y="619.96" width="6.99" height="12.36" fill="#625ab3" shape-rendering="crispEdges"/>
<rect x="111.36" y="632.02" width="6.99" height="12.36" fill="#f29f9b" shape-rendering="crispEdges"/>
<rect x="111.36" y="644.08" width="6.99" height="12.36" fill="#6057b0" shape-rendering="crispEdges"/>
<rect x="111.36" y="656.14" width="6.99" height="12.36" fill="#5a51ac" shape-rendering="crispEdges"/>
<rect x="118.05" y="607.90" width="6.99" height="12.36" fill="#827fca" shape-rendering="crispEdges"/>
<rect x="118.05" y="619.96" width="6.99" height="12.36" fill="#c1bfe4" shape-rendering="crispEdges"/>
<rect x="118.05" y="632.02" width="6.99" height="12.36" fill="#cbcae9" shape-rendering="crispEdges"/>
<rect x="118.05" y="644.08" width="6.99" height="12.36" fill="#fafafc" shape-rendering="crispEdges"/>
<rect x="118.05" y="656.14" width="6.99" height="12.36" fill="#e73737" shape-rendering="crispEdges"/>
<rect x="124.74" y="607.90" width="6.99" height="12.36" fill="#37278c" shape-rendering="crispEdges"/>
<rect x="124.74" y="619.96" width="6.99" height="12.36" fill="#37278c" shape-rendering="crispEdges"/>
<rect x="124.74" y="632.02" width="6.99" height="12.36" fill="#c1bfe4" shape-rendering="crispEdges"/>
<rect x="124.74" y="644.08" width="6.99" height="12.36" fill="#433697" shape-rendering="crispEdges"/>
<rect x="124.74" y="656.14" width="6.99" height="12.36" fill="#f7d4d3" shape-rendering="crispEdges"/>
<rect x="131.43" y="607.90" width="6.99" height="12.36" fill="#625ab3" shape-rendering="crispEdges"/>
<rect x="131.43" y="619.96" width="6.99" height="12.36" fill="#c1bfe4" shape-rendering="crispEdges"/>
<rect x="131.43" y="632.02" width="6.99" height="12.36" fill="#ceccea" shape-rendering="crispEdges"/>
<rect x="131.43" y="644.08" width="6.99" height="12.36" fill="#433697" shape-rendering="crispEdges"/>
<rect x="131.43" y="656.14" width="6.99" height="12.36" fill="#f7d4d3" shape-rendering="crispEdges"/>
<rect x="138.13" y="607.90" width="6.99" height="12.36" fill="#fafafc" shape-rendering="crispEdges"/>
<rect x="138.13" y="619.96" width="6.99" height="12.36" fill="#716cc0" shape-rendering="crispEdges"/>
<rect x="138.13" y="632.02" width="6.99" height="12.36" fill="#ceccea" shape-rendering="crispEdges"/>
<rect x="138.13" y="644.08" width="6.99" height="12.36" fill="#8d89cf" shape-rendering="crispEdges"/>
<rect x="138.13" y="656.14" width="6.99" height="12.36" fill="#c1bfe4" shape-rendering="crispEdges"/>
<rect x="144.82" y="607.90" width="6.99" height="12.36" fill="#4c41a0" shape-rendering="crispEdges"/>
<rect x="144.82" y="619.96" width="6.99" height="12.36" fill="#37278c" shape-rendering="crispEdges"/>
<rect x="144.82" y="632.02" width="6.99" height="12.36" fill="#9794d3" shape-rendering="crispEdges"/>
<rect x="144.82" y="644.08" width="6.99" height="12.36" fill="#554aa7" shape-rendering="crispEdges"/>
<rect x="144.82" y="656.14" width="6.99" height="12.36" fill="#e0dff1" shape-rendering="crispEdges"/>
<rect x="151.51" y="607.90" width="6.99" height="12.36" fill="#827fca" shape-rendering="crispEdges"/>
<rect x="151.51" y="619.96" width="6.99" height="12.36" fill="#392a8f" shape-rendering="crispEdges"/>
<rect x="151.51" y="632.02" width="6.99" height="12.36" fill="#4f44a2" shape-rendering="crispEdges"/>
<rect x="151.51" y="644.08" width="6.99" height="12.36" fill="#c6c4e6" shape-rendering="crispEdges"/>
<rect x="151.51" y="656.14" width="6.99" height="12.36" fill="#706abf" shape-rendering="crispEdges"/>
<rect x="158.20" y="607.90" width="6.99" height="12.36" fill="#423496" shape-rendering="crispEdges"/>
<rect x="158.20" y="619.96" width="6.99" height="12.36" fill="#37278c" shape-rendering="crispEdges"/>
<rect x="158.20" y="632.02" width="6.99" height="12.36" fill="#37278c" shape-rendering="crispEdges"/>
<rect x="158.20" y="644.08" width="6.99" height="12.36" fill="#655eb5" shape-rendering="crispEdges"/>
<rect x="158.20" y="656.14" width="6.99" height="12.36" fill="#554aa7" shape-rendering="crispEdges"/>
<rect x="164.90" y="607.90" width="6.99" height="12.36" fill="#a29fd7" shape-rendering="crispEdges"/>
<rect x="164.90" y="619.96" width="6.99" height="12.36" fill="#9794d3" shape-rendering="crispEdges"/>
<rect x="164.90" y="632.02" width="6.99" height="12.36" fill="#37278c" shape-rendering="crispEdges"/>
<rect x="164.90" y="644.08" width="6.99" height="12.36" fill="#37278c" shape-rendering="crispEdges"/>
<rect x="164.90" y="656.14" width="6.99" height="12.36" fill="#4f44a2" shape-rendering="crispEdges"/>
<rect x="171.59" y="607.90" width="6.99" height="12.36" fill="#34248a" shape-rendering="crispEdges"/>
<rect x="171.59" y="619.96" width="6.99" height="12.36" fill="#34248a" shape-rendering="crispEdges"/>
<rect x="171.59" y="632.02" width="6.99" height="12.36" fill="#34248a" shape-rendering="crispEdges"/>
<rect x="171.59" y="644.08" width="6.99" height="12.36" fill="#34248a" shape-rendering="crispEdges"/>
<rect x="171.59" y="656.14" width="6.99" height="12.36" fill="#3f3194" shape-rendering="crispEdges"/>
<rect x="178.28" y="607.90" width="6.99" height="12.36" fill="#34248a" shape-rendering="crispEdges"/>
<rect x="178.28" y="619.96" width="6.99" height="12.36" fill="#34248a" shape-rendering="crispEdges"/>
<rect x="178.28" y="632.02" width="6.99" height="12.36" fill="#34248a" shape-rendering="crispEdges"/>
<rect x="178.28" y="644.08" width="6.99" height="12.36" fill="#34248a" shape-rendering="crispEdges"/>
<rect x="178.28" y="656.14" width="6.99" height="12.36" fill="#34248a" shape-rendering="crispEdges"/>
<rect x="184.97" y="607.90" width="6.99" height="12.36" fill="#34248a" shape-rendering="crispEdges"/>
<rect x="184.97" y="619.96" width="6.99" height="12.36" fill="#34248a" shape-rendering="crispEdges"/>
<rect x="184.97" y="632.02" width="6.99" height="12.36" fill="#34248a" shape-rendering="crispEdges"/>
<rect x="184.97" y="644.08" width="6.99" height="12.36" fill="#34248a" shape-rendering="crispEdges"/>
<rect x="184.97" y="656.14" width="6.99" height="12.36" fill="#7571c4" shape-rendering="crispEdges"/>
<rect x="191.67" y="607.90" width="6.99" height="12.36" fill="#34248a" shape-rendering="crispEdges"/>
<rect x="191.67" y="619.96" width="6.99" height="12.36" fill="#34248a" shape-rendering="crispEdges"/>
<rect x="191.67" y="632.02" width="6.99" height="12.36" fill="#34248a" shape-rendering="crispEdges"/>
<rect x="191.67" y="644.08" width="6.99" height="12.36" fill="#34248a" shape-rendering="crispEdges"/>
<rect x="191.67" y="656.14" width="6.99" height="12.36" fill="#34248a" shape-rendering="crispEdges"/>
<rect x="198.36" y="607.90" width="6.99" height="12.36" fill="#34248a" shape-rendering="crispEdges"/>
<rect x="198.36" y="619.96" width="6.99" height="12.36" fill="#34248a" shape-rendering="crispEdges"/>
<rect x="198.36" y="632.02" width="6.99" height="12.36" fill="#34248a" shape-rendering="crispEdges"/>
<rect x="198.36" y="644.08" width="6.99" height="12.36" fill="#9794d3" shape-rendering="crispEdges"/>
<rect x="198.36" y="656.14" width="6.99" height="12.36" fill="#8d89cf" shape-rendering="crispEdges"/>
<rect x="205.05" y="607.90" width="6.99" height="12.36" fill="#34248a" shape-rendering="crispEdges"/>
<rect x="205.05" y="619.96" width="6.99" height="12.36" fill="#34248a" shape-rendering="crispEdges"/>
<rect x="205.05" y="632.02" width="6.99" height="12.36" fill="#34248a" shape-rendering="crispEdges"/>
<rect x="205.05" y="644.08" width="6.99" height="12.36" fill="#34248a" shape-rendering="crispEdges"/>
<rect x="205.05" y="656.14" width="6.99" height="12.36" fill="#34248a" shape-rendering="crispEdges"/>
<rect x="211.74" y="607.90" width="6.99" height="12.36" fill="#34248a" shape-rendering="crispEdges"/>
<rect x="211.74" y="619.96" width="6.99" height="12.36" fill="#34248a" shape-rendering="crispEdges"/>
<rect x="211.74" y="632.02" width="6.99" height="12.36" fill="#34248a" shape-rendering="crispEdges"/>
<rect x="211.74" y="644.08" width="6.99" height="12.36" fill="#34248a" shape-rendering="crispEdges"/>
<rect x="211.74" y="656.14" width="6.99" height="12.36" fill="#34248a" shape-rendering="crispEdges"/>
<rect x="218.44" y="607.90" width="6.99" height="12.36" fill="#34248a" shape-rendering="crispEdges"/>
<rect x="218.44" y="619.96" width="6.99" height="12.36" fill="#34248a" shape-rendering="crispEdges"/>
<rect x="218.44" y="632.02" width="6.99" height="12.36" fill="#34248a" shape-rendering="crispEdges"/>
<rect x="218.44" y="644.08" width="6.99" height="12.36" fill="#34248a" shape-rendering="crispEdges"/>
<rect x="218.44" y="656.14" width="6.99" height="12.36" fill="#34248a" shape-rendering="crispEdges"/>
<rect x="225.13" y="607.90" width="6.99" height="12.36" fill="#34248a" shape-rendering="crispEdges"/>
<rect x="225.13" y="619.96" width="6.99" height="12.36" fill="#34248a" shape-rendering="crispEdges"/>
<rect x="225.13" y="632.02" width="6.99" height="12.36" fill="#34248a" shape-rendering="crispEdges"/>
<rect x="225.13" y="644.08" width="6.99" height="12.36" fill="#34248a" shape-rendering="crispEdges"/>
<rect x="225.13" y="656.14" width="6.99" height="12.36" fill="#34248a" shape-rendering="crispEdges"/>
<rect x="231.82" y="607.90" width="6.99" height="12.36" fill="#34248a" shape-rendering="crispEdges"/>
<rect x="231.82" y="619.96" width="6.99" height="12.36" fill="#34248a" shape-rendering="crispEdges"/>
<rect x="231.82" y="632.02" width="6.99" height="12.36" fill="#34248a" shape-rendering="crispEdges"/>
<rect x="231.82" y="644.08" width="6.99" height="12.36" fill="#34248a" shape-rendering="crispEdges"/>
<rect x="231.82" y="656.14" width="6.99" height="12.36" fill="#34248a" shape-rendering="crispEdges"/>
<rect x="238.51" y="607.90" width="6.99" height="12.36" fill="#34248a" shape-rendering="crispEdges"/>
<rect x="238.51" y="619.96" width="6.99" height="12.36" fill="#34248a" shape-rendering="crispEdges"/>
<rect x="238.51" y="632.02" width="6.99" height="12.36" fill="#34248a" shape-rendering="crispEdges"/>
<rect x="238.51" y="644.08" width="6.99" height="12.36" fill="#34248a" shape-rendering="crispEdges"/>
<rect x="238.51" y="656.14" width="6.99" height="12.36" fill="#34248a" shape-rendering="crispEdges"/>
<rect x="245.21" y="607.90" width="6.99" height="12.36" fill="#34248a" shape-rendering="crispEdges"/>
<rect x="245.21" y="619.96" width="6.99" height="12.36" fill="#34248a" shape-rendering="crispEdges"/>
<rect x="245.21" y="632.02" width="6.99" height="12.36" fill="#34248a" shape-rendering="crispEdges"/>
<rect x="245.21" y="644.08" width="6.99" height="12.36" fill="#34248a" shape-rendering="crispEdges"/>
<rect x="245.21" y="656.14" width="6.99" height="12.36" fill="#34248a" shape-rendering="crispEdges"/>
<text x="76.85" y="605.90" font-size="6.7" fill="#1a1a1a" stroke="#1a1a1a" stroke-width="0.14" textLength="18.86" lengthAdjust="spacingAndGlyphs" transform="rotate(-90 76.85 605.90)">TRBV5</text>
<text x="83.54" y="605.90" font-size="6.7" fill="#1a1a1a" stroke="#1a1a1a" stroke-width="0.14" textLength="18.86" lengthAdjust="spacingAndGlyphs" transform="rotate(-90 83.54 605.90)">TRBV1</text>
<text x="90.23" y="605.90" font-size="6.7" fill="#1a1a1a" stroke="#1a1a1a" stroke-width="0.14" textLength="27.31" lengthAdjust="spacingAndGlyphs" transform="rotate(-90 90.23 605.90)">TRBV13-2</text>
<text x="96.92" y="605.90" font-size="6.7" fill="#1a1a1a" stroke="#1a1a1a" stroke-width="0.14" textLength="27.31" lengthAdjust="spacingAndGlyphs" transform="rotate(-90 96.92 605.90)">TRBV13-1</text>
<text x="103.62" y="605.90" font-size="6.7" fill="#1a1a1a" stroke="#1a1a1a" stroke-width="0.14" textLength="18.86" lengthAdjust="spacingAndGlyphs" transform="rotate(-90 103.62 605.90)">TRBV3</text>
<text x="110.31" y="605.90" font-size="6.7" fill="#1a1a1a" stroke="#1a1a1a" stroke-width="0.14" textLength="27.31" lengthAdjust="spacingAndGlyphs" transform="rotate(-90 110.31 605.90)">TRBV13-3</text>
<text x="117.00" y="605.90" font-size="6.7" fill="#1a1a1a" stroke="#1a1a1a" stroke-width="0.14" textLength="22.11" lengthAdjust="spacingAndGlyphs" transform="rotate(-90 117.00 605.90)">TRBV29</text>
<text x="123.69" y="605.90" font-size="6.7" fill="#1a1a1a" stroke="#1a1a1a" stroke-width="0.14" textLength="22.11" lengthAdjust="spacingAndGlyphs" transform="rotate(-90 123.69 605.90)">TRBV16</text>
<text x="130.39" y="605.90" font-size="6.7" fill="#1a1a1a" stroke="#1a1a1a" stroke-width="0.14" textLength="18.86" lengthAdjust="spacingAndGlyphs" transform="rotate(-90 130.39 605.90)">TRBV4</text>
<text x="137.08" y="605.90" font-size="6.7" fill="#1a1a1a" stroke="#1a1a1a" stroke-width="0.14" textLength="22.11" lengthAdjust="spacingAndGlyphs" transform="rotate(-90 137.08 605.90)">TRBV14</text>
<text x="143.77" y="605.90" font-size="6.7" fill="#1a1a1a" stroke="#1a1a1a" stroke-width="0.14" textLength="22.11" lengthAdjust="spacingAndGlyphs" transform="rotate(-90 143.77 605.90)">TRBV19</text>
<text x="150.46" y="605.90" font-size="6.7" fill="#1a1a1a" stroke="#1a1a1a" stroke-width="0.14" textLength="22.11" lengthAdjust="spacingAndGlyphs" transform="rotate(-90 150.46 605.90)">TRBV26</text>
<text x="157.16" y="605.90" font-size="6.7" fill="#1a1a1a" stroke="#1a1a1a" stroke-width="0.14" textLength="18.86" lengthAdjust="spacingAndGlyphs" transform="rotate(-90 157.16 605.90)">TRBV2</text>
<text x="163.85" y="605.90" font-size="6.7" fill="#1a1a1a" stroke="#1a1a1a" stroke-width="0.14" textLength="22.11" lengthAdjust="spacingAndGlyphs" transform="rotate(-90 163.85 605.90)">TRBV22</text>
<text x="170.54" y="605.90" font-size="6.7" fill="#1a1a1a" stroke="#1a1a1a" stroke-width="0.14" textLength="22.11" lengthAdjust="spacingAndGlyphs" transform="rotate(-90 170.54 605.90)">TRBV20</text>
<text x="177.24" y="605.90" font-size="6.7" fill="#1a1a1a" stroke="#1a1a1a" stroke-width="0.14" textLength="27.31" lengthAdjust="spacingAndGlyphs" transform="rotate(-90 177.24 605.90)">TRBV12-1</text>
<text x="183.93" y="605.90" font-size="6.7" fill="#1a1a1a" stroke="#1a1a1a" stroke-width="0.14" textLength="22.11" lengthAdjust="spacingAndGlyphs" transform="rotate(-90 183.93 605.90)">TRBV17</text>
<text x="190.62" y="605.90" font-size="6.7" fill="#1a1a1a" stroke="#1a1a1a" stroke-width="0.14" textLength="22.11" lengthAdjust="spacingAndGlyphs" transform="rotate(-90 190.62 605.90)">TRBV30</text>
<text x="197.31" y="605.90" font-size="6.7" fill="#1a1a1a" stroke="#1a1a1a" stroke-width="0.14" textLength="27.31" lengthAdjust="spacingAndGlyphs" transform="rotate(-90 197.31 605.90)">TRBV12-2</text>
<text x="204.01" y="605.90" font-size="6.7" fill="#1a1a1a" stroke="#1a1a1a" stroke-width="0.14" textLength="22.11" lengthAdjust="spacingAndGlyphs" transform="rotate(-90 204.01 605.90)">TRBV15</text>
<text x="210.70" y="605.90" font-size="6.7" fill="#1a1a1a" stroke="#1a1a1a" stroke-width="0.14" textLength="22.11" lengthAdjust="spacingAndGlyphs" transform="rotate(-90 210.70 605.90)">TRBV21</text>
<text x="217.39" y="605.90" font-size="6.7" fill="#1a1a1a" stroke="#1a1a1a" stroke-width="0.14" textLength="22.11" lengthAdjust="spacingAndGlyphs" transform="rotate(-90 217.39 605.90)">TRBV24</text>
<text x="224.08" y="605.90" font-size="6.7" fill="#1a1a1a" stroke="#1a1a1a" stroke-width="0.14" textLength="22.11" lengthAdjust="spacingAndGlyphs" transform="rotate(-90 224.08 605.90)">TRBV23</text>
<text x="230.78" y="605.90" font-size="6.7" fill="#1a1a1a" stroke="#1a1a1a" stroke-width="0.14" textLength="22.11" lengthAdjust="spacingAndGlyphs" transform="rotate(-90 230.78 605.90)">TRBV28</text>
<text x="237.47" y="605.90" font-size="6.7" fill="#1a1a1a" stroke="#1a1a1a" stroke-width="0.14" textLength="22.11" lengthAdjust="spacingAndGlyphs" transform="rotate(-90 237.47 605.90)">TRBV27</text>
<text x="244.16" y="605.90" font-size="6.7" fill="#1a1a1a" stroke="#1a1a1a" stroke-width="0.14" textLength="22.11" lengthAdjust="spacingAndGlyphs" transform="rotate(-90 244.16 605.90)">TRBV25</text>
<text x="250.85" y="605.90" font-size="6.7" fill="#1a1a1a" stroke="#1a1a1a" stroke-width="0.14" textLength="18.86" lengthAdjust="spacingAndGlyphs" transform="rotate(-90 250.85 605.90)">TRBV8</text>
<text x="58.80" y="617.10" font-size="7.6" fill="#3a3a3a" stroke="#3a3a3a" stroke-width="0.18" textLength="11.30" lengthAdjust="spacingAndGlyphs">Tph</text>
<text x="26.00" y="628.80" font-size="7.6" fill="#3a3a3a" stroke="#3a3a3a" stroke-width="0.18" textLength="44.10" lengthAdjust="spacingAndGlyphs">Liver-CD69<tspan font-size="4.6" dy="-2.6">-</tspan><tspan dy="2.6">Trh</tspan></text>
<text x="25.60" y="641.00" font-size="7.6" fill="#3a3a3a" stroke="#3a3a3a" stroke-width="0.18" textLength="44.50" lengthAdjust="spacingAndGlyphs">Liver-CD69<tspan font-size="4.6" dy="-2.6">+</tspan><tspan dy="2.6">Trh</tspan></text>
<text x="24.80" y="653.30" font-size="7.6" fill="#3a3a3a" stroke="#3a3a3a" stroke-width="0.18" textLength="45.30" lengthAdjust="spacingAndGlyphs">Lung-CD69<tspan font-size="4.6" dy="-2.6">-</tspan><tspan dy="2.6">Trh</tspan></text>
<text x="24.50" y="665.40" font-size="7.6" fill="#3a3a3a" stroke="#3a3a3a" stroke-width="0.18" textLength="45.60" lengthAdjust="spacingAndGlyphs">Lung-CD69<tspan font-size="4.6" dy="-2.6">+</tspan><tspan dy="2.6">Trh</tspan></text>
<defs><linearGradient id="mm" x1="0" x2="1" y1="0" y2="0"><stop offset="0" stop-color="#2e288c"/><stop offset="0.3" stop-color="#5a56a8"/><stop offset="0.5" stop-color="#fafafc"/><stop offset="0.7" stop-color="#f4a0a0"/><stop offset="1" stop-color="#d8181c"/></linearGradient></defs>
<rect x="26" y="598.7" width="41.9" height="8" fill="url(#mm)"/>
<text x="28.20" y="605.50" font-size="7.6" fill="#1a1660" stroke="#1a1660" stroke-width="0.18">min</text>
<text x="53.60" y="605.50" font-size="7.6" fill="#7a0c10" stroke="#7a0c10" stroke-width="0.18">max</text>
<text x="337.50" y="581.80" font-size="8.6" fill="#333" stroke="#333" stroke-width="0.18" text-anchor="middle" textLength="37.50" lengthAdjust="spacingAndGlyphs">Tph_blood</text>
<text x="383.10" y="581.80" font-size="8.6" fill="#333" stroke="#333" stroke-width="0.18" text-anchor="middle" textLength="31.00" lengthAdjust="spacingAndGlyphs">Trh_liver</text>
<text x="428.30" y="581.80" font-size="8.6" fill="#333" stroke="#333" stroke-width="0.18" text-anchor="middle" textLength="29.00" lengthAdjust="spacingAndGlyphs">Trh_lung</text>
<path d="M337.80 585.30V625.20M317.80 609.60H358.40" stroke="#bbb" stroke-width="0.6"/>
<text x="357.00" y="593.90" font-size="8.8" fill="#222" stroke="#222" stroke-width="0.18" text-anchor="end" textLength="15.20" lengthAdjust="spacingAndGlyphs">4.54</text>
<text x="319.80" y="632.60" font-size="5.0" fill="#777" stroke="#777" stroke-width="0.1" text-anchor="middle">-10<tspan font-size="3" dy="-2.2">3</tspan></text>
<text x="326.80" y="632.60" font-size="5.0" fill="#777" stroke="#777" stroke-width="0.1" text-anchor="middle">0</text>
<text x="334.00" y="632.60" font-size="5.0" fill="#777" stroke="#777" stroke-width="0.1" text-anchor="middle">10<tspan font-size="3" dy="-2.2">3</tspan></text>
<text x="344.80" y="632.60" font-size="5.0" fill="#777" stroke="#777" stroke-width="0.1" text-anchor="middle">10<tspan font-size="3" dy="-2.2">4</tspan></text>
<text x="353.60" y="632.60" font-size="5.0" fill="#777" stroke="#777" stroke-width="0.1" text-anchor="middle">10<tspan font-size="3" dy="-2.2">5</tspan></text>
<path d="M383.20 585.30V625.20M363.20 609.60H403.60" stroke="#bbb" stroke-width="0.6"/>
<text x="402.20" y="593.90" font-size="8.8" fill="#222" stroke="#222" stroke-width="0.18" text-anchor="end" textLength="15.20" lengthAdjust="spacingAndGlyphs">1.35</text>
<text x="365.20" y="632.60" font-size="5.0" fill="#777" stroke="#777" stroke-width="0.1" text-anchor="middle">-10<tspan font-size="3" dy="-2.2">3</tspan></text>
<text x="372.20" y="632.60" font-size="5.0" fill="#777" stroke="#777" stroke-width="0.1" text-anchor="middle">0</text>
<text x="379.40" y="632.60" font-size="5.0" fill="#777" stroke="#777" stroke-width="0.1" text-anchor="middle">10<tspan font-size="3" dy="-2.2">3</tspan></text>
<text x="390.20" y="632.60" font-size="5.0" fill="#777" stroke="#777" stroke-width="0.1" text-anchor="middle">10<tspan font-size="3" dy="-2.2">4</tspan></text>
<text x="399.00" y="632.60" font-size="5.0" fill="#777" stroke="#777" stroke-width="0.1" text-anchor="middle">10<tspan font-size="3" dy="-2.2">5</tspan></text>
<path d="M429.00 585.30V625.20M408.70 609.60H449.30" stroke="#bbb" stroke-width="0.6"/>
<text x="447.90" y="593.90" font-size="8.8" fill="#222" stroke="#222" stroke-width="0.18" text-anchor="end" textLength="15.20" lengthAdjust="spacingAndGlyphs">1.55</text>
<text x="410.70" y="632.60" font-size="5.0" fill="#777" stroke="#777" stroke-width="0.1" text-anchor="middle">-10<tspan font-size="3" dy="-2.2">3</tspan></text>
<text x="417.70" y="632.60" font-size="5.0" fill="#777" stroke="#777" stroke-width="0.1" text-anchor="middle">0</text>
<text x="424.90" y="632.60" font-size="5.0" fill="#777" stroke="#777" stroke-width="0.1" text-anchor="middle">10<tspan font-size="3" dy="-2.2">3</tspan></text>
<text x="435.70" y="632.60" font-size="5.0" fill="#777" stroke="#777" stroke-width="0.1" text-anchor="middle">10<tspan font-size="3" dy="-2.2">4</tspan></text>
<text x="444.50" y="632.60" font-size="5.0" fill="#777" stroke="#777" stroke-width="0.1" text-anchor="middle">10<tspan font-size="3" dy="-2.2">5</tspan></text>
<path d="M337.80 640.30V680.10M317.80 666.30H358.40" stroke="#bbb" stroke-width="0.6"/>
<text x="357.00" y="648.90" font-size="8.8" fill="#222" stroke="#222" stroke-width="0.18" text-anchor="end" textLength="15.20" lengthAdjust="spacingAndGlyphs">0.23</text>
<text x="319.80" y="687.50" font-size="5.0" fill="#777" stroke="#777" stroke-width="0.1" text-anchor="middle">-10<tspan font-size="3" dy="-2.2">3</tspan></text>
<text x="326.80" y="687.50" font-size="5.0" fill="#777" stroke="#777" stroke-width="0.1" text-anchor="middle">0</text>
<text x="334.00" y="687.50" font-size="5.0" fill="#777" stroke="#777" stroke-width="0.1" text-anchor="middle">10<tspan font-size="3" dy="-2.2">3</tspan></text>
<text x="344.80" y="687.50" font-size="5.0" fill="#777" stroke="#777" stroke-width="0.1" text-anchor="middle">10<tspan font-size="3" dy="-2.2">4</tspan></text>
<text x="353.60" y="687.50" font-size="5.0" fill="#777" stroke="#777" stroke-width="0.1" text-anchor="middle">10<tspan font-size="3" dy="-2.2">5</tspan></text>
<path d="M383.20 640.30V680.10M363.20 666.30H403.60" stroke="#bbb" stroke-width="0.6"/>
<text x="402.20" y="648.90" font-size="8.8" fill="#222" stroke="#222" stroke-width="0.18" text-anchor="end" textLength="15.20" lengthAdjust="spacingAndGlyphs">0.13</text>
<text x="365.20" y="687.50" font-size="5.0" fill="#777" stroke="#777" stroke-width="0.1" text-anchor="middle">-10<tspan font-size="3" dy="-2.2">3</tspan></text>
<text x="372.20" y="687.50" font-size="5.0" fill="#777" stroke="#777" stroke-width="0.1" text-anchor="middle">0</text>
<text x="379.40" y="687.50" font-size="5.0" fill="#777" stroke="#777" stroke-width="0.1" text-anchor="middle">10<tspan font-size="3" dy="-2.2">3</tspan></text>
<text x="390.20" y="687.50" font-size="5.0" fill="#777" stroke="#777" stroke-width="0.1" text-anchor="middle">10<tspan font-size="3" dy="-2.2">4</tspan></text>
<text x="399.00" y="687.50" font-size="5.0" fill="#777" stroke="#777" stroke-width="0.1" text-anchor="middle">10<tspan font-size="3" dy="-2.2">5</tspan></text>
<path d="M429.00 640.30V680.10M408.70 666.30H449.30" stroke="#bbb" stroke-width="0.6"/>
<text x="447.90" y="648.90" font-size="8.8" fill="#222" stroke="#222" stroke-width="0.18" text-anchor="end" textLength="15.20" lengthAdjust="spacingAndGlyphs">0.17</text>
<text x="410.70" y="687.50" font-size="5.0" fill="#777" stroke="#777" stroke-width="0.1" text-anchor="middle">-10<tspan font-size="3" dy="-2.2">3</tspan></text>
<text x="417.70" y="687.50" font-size="5.0" fill="#777" stroke="#777" stroke-width="0.1" text-anchor="middle">0</text>
<text x="424.90" y="687.50" font-size="5.0" fill="#777" stroke="#777" stroke-width="0.1" text-anchor="middle">10<tspan font-size="3" dy="-2.2">3</tspan></text>
<text x="435.70" y="687.50" font-size="5.0" fill="#777" stroke="#777" stroke-width="0.1" text-anchor="middle">10<tspan font-size="3" dy="-2.2">4</tspan></text>
<text x="444.50" y="687.50" font-size="5.0" fill="#777" stroke="#777" stroke-width="0.1" text-anchor="middle">10<tspan font-size="3" dy="-2.2">5</tspan></text>
<path d="M334.45 609.44h1.00M341.97 609.01h1.00M339.33 610.65h1.00M328.33 611.44h1.00M327.86 611.03h1.00M336.76 613.23h1.00M329.85 609.85h1.00M341.43 613.91h1.00M340.27 610.82h1.00M346.74 610.22h1.00M334.10 613.17h1.00M331.16 611.86h1.00M341.70 610.69h1.00M339.60 608.95h1.00M342.65 610.99h1.00M334.23 611.88h1.00M337.42 610.28h1.00M345.27 612.51h1.00M332.61 611.82h1.00M339.08 613.50h1.00M343.78 610.21h1.00M336.62 612.84h1.00M330.50 611.34h1.00M327.90 612.34h1.00M344.59 611.81h1.00M347.14 610.36h1.00M342.99 611.93h1.00M340.34 611.15h1.00M337.90 612.32h1.00M328.40 612.53h1.00M345.90 610.19h1.00M335.87 612.34h1.00M327.52 611.19h1.00M329.97 609.99h1.00M335.99 613.48h1.00M328.85 611.12h1.00M339.64 613.55h1.00M345.84 613.44h1.00M333.40 610.93h1.00M335.25 613.55h1.00M331.05 609.90h1.00M332.37 611.32h1.00M340.55 610.07h1.00M335.49 611.77h1.00M348.92 612.47h1.00M338.86 612.06h1.00M342.55 608.90h1.00M347.69 612.97h1.00M347.11 613.07h1.00M336.02 610.83h1.00M329.38 612.15h1.00M331.80 609.51h1.00M334.82 608.89h1.00M329.33 610.64h1.00M341.12 609.43h1.00M332.80 610.55h1.00M335.38 609.29h1.00M337.72 611.31h1.00M334.88 610.08h1.00M346.06 609.50h1.00M339.15 609.42h1.00M339.49 608.75h1.00M339.15 614.08h1.00M346.86 612.50h1.00M333.01 610.65h1.00M330.84 612.92h1.00M339.25 612.96h1.00M334.58 609.85h1.00M346.61 613.11h1.00M345.82 612.74h1.00M332.22 611.50h1.00M335.18 608.76h1.00M332.96 612.48h1.00M349.00 611.10h1.00M348.97 610.64h1.00M332.07 609.87h1.00M331.52 609.74h1.00M341.35 613.64h1.00M346.33 611.29h1.00M342.02 613.08h1.00M328.95 612.30h1.00M347.92 612.98h1.00M344.25 611.28h1.00M331.11 613.02h1.00M334.65 613.08h1.00M349.35 610.82h1.00M336.23 613.90h1.00M343.67 609.55h1.00M330.36 613.23h1.00M335.06 611.67h1.00M349.33 612.24h1.00M339.11 613.83h1.00M336.98 613.48h1.00M346.00 609.78h1.00M332.79 610.24h1.00M332.53 611.88h1.00M332.97 610.95h1.00M335.14 611.17h1.00M340.42 613.66h1.00M336.67 613.74h1.00M338.54 611.58h1.00M339.04 608.70h1.00M337.12 609.63h1.00M330.96 611.25h1.00M343.68 611.72h1.00M334.50 611.50h1.00M339.78 612.99h1.00M329.44 611.74h1.00M332.72 610.15h1.00M344.76 611.44h1.00M339.92 612.86h1.00M347.99 611.08h1.00M341.09 611.43h1.00M338.78 612.48h1.00M337.40 611.59h1.00M337.99 613.87h1.00M343.08 613.51h1.00M339.87 613.88h1.00M346.32 609.37h1.00M329.80 611.08h1.00M328.67 609.95h1.00M328.68 612.35h1.00M345.03 613.62h1.00M330.55 612.61h1.00M342.19 609.40h1.00M336.16 611.33h1.00M330.71 611.02h1.00M338.86 610.50h1.00M331.50 610.38h1.00M339.74 611.07h1.00M341.35 611.47h1.00M329.41 610.09h1.00M333.22 609.33h1.00M336.71 613.70h1.00M345.84 610.05h1.00M340.12 612.52h1.00M342.83 610.98h1.00M341.59 613.09h1.00M337.44 610.50h1.00M339.72 613.79h1.00M333.16 609.32h1.00M339.12 609.94h1.00M334.18 610.31h1.00M344.47 610.22h1.00M338.50 609.60h1.00M343.86 611.69h1.00M331.36 611.26h1.00M345.84 611.02h1.00M338.39 613.27h1.00M336.04 611.44h1.00M334.88 613.26h1.00M343.25 612.16h1.00M336.31 610.55h1.00M328.63 612.75h1.00M332.88 609.51h1.00M347.02 612.36h1.00M333.48 609.96h1.00M333.74 611.17h1.00M330.62 611.10h1.00M349.37 611.66h1.00M334.12 610.60h1.00M337.92 611.42h1.00M331.62 611.43h1.00M329.06 610.84h1.00M334.00 609.90h1.00M340.47 611.56h1.00M344.26 612.28h1.00M343.47 613.52h1.00M335.96 610.43h1.00M343.66 612.20h1.00M347.51 612.11h1.00M343.88 613.15h1.00M330.20 611.53h1.00M338.60 613.28h1.00M345.51 613.23h1.00M340.43 613.60h1.00M342.71 612.48h1.00M330.06 610.62h1.00M339.85 612.12h1.00M341.40 612.41h1.00M338.25 608.62h1.00M345.35 612.79h1.00M338.57 611.60h1.00M342.16 608.97h1.00M343.95 610.01h1.00M328.71 610.09h1.00M343.77 609.75h1.00M338.36 610.74h1.00M338.02 612.43h1.00M344.64 612.06h1.00M341.78 609.03h1.00M330.39 610.02h1.00M344.09 610.30h1.00M340.06 608.67h1.00M328.40 610.11h1.00M342.46 612.48h1.00M342.54 610.23h1.00M338.88 611.20h1.00M337.73 609.26h1.00M347.55 609.72h1.00" stroke="#000" stroke-width="1.00" opacity="1.0"/>
<ellipse cx="337.50" cy="611.60" rx="8.50" ry="2.00" fill="#000" opacity="0.95"/>
<ellipse cx="333.00" cy="611.20" rx="4.50" ry="2.30" fill="#000" opacity="0.95"/>
<path d="M331.21 603.21h0.60M336.39 601.88h0.60M333.53 604.07h0.60M332.70 603.67h0.60M340.84 603.56h0.60M341.64 604.92h0.60M333.78 606.28h0.60M336.83 600.17h0.60M331.04 603.44h0.60M336.41 602.11h0.60M332.69 602.41h0.60M334.79 605.88h0.60M342.12 604.99h0.60M341.82 602.03h0.60M335.47 602.75h0.60M335.33 603.00h0.60M334.43 606.55h0.60M333.99 601.86h0.60M337.13 601.33h0.60M335.48 606.69h0.60M341.61 605.68h0.60M338.57 606.39h0.60M342.29 603.84h0.60M339.79 603.16h0.60M340.03 604.51h0.60M334.43 600.34h0.60M336.67 602.41h0.60M334.57 605.17h0.60M338.87 602.11h0.60M337.69 602.76h0.60" stroke="#555" stroke-width="0.60" opacity="0.8"/>
<path d="M344.50 610.92h0.90M346.48 611.10h0.90M346.20 610.85h0.90M345.55 610.69h0.90M344.93 611.23h0.90M346.92 613.24h0.90M348.00 611.72h0.90M345.98 612.08h0.90M345.76 611.48h0.90M343.87 611.29h0.90M346.52 612.41h0.90M348.68 611.09h0.90M345.13 611.20h0.90M345.90 611.83h0.90M348.87 611.91h0.90M345.85 613.37h0.90M348.45 613.14h0.90M346.63 612.58h0.90M349.15 612.71h0.90M347.38 612.85h0.90M346.24 612.16h0.90M344.90 613.34h0.90M347.37 611.37h0.90M344.27 611.21h0.90M347.32 612.64h0.90M346.65 612.27h0.90M345.83 611.12h0.90M347.11 610.43h0.90M345.31 611.87h0.90M349.25 612.46h0.90M348.80 611.92h0.90M344.91 611.19h0.90M346.49 612.56h0.90M346.02 611.22h0.90M347.50 613.36h0.90M345.53 611.75h0.90M347.60 611.03h0.90M348.28 612.77h0.90M346.53 611.06h0.90M348.42 611.14h0.90" stroke="#000" stroke-width="0.90" opacity="1.0"/>
<ellipse cx="381.50" cy="612.50" rx="11.00" ry="2.40" fill="#000" opacity="0.95"/>
<ellipse cx="374.00" cy="612.00" rx="4.50" ry="2.60" fill="#000" opacity="0.95"/>
<path d="M374.98 613.76h1.00M376.96 614.91h1.00M382.39 610.32h1.00M375.03 611.70h1.00M386.96 614.89h1.00M372.95 611.56h1.00M370.62 611.56h1.00M394.15 611.18h1.00M386.94 611.47h1.00M379.09 611.19h1.00M376.55 611.31h1.00M378.63 614.13h1.00M391.19 611.79h1.00M370.33 612.04h1.00M379.06 614.72h1.00M374.21 611.39h1.00M380.09 614.07h1.00M393.84 610.74h1.00M389.18 614.59h1.00M378.15 610.83h1.00M394.86 612.90h1.00M376.08 613.50h1.00M377.55 610.85h1.00M393.74 613.00h1.00M375.31 612.05h1.00M379.44 610.71h1.00M380.61 612.16h1.00M390.67 613.63h1.00M391.21 613.84h1.00M385.40 611.17h1.00M377.63 611.37h1.00M374.33 613.72h1.00M369.91 612.52h1.00M376.15 609.70h1.00M371.60 612.19h1.00M388.16 611.88h1.00M375.32 611.70h1.00M385.75 613.24h1.00M389.20 614.28h1.00M386.94 609.93h1.00M391.70 610.96h1.00M384.31 611.44h1.00M388.93 610.40h1.00M375.68 610.67h1.00M384.61 611.16h1.00M382.70 610.59h1.00M390.83 613.12h1.00M381.82 614.11h1.00M372.22 610.34h1.00M395.27 612.70h1.00M394.11 611.43h1.00M392.39 611.89h1.00M376.02 613.87h1.00M385.10 612.92h1.00M374.88 611.41h1.00M372.82 610.42h1.00M375.88 612.80h1.00M386.59 610.42h1.00M387.31 610.31h1.00M377.43 610.42h1.00M390.47 612.49h1.00M379.67 612.50h1.00M386.26 609.75h1.00M373.42 613.37h1.00M380.06 610.90h1.00M377.31 614.92h1.00M377.43 612.60h1.00M378.64 611.70h1.00M378.82 610.38h1.00M388.66 610.42h1.00M380.44 614.12h1.00M379.97 614.50h1.00M381.44 610.18h1.00M369.40 612.51h1.00M386.30 614.66h1.00M371.40 612.93h1.00M379.01 612.23h1.00M372.94 610.90h1.00M383.07 614.75h1.00M371.94 612.14h1.00M374.33 609.96h1.00M382.03 609.52h1.00M394.01 611.53h1.00M393.41 612.92h1.00M391.26 610.16h1.00M390.22 610.53h1.00M379.92 614.28h1.00M391.39 610.30h1.00M374.89 611.60h1.00M382.98 611.50h1.00M372.32 610.68h1.00M388.57 614.58h1.00M370.11 612.57h1.00M385.19 612.50h1.00M385.93 611.04h1.00M380.34 612.70h1.00M380.49 613.15h1.00M381.06 611.83h1.00M369.63 612.91h1.00M382.22 610.61h1.00M389.62 613.88h1.00M381.37 610.28h1.00M381.78 609.84h1.00M372.47 611.78h1.00M371.48 611.85h1.00M382.77 609.44h1.00M386.18 609.69h1.00M388.80 613.87h1.00M382.81 609.53h1.00M382.61 611.47h1.00M388.77 614.09h1.00M382.28 614.94h1.00M370.77 611.31h1.00M389.42 610.15h1.00M393.21 610.85h1.00M391.02 610.06h1.00M382.56 614.72h1.00M374.62 610.78h1.00M382.66 611.11h1.00M387.35 614.57h1.00M373.56 613.91h1.00M372.11 612.38h1.00M386.18 611.36h1.00M392.57 612.53h1.00M384.66 614.50h1.00M386.00 611.57h1.00M390.54 610.79h1.00M395.74 612.66h1.00M378.73 613.79h1.00M380.94 610.26h1.00M391.14 610.72h1.00M384.82 613.18h1.00M385.63 611.79h1.00M382.84 614.57h1.00M372.56 610.56h1.00M371.87 611.34h1.00M375.05 612.70h1.00M384.91 610.43h1.00M385.85 612.05h1.00M375.58 610.10h1.00M371.59 613.03h1.00M392.52 613.89h1.00M379.85 610.79h1.00M384.18 611.30h1.00M386.43 611.86h1.00M394.30 613.60h1.00M375.71 614.62h1.00M370.19 612.39h1.00M379.96 610.63h1.00M369.33 612.51h1.00M374.39 612.85h1.00M382.69 613.05h1.00M390.96 610.25h1.00M377.35 611.00h1.00M390.14 613.49h1.00M389.12 611.99h1.00M389.03 611.91h1.00M375.10 609.83h1.00M378.06 613.70h1.00M387.77 614.27h1.00M388.22 610.80h1.00M383.95 611.82h1.00M390.29 612.34h1.00M376.16 613.05h1.00M376.03 610.62h1.00M389.15 611.16h1.00M392.76 611.17h1.00M375.46 614.65h1.00M386.03 613.36h1.00M381.68 614.24h1.00M387.84 614.35h1.00M380.80 613.55h1.00M384.40 611.05h1.00M374.72 612.94h1.00M378.31 610.05h1.00M387.70 613.00h1.00M387.82 613.62h1.00M370.78 612.74h1.00M378.81 614.11h1.00M371.89 610.43h1.00M391.89 614.07h1.00M386.12 614.15h1.00M386.05 610.92h1.00M389.45 610.43h1.00M377.62 611.74h1.00M376.63 613.49h1.00M378.94 611.12h1.00M395.03 612.22h1.00M391.99 612.91h1.00M369.84 611.68h1.00M380.78 613.84h1.00M378.36 613.43h1.00M383.52 610.50h1.00M391.13 610.22h1.00M369.12 612.14h1.00M382.27 613.98h1.00M373.98 612.17h1.00M378.37 614.19h1.00M376.66 610.49h1.00M387.89 612.19h1.00M371.97 613.02h1.00M387.82 613.92h1.00M385.95 611.33h1.00M379.83 611.57h1.00M374.57 610.78h1.00M393.33 612.21h1.00M379.24 614.50h1.00M375.31 611.97h1.00M383.35 613.73h1.00M389.33 613.08h1.00M378.41 611.16h1.00M373.19 614.26h1.00M386.88 613.65h1.00M373.58 611.83h1.00M389.88 612.68h1.00M372.40 611.97h1.00M392.90 610.63h1.00M374.17 611.01h1.00M387.99 614.26h1.00M373.17 610.14h1.00M375.68 611.16h1.00M383.10 610.17h1.00M377.86 610.34h1.00M371.74 611.51h1.00M388.80 611.81h1.00M374.30 613.03h1.00M371.89 610.44h1.00M379.49 609.40h1.00M379.77 613.95h1.00M387.72 612.20h1.00M386.07 611.98h1.00M372.83 612.82h1.00M379.93 613.65h1.00M393.52 611.78h1.00M384.50 613.69h1.00M380.37 610.57h1.00M388.50 614.48h1.00M389.90 613.40h1.00M392.02 613.28h1.00M386.32 611.92h1.00" stroke="#000" stroke-width="1.00" opacity="1.0"/>
<ellipse cx="375.80" cy="604.50" rx="2.30" ry="3.20" fill="#000" opacity="0.85"/>
<path d="M374.50 605.48h0.90M372.78 603.40h0.90M378.26 606.33h0.90M377.04 601.70h0.90M375.39 603.75h0.90M376.97 603.29h0.90M377.40 608.50h0.90M373.46 605.74h0.90M378.23 603.09h0.90M375.92 608.95h0.90M372.31 604.63h0.90M373.29 607.02h0.90M379.52 604.39h0.90M372.81 604.95h0.90M376.33 606.37h0.90M376.10 605.59h0.90M378.63 604.42h0.90M375.28 608.68h0.90M373.68 606.04h0.90M375.14 606.83h0.90M374.84 599.77h0.90M374.19 603.20h0.90M372.11 603.39h0.90M375.36 606.18h0.90M374.82 601.85h0.90M373.80 606.61h0.90M379.52 604.47h0.90M373.75 607.21h0.90M375.14 601.32h0.90M373.03 606.97h0.90M378.48 605.54h0.90M375.75 604.82h0.90M374.83 605.59h0.90M378.55 607.36h0.90M375.74 602.14h0.90M376.39 600.45h0.90M378.67 602.75h0.90M378.81 601.87h0.90M375.01 601.74h0.90M375.41 601.06h0.90M374.25 601.65h0.90M374.41 604.00h0.90M375.43 605.57h0.90M377.27 602.82h0.90M379.25 607.04h0.90M373.12 607.51h0.90M377.25 601.70h0.90M373.87 606.96h0.90M374.77 600.73h0.90M379.23 607.12h0.90M376.87 607.01h0.90M377.35 608.14h0.90M378.30 607.59h0.90M373.58 606.13h0.90M376.25 606.62h0.90M375.51 608.03h0.90M376.44 601.84h0.90M373.87 600.59h0.90M375.94 599.78h0.90M375.74 600.64h0.90M375.93 604.18h0.90M376.32 607.83h0.90M375.74 604.83h0.90M377.32 607.61h0.90M375.00 603.39h0.90M377.10 605.56h0.90M372.23 605.30h0.90M377.46 608.51h0.90M376.09 604.05h0.90M377.75 605.45h0.90" stroke="#000" stroke-width="0.90" opacity="1.0"/>
<path d="M389.53 608.89h0.70M389.70 605.80h0.70M390.65 608.16h0.70M388.76 605.48h0.70M390.03 606.43h0.70M392.46 604.34h0.70M392.47 605.23h0.70M390.52 604.17h0.70M390.54 609.80h0.70M391.43 608.34h0.70M389.49 604.54h0.70M389.30 606.69h0.70M391.31 608.27h0.70M392.81 606.36h0.70M387.80 604.40h0.70M393.03 606.87h0.70M391.45 608.31h0.70M392.96 606.89h0.70M391.20 607.01h0.70M391.68 606.77h0.70M391.59 603.70h0.70M391.50 605.66h0.70M392.08 602.81h0.70M392.15 609.31h0.70M391.43 604.95h0.70M392.44 608.29h0.70M390.87 604.06h0.70M389.31 605.37h0.70M389.41 605.45h0.70M391.35 609.47h0.70" stroke="#222" stroke-width="0.70" opacity="0.85"/>
<path d="M371.42 603.95h0.60M391.07 604.05h0.60M393.88 602.25h0.60M370.37 601.42h0.60M385.39 609.13h0.60M395.50 602.66h0.60M380.72 597.43h0.60M386.76 598.97h0.60M388.70 599.39h0.60M389.07 598.62h0.60M388.55 607.98h0.60M388.97 597.18h0.60M386.34 605.93h0.60M381.98 609.05h0.60M378.09 606.21h0.60M374.32 608.05h0.60M382.64 596.84h0.60M379.56 604.05h0.60M381.41 605.48h0.60M373.77 607.16h0.60M379.44 605.03h0.60M386.37 601.85h0.60M380.03 607.01h0.60M384.74 600.09h0.60M388.28 607.58h0.60M378.63 604.48h0.60M385.63 600.32h0.60M381.14 608.43h0.60M379.79 605.59h0.60M385.65 608.55h0.60" stroke="#555" stroke-width="0.60" opacity="0.7"/>
<ellipse cx="428.50" cy="612.30" rx="12.00" ry="2.50" fill="#000" opacity="0.95"/>
<ellipse cx="421.00" cy="611.50" rx="5.00" ry="3.00" fill="#000" opacity="0.95"/>
<path d="M438.72 610.70h1.00M427.18 612.52h1.00M438.98 614.32h1.00M438.85 614.20h1.00M431.66 610.64h1.00M440.04 613.84h1.00M435.04 614.48h1.00M424.91 609.51h1.00M431.11 613.78h1.00M420.51 613.50h1.00M432.71 613.07h1.00M428.46 610.24h1.00M422.14 613.51h1.00M438.25 611.76h1.00M437.66 610.40h1.00M431.89 614.38h1.00M441.05 612.13h1.00M428.80 612.54h1.00M420.17 610.15h1.00M419.92 613.21h1.00M425.38 612.39h1.00M426.57 612.10h1.00M417.68 612.80h1.00M438.12 609.94h1.00M432.42 611.07h1.00M430.08 609.12h1.00M440.48 611.92h1.00M431.52 610.57h1.00M437.88 611.56h1.00M420.53 610.08h1.00M431.22 614.22h1.00M428.25 614.68h1.00M432.44 611.38h1.00M422.22 612.39h1.00M433.72 614.74h1.00M434.59 611.36h1.00M427.95 609.96h1.00M422.18 611.11h1.00M438.09 613.26h1.00M434.81 610.79h1.00M432.24 613.55h1.00M417.66 610.94h1.00M422.21 609.74h1.00M428.94 610.01h1.00M421.65 609.86h1.00M436.02 610.17h1.00M418.69 611.68h1.00M439.77 612.77h1.00M428.07 611.04h1.00M439.19 611.87h1.00M433.35 609.86h1.00M435.91 612.32h1.00M422.49 611.47h1.00M419.17 610.63h1.00M439.69 611.01h1.00M419.53 611.95h1.00M424.04 614.42h1.00M434.55 610.27h1.00M428.82 610.72h1.00M422.23 610.21h1.00M417.43 610.74h1.00M436.29 610.76h1.00M438.71 611.05h1.00M439.47 612.16h1.00M420.07 611.61h1.00M441.86 610.31h1.00M431.64 609.83h1.00M419.90 613.62h1.00M435.85 610.18h1.00M432.76 611.97h1.00M422.72 610.24h1.00M432.87 613.25h1.00M438.85 612.50h1.00M436.48 611.45h1.00M436.15 609.33h1.00M438.82 611.01h1.00M439.76 614.19h1.00M429.29 609.09h1.00M441.81 611.86h1.00M440.66 610.60h1.00M420.08 613.99h1.00M425.51 609.98h1.00M425.63 612.57h1.00M414.64 612.12h1.00M427.87 612.09h1.00M418.12 613.29h1.00M439.00 614.19h1.00M424.13 613.27h1.00M425.94 613.51h1.00M443.12 611.97h1.00M429.90 612.18h1.00M430.62 609.12h1.00M422.01 613.90h1.00M435.47 610.17h1.00M415.03 612.60h1.00M431.79 612.14h1.00M435.58 609.62h1.00M440.59 613.30h1.00M429.31 612.00h1.00M422.89 609.73h1.00M426.67 609.82h1.00M432.25 614.17h1.00M418.92 612.44h1.00M436.90 609.99h1.00M426.16 611.52h1.00M439.69 612.15h1.00M426.37 614.65h1.00M437.81 611.03h1.00M421.71 611.01h1.00M427.57 614.89h1.00M438.95 614.09h1.00M416.11 612.10h1.00M421.98 611.53h1.00M433.48 611.19h1.00M430.42 609.42h1.00M427.49 612.03h1.00M442.61 612.80h1.00M438.78 614.31h1.00M433.75 610.59h1.00M434.85 610.64h1.00M430.77 614.55h1.00M433.14 610.50h1.00M430.11 611.60h1.00M443.03 610.73h1.00M423.66 612.89h1.00M418.11 612.57h1.00M443.18 612.08h1.00M422.55 611.80h1.00M430.51 609.89h1.00M423.31 611.44h1.00M423.15 610.46h1.00M417.14 612.28h1.00M439.69 612.66h1.00M431.61 612.90h1.00M420.54 613.26h1.00M428.33 612.29h1.00M432.88 611.81h1.00M423.82 610.45h1.00M421.15 612.07h1.00M426.00 612.51h1.00M440.36 610.43h1.00M431.20 611.95h1.00M423.37 613.63h1.00M440.64 611.64h1.00M416.36 611.33h1.00M427.70 613.41h1.00M417.78 610.35h1.00M419.14 611.02h1.00M425.07 613.05h1.00M432.99 614.10h1.00M439.14 612.11h1.00M436.66 613.46h1.00M437.29 611.85h1.00M438.05 613.25h1.00M437.47 612.52h1.00M429.44 614.78h1.00M431.66 611.51h1.00M438.01 614.24h1.00M432.72 611.28h1.00M428.07 611.75h1.00M436.19 610.76h1.00M426.22 612.33h1.00M426.04 610.93h1.00M438.11 614.10h1.00M429.49 611.66h1.00M420.03 610.82h1.00M418.85 612.45h1.00M431.95 609.53h1.00M442.10 610.94h1.00M439.80 614.03h1.00M427.29 614.46h1.00M431.45 611.98h1.00M430.65 614.99h1.00M430.02 612.10h1.00M435.06 611.34h1.00M425.23 612.57h1.00M425.03 614.69h1.00M434.79 612.15h1.00M417.47 611.25h1.00M426.53 612.37h1.00M431.72 614.28h1.00M443.43 611.92h1.00M427.70 612.75h1.00M430.40 613.90h1.00M419.62 610.91h1.00M429.88 609.66h1.00M441.34 613.14h1.00M441.14 611.53h1.00M419.19 610.74h1.00M429.85 612.03h1.00M420.14 610.09h1.00M433.40 612.62h1.00M433.60 609.25h1.00M426.84 613.73h1.00M423.70 613.14h1.00M439.76 612.52h1.00M434.54 610.18h1.00M429.44 612.32h1.00M422.48 612.88h1.00M430.44 614.98h1.00M431.73 611.47h1.00M437.28 609.64h1.00M430.17 613.94h1.00M432.89 613.84h1.00M437.62 610.94h1.00M435.96 611.12h1.00M419.58 610.60h1.00M431.97 611.09h1.00M428.00 611.31h1.00M431.98 614.76h1.00M427.69 612.72h1.00M423.94 614.39h1.00M438.98 610.82h1.00M432.58 614.76h1.00M429.37 614.70h1.00M421.79 611.34h1.00M436.05 610.33h1.00M423.77 614.25h1.00M429.03 613.76h1.00M421.80 610.04h1.00M425.25 610.12h1.00M431.35 609.69h1.00M430.51 611.31h1.00M426.60 609.39h1.00M418.20 613.95h1.00M425.04 610.47h1.00M420.24 610.70h1.00M434.43 611.05h1.00M419.18 613.24h1.00M417.28 610.62h1.00M427.80 614.02h1.00M438.65 609.96h1.00M425.09 613.33h1.00M425.81 614.75h1.00M429.64 610.36h1.00M428.08 609.79h1.00M435.69 610.56h1.00M441.49 612.53h1.00M425.54 610.48h1.00M432.75 610.28h1.00M429.89 612.26h1.00M422.61 613.63h1.00M426.04 612.95h1.00M431.53 610.86h1.00M426.20 609.52h1.00M419.81 614.11h1.00M424.13 612.98h1.00M417.77 612.37h1.00M425.34 612.00h1.00M423.41 609.40h1.00M423.84 610.36h1.00M418.28 613.30h1.00M422.97 611.42h1.00M441.77 613.65h1.00M418.47 610.66h1.00M434.41 611.11h1.00M426.88 612.95h1.00M435.48 610.49h1.00M439.90 611.11h1.00M433.36 610.09h1.00" stroke="#000" stroke-width="1.00" opacity="1.0"/>
<ellipse cx="421.50" cy="603.80" rx="3.60" ry="5.80" fill="#000" opacity="0.92"/>
<path d="M424.14 606.48h1.00M418.42 599.27h1.00M419.83 601.83h1.00M417.19 600.85h1.00M423.18 599.02h1.00M425.19 604.48h1.00M423.97 600.07h1.00M421.15 606.08h1.00M425.14 607.37h1.00M425.34 605.00h1.00M417.91 607.58h1.00M424.30 597.71h1.00M423.75 602.01h1.00M424.28 608.10h1.00M419.61 597.76h1.00M426.26 602.44h1.00M426.10 606.18h1.00M424.19 608.12h1.00M423.08 602.84h1.00M417.34 606.28h1.00M421.08 603.67h1.00M423.83 607.78h1.00M419.41 604.15h1.00M426.49 605.43h1.00M422.24 600.00h1.00M417.39 601.51h1.00M420.92 599.32h1.00M419.91 598.41h1.00M423.87 605.88h1.00M419.18 599.88h1.00M421.95 602.73h1.00M426.16 601.42h1.00M419.79 608.89h1.00M418.22 604.39h1.00M420.14 607.92h1.00M422.28 607.15h1.00M418.49 605.83h1.00M422.79 602.96h1.00M424.46 608.14h1.00M417.94 600.55h1.00M420.40 599.39h1.00M417.40 600.43h1.00M418.77 606.32h1.00M421.28 598.08h1.00M420.04 603.06h1.00M420.43 598.85h1.00M417.64 606.54h1.00M426.60 604.39h1.00M417.89 603.34h1.00M421.14 599.16h1.00M422.23 596.62h1.00M426.00 605.52h1.00M423.08 609.59h1.00M423.33 600.02h1.00M419.26 598.44h1.00M425.20 600.65h1.00M418.66 605.43h1.00M418.48 607.48h1.00M425.10 606.89h1.00M420.07 599.08h1.00M425.05 600.98h1.00M420.49 604.22h1.00M420.49 608.14h1.00M422.47 605.29h1.00M425.00 606.38h1.00M421.74 603.49h1.00M418.37 600.69h1.00M422.61 597.62h1.00M423.68 598.79h1.00M421.23 610.08h1.00M421.20 599.17h1.00M425.21 608.47h1.00M424.67 602.46h1.00M419.63 605.76h1.00M421.95 602.40h1.00M420.19 602.64h1.00M423.46 608.07h1.00M419.76 602.70h1.00M422.43 601.37h1.00M420.04 602.95h1.00M426.42 605.18h1.00M423.56 605.03h1.00M419.77 604.50h1.00M426.33 603.23h1.00M423.27 600.69h1.00M420.23 608.89h1.00M423.59 602.76h1.00M417.65 605.75h1.00M420.52 604.63h1.00M420.96 603.92h1.00M422.45 602.05h1.00M425.70 604.17h1.00M419.33 597.83h1.00M422.11 600.02h1.00M421.69 604.26h1.00M419.07 604.52h1.00M417.93 603.68h1.00M422.68 597.62h1.00M420.88 597.53h1.00M421.20 608.59h1.00M422.31 606.50h1.00M424.37 598.10h1.00M420.72 598.90h1.00M426.40 604.38h1.00M424.55 598.42h1.00M419.17 601.71h1.00M416.95 604.82h1.00M418.93 600.70h1.00M423.87 602.46h1.00M425.69 605.20h1.00" stroke="#000" stroke-width="1.00" opacity="1.0"/>
<path d="M431.99 608.23h0.64M429.17 608.88h0.64M429.87 608.95h0.64M431.22 609.17h0.64M428.99 607.54h0.64M430.92 606.56h0.64M430.70 609.09h0.64" stroke="#222" stroke-width="0.64" opacity="0.8"/>
<path d="M432.00 606.62h0.64M430.07 607.31h0.64M432.65 607.79h0.64M429.74 608.58h0.64M430.04 607.70h0.64M430.46 608.17h0.64M430.82 606.22h0.64" stroke="#222" stroke-width="0.64" opacity="0.8"/>
<path d="M433.60 607.14h0.64M432.86 608.11h0.64M431.47 605.74h0.64M432.11 608.34h0.64M430.83 608.15h0.64M432.82 606.61h0.64M432.00 605.77h0.64" stroke="#222" stroke-width="0.64" opacity="0.8"/>
<path d="M434.28 606.12h0.64M434.39 606.90h0.64M431.20 605.89h0.64M431.77 607.92h0.64M433.26 604.86h0.64M431.58 606.00h0.64M432.77 606.78h0.64" stroke="#222" stroke-width="0.64" opacity="0.8"/>
<path d="M433.25 605.47h0.64M433.54 607.75h0.64M434.38 605.18h0.64M432.79 606.00h0.64M432.75 606.25h0.64M433.81 607.65h0.64M433.94 606.98h0.64" stroke="#222" stroke-width="0.64" opacity="0.8"/>
<path d="M435.99 606.49h0.64M435.03 605.98h0.64M433.95 604.71h0.64M435.68 606.84h0.64M436.25 606.15h0.64M433.72 606.45h0.64M435.46 605.53h0.64" stroke="#222" stroke-width="0.64" opacity="0.8"/>
<path d="M435.84 604.46h0.64M435.50 604.66h0.64M433.54 604.41h0.64M435.23 604.52h0.64M434.27 604.05h0.64M434.70 603.69h0.64M435.11 604.80h0.64" stroke="#222" stroke-width="0.64" opacity="0.8"/>
<path d="M436.37 603.79h0.64M435.31 603.81h0.64M437.01 604.68h0.64M437.85 603.93h0.64M437.78 604.80h0.64M436.42 606.25h0.64M435.53 605.49h0.64" stroke="#222" stroke-width="0.64" opacity="0.8"/>
<path d="M436.61 605.33h0.64M435.17 603.94h0.64M438.50 603.19h0.64M435.56 603.16h0.64M437.72 602.99h0.64M436.50 602.92h0.64M437.31 605.31h0.64" stroke="#222" stroke-width="0.64" opacity="0.8"/>
<path d="M438.29 602.41h0.64M438.10 601.99h0.64M438.94 604.85h0.64M437.06 602.19h0.64M436.45 603.63h0.64M439.20 604.00h0.64M437.01 604.40h0.64" stroke="#222" stroke-width="0.64" opacity="0.8"/>
<path d="M439.10 602.66h0.64M439.22 602.42h0.64M436.73 602.69h0.64M436.68 603.45h0.64M437.84 602.98h0.64M438.89 602.13h0.64M438.35 601.25h0.64" stroke="#222" stroke-width="0.64" opacity="0.8"/>
<path d="M441.00 602.73h0.64M439.76 603.31h0.64M438.62 601.04h0.64M437.92 601.21h0.64M440.37 601.02h0.64M440.56 602.22h0.64M439.45 602.82h0.64" stroke="#222" stroke-width="0.64" opacity="0.8"/>
<path d="M440.32 602.57h0.64M440.51 601.39h0.64M441.06 601.13h0.64M440.95 602.95h0.64M441.20 601.31h0.64M439.91 601.20h0.64M440.19 603.59h0.64" stroke="#222" stroke-width="0.64" opacity="0.8"/>
<path d="M440.80 602.06h0.64M442.00 601.00h0.64M441.93 600.02h0.64M439.14 601.51h0.64M441.12 600.35h0.64M442.66 601.02h0.64M439.50 600.34h0.64" stroke="#222" stroke-width="0.64" opacity="0.8"/>
<path d="M435.13 605.90h0.60M436.34 596.40h0.60M442.47 599.99h0.60M432.08 597.82h0.60M437.02 599.44h0.60M422.71 605.65h0.60M416.23 603.27h0.60M414.96 602.04h0.60M425.06 605.10h0.60M414.80 600.90h0.60M425.30 605.87h0.60M441.35 601.78h0.60M419.72 596.53h0.60M420.87 599.07h0.60M419.94 595.84h0.60M435.78 602.00h0.60M419.50 600.97h0.60M417.70 605.08h0.60M439.08 596.74h0.60M435.55 604.52h0.60M421.48 597.64h0.60M427.57 605.47h0.60M417.85 602.56h0.60M430.93 599.34h0.60M430.38 605.36h0.60M419.29 605.37h0.60M423.81 603.92h0.60M438.90 595.55h0.60M417.52 603.30h0.60M433.48 594.26h0.60" stroke="#555" stroke-width="0.60" opacity="0.7"/>
<path d="M335.63 670.47h0.90M343.54 670.33h0.90M333.43 669.97h0.90M342.98 666.95h0.90M339.10 667.73h0.90M337.54 667.22h0.90M335.15 670.31h0.90M331.03 668.75h0.90M331.35 668.51h0.90M332.26 669.54h0.90M331.61 669.75h0.90M339.02 667.25h0.90M335.93 668.79h0.90M347.79 668.20h0.90M347.05 669.73h0.90M334.23 667.51h0.90M334.06 667.08h0.90M329.41 668.84h0.90M337.07 669.03h0.90M342.95 669.41h0.90M339.92 669.00h0.90M346.86 669.67h0.90M336.88 668.07h0.90M337.30 670.69h0.90M336.63 668.34h0.90M337.11 667.37h0.90M341.26 670.51h0.90M333.85 669.24h0.90M336.42 667.76h0.90M332.67 667.26h0.90M346.20 669.94h0.90M343.08 668.10h0.90M342.07 669.00h0.90M346.42 668.84h0.90M333.42 669.32h0.90M344.11 668.32h0.90M343.46 668.37h0.90M339.55 669.25h0.90M342.72 668.09h0.90M341.71 668.97h0.90M333.19 669.25h0.90M334.06 670.43h0.90M338.44 669.69h0.90M339.46 668.71h0.90M333.15 667.37h0.90M347.97 668.91h0.90M339.50 668.91h0.90M345.58 667.75h0.90M332.12 670.09h0.90M338.17 669.36h0.90M336.51 670.13h0.90M345.67 667.29h0.90M331.73 667.81h0.90M330.66 668.23h0.90M345.37 668.89h0.90M338.01 667.15h0.90M343.10 668.60h0.90M338.55 669.99h0.90M344.43 667.40h0.90M342.78 668.27h0.90M339.43 667.75h0.90M336.29 668.16h0.90M336.50 666.87h0.90M332.72 669.08h0.90M343.58 667.90h0.90M335.30 667.77h0.90M341.86 670.24h0.90M332.74 668.49h0.90M345.14 669.27h0.90M336.30 666.98h0.90M337.79 668.27h0.90M343.46 667.98h0.90M337.07 669.39h0.90M345.53 668.21h0.90M336.59 669.11h0.90M336.32 669.46h0.90M335.42 667.08h0.90M344.38 668.32h0.90M339.54 668.79h0.90M347.43 669.83h0.90M329.04 669.17h0.90M338.21 668.65h0.90M346.13 668.46h0.90M338.45 670.36h0.90M337.74 668.77h0.90M339.25 670.10h0.90M342.58 669.76h0.90M336.94 666.96h0.90M342.78 669.02h0.90M344.65 669.88h0.90M330.98 667.68h0.90M344.32 669.06h0.90M329.66 669.52h0.90M343.43 668.73h0.90M329.65 669.56h0.90M337.28 669.14h0.90M335.52 668.87h0.90M334.27 667.85h0.90M335.07 667.82h0.90M346.54 669.02h0.90M339.23 668.48h0.90M329.57 668.02h0.90M346.70 670.01h0.90M346.49 667.83h0.90M339.77 668.30h0.90M338.25 668.76h0.90M340.76 668.26h0.90M345.33 667.60h0.90M347.81 669.02h0.90M329.57 668.06h0.90M339.69 668.44h0.90M340.36 668.09h0.90M334.24 669.98h0.90M334.62 669.64h0.90M345.35 669.17h0.90M338.05 670.54h0.90M337.84 670.31h0.90M329.71 668.53h0.90M341.92 667.00h0.90M341.02 667.52h0.90M347.87 669.04h0.90M345.31 668.79h0.90M342.65 669.50h0.90M334.69 667.64h0.90M346.10 667.38h0.90M337.21 669.44h0.90M333.91 670.42h0.90M342.90 667.42h0.90M329.69 669.58h0.90M334.67 667.73h0.90M340.72 668.07h0.90M340.27 667.42h0.90M347.65 668.10h0.90M346.17 667.41h0.90M336.72 666.93h0.90M336.48 669.36h0.90M333.19 668.98h0.90M330.47 668.66h0.90M343.79 668.52h0.90M342.76 667.26h0.90M348.23 668.91h0.90M334.61 668.19h0.90M344.26 668.79h0.90M338.68 670.26h0.90M341.05 668.96h0.90M334.19 670.37h0.90M346.25 667.71h0.90M341.07 670.67h0.90M335.73 670.58h0.90M342.29 667.00h0.90M335.50 668.60h0.90M333.70 669.77h0.90M332.26 669.95h0.90M334.76 667.08h0.90M340.24 667.18h0.90M340.08 669.95h0.90M341.01 668.65h0.90M329.21 668.85h0.90M330.54 669.39h0.90M331.27 669.11h0.90M335.91 668.30h0.90M342.43 667.46h0.90M335.46 670.17h0.90M346.84 668.72h0.90M338.92 668.94h0.90M330.97 668.67h0.90M331.94 668.94h0.90M339.14 668.27h0.90M332.65 668.41h0.90M332.77 667.31h0.90" stroke="#000" stroke-width="0.90" opacity="1.0"/>
<ellipse cx="338.00" cy="668.90" rx="7.00" ry="1.50" fill="#000" opacity="0.95"/>
<ellipse cx="333.00" cy="668.70" rx="3.50" ry="1.70" fill="#000" opacity="0.95"/>
<path d="M329.70 660.10h0.60M331.01 660.23h0.60M330.94 659.54h0.60M331.35 658.82h0.60M329.65 659.25h0.60M329.27 655.85h0.60M328.65 656.75h0.60M331.09 656.04h0.60M331.39 655.64h0.60M331.48 659.49h0.60M332.05 654.43h0.60M329.73 658.19h0.60M331.59 658.84h0.60M332.57 656.39h0.60M332.55 657.23h0.60M333.20 656.88h0.60M330.54 654.62h0.60M329.72 659.14h0.60M331.89 655.06h0.60M330.22 654.98h0.60M329.49 655.54h0.60M330.90 657.48h0.60" stroke="#333" stroke-width="0.60" opacity="0.8"/>
<path d="M349.79 663.45h0.60M349.51 661.82h0.60M343.99 661.75h0.60M350.46 662.72h0.60M342.92 662.30h0.60M345.49 658.97h0.60M351.66 662.04h0.60M349.46 658.81h0.60M351.05 662.47h0.60M350.32 662.81h0.60" stroke="#555" stroke-width="0.60" opacity="0.7"/>
<ellipse cx="379.50" cy="669.80" rx="10.50" ry="2.60" fill="#000" opacity="0.95"/>
<ellipse cx="373.00" cy="669.60" rx="4.50" ry="3.00" fill="#000" opacity="0.95"/>
<path d="M384.53 669.41h1.00M391.10 671.51h1.00M392.38 668.59h1.00M394.91 669.99h1.00M375.06 671.83h1.00M374.50 667.99h1.00M380.82 668.22h1.00M381.79 672.25h1.00M387.19 671.06h1.00M378.98 671.50h1.00M390.22 670.90h1.00M379.37 667.32h1.00M386.27 671.82h1.00M377.51 670.37h1.00M391.42 671.56h1.00M368.13 669.73h1.00M390.75 669.31h1.00M384.93 669.54h1.00M377.39 668.08h1.00M377.90 671.87h1.00M385.34 668.55h1.00M370.46 668.43h1.00M387.63 669.45h1.00M386.51 671.64h1.00M371.38 670.90h1.00M373.15 668.43h1.00M394.82 668.97h1.00M374.28 672.14h1.00M385.09 672.16h1.00M379.04 669.80h1.00M394.76 669.84h1.00M391.26 667.77h1.00M380.73 671.66h1.00M375.02 668.91h1.00M370.83 670.12h1.00M392.14 669.88h1.00M378.55 672.37h1.00M393.03 670.80h1.00M370.13 670.54h1.00M380.43 672.55h1.00M378.13 670.77h1.00M385.69 669.06h1.00M382.62 670.86h1.00M393.40 669.79h1.00M378.18 672.66h1.00M387.14 670.14h1.00M380.54 671.31h1.00M392.95 671.17h1.00M377.11 667.62h1.00M372.05 670.33h1.00M384.15 667.08h1.00M378.98 671.28h1.00M385.96 668.49h1.00M389.35 668.55h1.00M383.24 669.32h1.00M390.54 670.86h1.00M378.65 672.58h1.00M387.87 670.95h1.00M375.77 667.77h1.00M384.10 671.76h1.00M390.22 668.88h1.00M371.92 669.90h1.00M388.67 667.82h1.00M376.74 667.12h1.00M376.33 669.10h1.00M373.24 668.66h1.00M376.99 669.43h1.00M371.04 668.36h1.00M379.03 669.11h1.00M380.61 671.82h1.00M385.84 671.47h1.00M376.81 667.71h1.00M389.20 669.62h1.00M383.64 670.82h1.00M389.07 668.45h1.00M378.16 672.30h1.00M382.82 668.53h1.00M385.65 668.36h1.00M391.15 670.20h1.00M377.90 672.44h1.00M375.43 668.26h1.00M369.96 670.09h1.00M389.10 670.87h1.00M379.56 671.65h1.00M371.12 668.64h1.00M386.05 672.60h1.00M385.75 670.95h1.00M389.69 669.17h1.00M377.57 669.16h1.00M390.56 668.90h1.00M373.20 672.03h1.00M382.89 669.93h1.00M386.74 672.21h1.00M371.74 668.83h1.00M369.85 669.28h1.00M382.06 671.91h1.00M386.70 670.27h1.00M379.30 670.24h1.00M375.67 671.87h1.00M390.08 671.83h1.00M372.23 670.83h1.00M389.12 669.80h1.00M388.80 671.73h1.00M386.17 672.07h1.00M371.68 671.02h1.00M387.71 670.47h1.00M375.70 667.20h1.00M384.89 671.75h1.00M375.64 668.08h1.00M374.27 667.36h1.00M390.46 668.96h1.00M387.58 667.23h1.00M391.48 668.75h1.00M371.89 668.45h1.00M369.65 669.47h1.00M383.54 671.64h1.00M371.10 668.15h1.00M385.62 668.84h1.00M377.27 670.21h1.00M374.10 671.56h1.00M373.85 671.84h1.00M390.64 670.02h1.00M368.79 669.83h1.00M379.87 667.18h1.00M385.64 671.15h1.00M384.38 669.20h1.00M382.34 670.33h1.00M374.34 672.01h1.00M394.92 668.78h1.00M381.38 667.60h1.00M380.71 670.90h1.00M387.84 669.53h1.00M377.57 667.94h1.00M379.28 668.50h1.00M373.44 671.22h1.00M382.45 669.43h1.00M373.54 671.02h1.00M373.51 668.39h1.00M383.69 671.01h1.00M388.23 671.12h1.00M388.22 670.58h1.00M375.39 668.93h1.00M372.58 670.59h1.00M377.95 672.19h1.00M390.53 669.53h1.00M372.31 671.46h1.00M381.20 672.74h1.00M381.33 671.73h1.00M383.78 669.85h1.00M373.86 668.31h1.00M387.89 672.47h1.00M395.46 669.42h1.00M388.51 669.10h1.00M390.73 671.85h1.00M373.99 670.31h1.00M391.25 671.52h1.00M380.98 667.06h1.00M392.89 670.01h1.00M369.99 668.74h1.00M385.49 672.11h1.00M381.57 670.64h1.00M373.76 668.26h1.00M393.36 669.10h1.00M370.91 670.35h1.00M371.53 668.00h1.00M380.78 670.31h1.00M385.82 671.04h1.00M380.31 667.21h1.00M388.29 667.12h1.00M381.18 669.20h1.00M386.84 671.08h1.00M374.71 670.70h1.00M387.38 669.63h1.00M384.77 667.18h1.00M374.40 669.15h1.00M390.07 671.74h1.00M385.75 671.25h1.00M374.15 670.83h1.00M394.05 670.63h1.00M393.74 668.38h1.00M389.20 667.42h1.00M373.23 671.64h1.00M372.56 669.87h1.00M370.96 671.52h1.00M383.57 671.73h1.00M382.07 670.52h1.00M384.65 671.60h1.00M383.27 668.55h1.00M391.23 671.67h1.00M380.82 667.53h1.00M386.20 668.04h1.00M380.01 667.46h1.00M395.34 670.08h1.00M377.87 667.36h1.00M388.44 671.90h1.00M378.29 668.62h1.00M389.35 667.69h1.00M384.98 672.67h1.00M387.39 670.39h1.00M382.56 669.53h1.00M379.41 670.47h1.00M386.16 672.30h1.00M388.52 671.58h1.00M387.06 671.90h1.00M380.06 672.07h1.00M380.37 671.04h1.00M375.07 668.60h1.00M377.76 668.75h1.00M370.65 669.46h1.00M389.08 668.45h1.00M374.99 669.27h1.00M377.20 671.42h1.00M389.70 672.14h1.00M390.25 669.99h1.00M376.78 670.56h1.00M378.28 670.02h1.00M382.87 670.70h1.00M383.08 672.43h1.00M379.41 672.28h1.00M376.05 672.24h1.00M372.94 669.43h1.00M387.23 670.94h1.00M388.89 671.32h1.00M374.96 668.34h1.00M373.86 668.36h1.00M395.00 670.66h1.00M384.55 670.74h1.00M384.74 670.97h1.00M376.51 667.18h1.00M378.12 667.65h1.00M371.16 669.76h1.00M375.66 671.42h1.00M376.49 669.25h1.00M387.31 669.47h1.00M388.39 667.37h1.00M394.10 668.85h1.00M391.21 668.16h1.00M391.94 671.62h1.00M386.78 668.47h1.00M386.46 670.32h1.00" stroke="#000" stroke-width="1.00" opacity="1.0"/>
<path d="M373.79 654.82h0.70M376.36 656.52h0.70M373.72 658.08h0.70M371.41 659.37h0.70M369.61 659.92h0.70M370.51 656.38h0.70M372.68 654.24h0.70M370.49 659.99h0.70M370.78 656.50h0.70M374.62 655.18h0.70M370.05 655.14h0.70M371.57 656.37h0.70M373.63 657.26h0.70M373.81 660.33h0.70M372.01 654.27h0.70M372.18 659.28h0.70M372.34 654.76h0.70M370.35 657.00h0.70M371.39 657.24h0.70M375.99 657.96h0.70M374.45 658.03h0.70M376.05 657.71h0.70M370.42 654.73h0.70M375.42 655.08h0.70M369.16 655.53h0.70M375.89 657.17h0.70M374.35 653.93h0.70M372.12 655.97h0.70M370.14 658.87h0.70M371.39 654.31h0.70M376.37 657.35h0.70M373.72 657.62h0.70M368.70 657.25h0.70M374.42 657.81h0.70M370.37 657.49h0.70M373.34 658.77h0.70M369.66 660.05h0.70M375.36 656.39h0.70M370.32 658.32h0.70M372.01 654.48h0.70" stroke="#222" stroke-width="0.70" opacity="0.85"/>
<path d="M386.30 661.99h0.60M391.00 663.52h0.60M388.82 661.43h0.60M386.80 659.82h0.60M390.14 663.59h0.60M389.91 663.93h0.60M391.45 657.73h0.60M394.01 657.62h0.60M387.86 659.26h0.60M388.12 661.35h0.60M384.28 658.99h0.60M385.94 662.62h0.60M387.09 659.63h0.60M390.74 661.69h0.60M385.65 657.92h0.60" stroke="#555" stroke-width="0.60" opacity="0.7"/>
<ellipse cx="428.00" cy="670.20" rx="12.00" ry="2.80" fill="#000" opacity="0.95"/>
<ellipse cx="420.00" cy="670.50" rx="5.00" ry="3.60" fill="#000" opacity="0.95"/>
<path d="M430.67 670.59h1.00M422.03 667.61h1.00M432.57 669.66h1.00M427.27 672.80h1.00M434.85 672.59h1.00M443.26 669.34h1.00M423.69 668.48h1.00M427.60 670.21h1.00M440.46 672.21h1.00M434.60 670.09h1.00M418.50 668.15h1.00M434.74 670.62h1.00M439.03 672.87h1.00M432.11 667.71h1.00M435.76 668.24h1.00M422.10 669.04h1.00M430.72 671.28h1.00M417.20 671.74h1.00M433.73 669.80h1.00M435.16 672.16h1.00M415.29 669.82h1.00M435.34 671.51h1.00M434.43 667.70h1.00M421.99 669.50h1.00M427.27 673.32h1.00M442.00 668.07h1.00M437.06 668.99h1.00M434.90 671.92h1.00M418.83 668.00h1.00M421.45 668.32h1.00M427.18 669.43h1.00M417.33 670.59h1.00M443.27 670.55h1.00M425.67 671.47h1.00M428.12 667.66h1.00M429.45 666.53h1.00M435.28 667.56h1.00M426.09 673.33h1.00M438.00 672.42h1.00M434.26 670.97h1.00M420.89 671.92h1.00M424.03 668.24h1.00M439.65 670.73h1.00M432.66 667.83h1.00M415.45 670.25h1.00M436.77 668.36h1.00M420.20 671.41h1.00M422.95 671.52h1.00M425.06 670.16h1.00M424.60 669.41h1.00M429.37 668.26h1.00M433.72 671.42h1.00M422.89 672.10h1.00M436.86 668.86h1.00M429.75 667.76h1.00M442.87 670.43h1.00M435.78 669.17h1.00M436.51 668.05h1.00M438.91 672.17h1.00M417.83 670.62h1.00M420.74 671.50h1.00M439.12 672.10h1.00M421.94 667.07h1.00M434.90 670.47h1.00M419.15 667.79h1.00M432.47 667.18h1.00M434.02 668.13h1.00M422.76 669.45h1.00M430.99 671.62h1.00M421.63 668.49h1.00M434.19 671.38h1.00M433.44 672.89h1.00M421.14 668.64h1.00M434.88 668.28h1.00M419.72 668.03h1.00M438.14 672.35h1.00M438.83 668.63h1.00M424.46 671.59h1.00M416.67 670.79h1.00M430.41 667.49h1.00M428.85 667.82h1.00M418.59 670.05h1.00M430.64 669.01h1.00M436.49 670.21h1.00M438.26 667.16h1.00M417.10 669.19h1.00M429.51 668.22h1.00M435.06 668.00h1.00M424.55 669.83h1.00M436.37 671.95h1.00M426.15 669.62h1.00M433.56 667.16h1.00M428.67 670.99h1.00M418.87 669.75h1.00M433.58 668.56h1.00M417.06 671.80h1.00M438.12 669.55h1.00M417.57 669.24h1.00M416.54 668.47h1.00M438.04 667.37h1.00M419.92 670.23h1.00M439.99 667.62h1.00M420.21 671.91h1.00M427.77 668.83h1.00M418.70 668.15h1.00M422.79 671.73h1.00M429.18 673.29h1.00M433.12 668.48h1.00M428.96 671.56h1.00M437.02 667.33h1.00M425.17 668.19h1.00M422.65 669.78h1.00M440.64 668.71h1.00M420.18 671.76h1.00M425.25 667.75h1.00M427.55 672.32h1.00M440.89 670.54h1.00M433.20 672.88h1.00M443.56 668.75h1.00M440.45 672.30h1.00M422.98 669.03h1.00M426.24 668.94h1.00M426.35 667.19h1.00M421.81 672.95h1.00M427.32 670.98h1.00M441.62 671.84h1.00M422.33 673.02h1.00M436.84 671.83h1.00M439.39 668.22h1.00M434.68 669.14h1.00M440.19 667.36h1.00M431.17 668.82h1.00M439.62 668.89h1.00M440.32 672.50h1.00M435.31 671.10h1.00M431.43 669.68h1.00M425.18 672.04h1.00M438.47 672.66h1.00M421.42 668.85h1.00M422.48 667.12h1.00M438.90 668.04h1.00M437.23 667.83h1.00M428.86 669.29h1.00M424.30 670.95h1.00M441.84 669.79h1.00M441.99 671.68h1.00M424.35 672.69h1.00M432.20 667.16h1.00M432.62 672.37h1.00M430.56 669.88h1.00M427.49 672.74h1.00M434.97 667.90h1.00M425.87 669.02h1.00M443.76 671.41h1.00M416.05 670.65h1.00M427.97 671.57h1.00M427.88 667.06h1.00M430.71 672.31h1.00M438.67 668.97h1.00M421.67 671.76h1.00M439.05 667.98h1.00M428.00 669.14h1.00M436.30 673.09h1.00M421.05 668.57h1.00M424.87 671.67h1.00M420.60 670.34h1.00M430.01 671.21h1.00M438.86 667.72h1.00M442.31 670.37h1.00M437.79 672.65h1.00M425.85 673.05h1.00M430.07 672.87h1.00M430.32 673.11h1.00M431.80 667.43h1.00M433.93 672.18h1.00M427.72 670.74h1.00M422.77 668.39h1.00M427.61 670.10h1.00M429.05 667.06h1.00M436.51 671.79h1.00M422.11 668.24h1.00M430.50 667.66h1.00M433.09 672.91h1.00M421.06 670.62h1.00M436.62 671.79h1.00M436.36 671.52h1.00M423.18 672.44h1.00M443.32 669.59h1.00M438.91 671.28h1.00M419.26 669.71h1.00M425.08 671.92h1.00M422.35 667.83h1.00M419.84 669.35h1.00M433.55 668.58h1.00M419.86 667.97h1.00M424.47 670.03h1.00M420.51 669.85h1.00M428.19 673.41h1.00M429.59 673.20h1.00M429.14 667.83h1.00M432.76 667.44h1.00M427.10 668.95h1.00M427.75 668.93h1.00M435.72 669.22h1.00M432.18 666.45h1.00M440.48 671.64h1.00M425.63 670.94h1.00M442.61 669.29h1.00M427.98 668.55h1.00M431.63 671.17h1.00M419.36 669.03h1.00M440.55 672.10h1.00M432.70 671.28h1.00M425.20 673.20h1.00M431.48 669.30h1.00M420.47 667.23h1.00M441.93 672.16h1.00M429.39 669.97h1.00M425.90 672.85h1.00M425.50 670.23h1.00M442.88 671.00h1.00M429.31 668.79h1.00M426.61 670.79h1.00M438.58 668.28h1.00M426.11 669.19h1.00M425.89 672.97h1.00M431.17 668.39h1.00M424.97 672.31h1.00M419.81 671.37h1.00M419.41 668.04h1.00M437.00 671.58h1.00M431.53 673.04h1.00M428.02 667.79h1.00M437.44 672.58h1.00M426.57 667.07h1.00M441.19 671.83h1.00M432.91 673.43h1.00M436.25 670.94h1.00M420.43 670.79h1.00M425.82 673.45h1.00M428.03 669.21h1.00M422.60 668.08h1.00M436.18 667.66h1.00M420.40 667.50h1.00M425.53 671.71h1.00M416.77 670.22h1.00M428.19 672.09h1.00M432.27 669.65h1.00M441.44 670.73h1.00M425.11 669.25h1.00M442.45 670.44h1.00M419.27 667.66h1.00M426.50 671.37h1.00M438.58 670.11h1.00M427.42 671.22h1.00M432.10 671.64h1.00M427.26 673.31h1.00M433.46 668.68h1.00M426.30 668.34h1.00M442.11 672.10h1.00" stroke="#000" stroke-width="1.00" opacity="1.0"/>
<ellipse cx="420.50" cy="658.50" rx="2.60" ry="4.20" fill="#000" opacity="0.85"/>
<path d="M423.09 662.68h0.90M418.86 661.85h0.90M418.36 659.94h0.90M417.43 663.15h0.90M420.40 655.58h0.90M417.34 661.89h0.90M421.16 663.79h0.90M421.28 657.55h0.90M422.99 653.34h0.90M418.49 653.48h0.90M423.84 657.74h0.90M422.54 655.34h0.90M422.57 660.43h0.90M416.88 658.42h0.90M422.50 654.79h0.90M421.89 655.61h0.90M419.33 663.96h0.90M419.84 659.43h0.90M423.28 661.86h0.90M420.11 663.23h0.90M419.61 664.35h0.90M420.25 653.54h0.90M422.74 653.88h0.90M422.12 652.70h0.90M424.89 659.03h0.90M422.66 653.71h0.90M421.73 656.89h0.90M418.24 662.59h0.90M416.30 658.21h0.90M420.18 658.10h0.90M422.47 661.48h0.90M419.09 664.13h0.90M417.67 653.78h0.90M423.33 653.56h0.90M417.67 658.50h0.90M419.03 654.13h0.90M424.37 658.16h0.90M423.07 655.25h0.90M424.21 654.88h0.90M424.16 659.97h0.90M421.68 658.93h0.90M423.69 657.77h0.90M423.25 660.87h0.90M422.70 655.02h0.90M420.17 662.70h0.90M417.44 660.89h0.90M420.99 657.27h0.90M417.51 653.78h0.90M420.23 658.41h0.90M418.41 656.78h0.90M420.99 661.90h0.90M421.30 654.11h0.90M423.97 656.78h0.90M417.26 659.57h0.90M424.70 657.01h0.90M420.93 656.08h0.90M417.12 655.70h0.90M421.67 659.32h0.90M424.53 660.91h0.90M419.26 664.34h0.90M421.71 659.06h0.90M423.76 660.71h0.90M419.24 659.86h0.90M420.98 654.67h0.90M420.57 653.54h0.90M423.53 660.70h0.90M422.16 664.05h0.90M416.44 657.55h0.90M421.12 652.11h0.90M419.74 663.73h0.90M421.31 662.72h0.90M417.61 662.82h0.90M418.41 663.45h0.90M420.64 656.21h0.90M424.70 657.27h0.90M422.28 652.87h0.90M416.99 661.70h0.90M418.43 653.92h0.90M419.28 660.60h0.90M421.88 654.09h0.90" stroke="#000" stroke-width="0.90" opacity="1.0"/>
<path d="M438.26 660.62h0.60M434.59 664.80h0.60M433.55 655.70h0.60M432.58 655.79h0.60M436.89 663.61h0.60M432.60 660.03h0.60M436.74 660.73h0.60M435.13 660.52h0.60M435.23 656.84h0.60M438.57 656.90h0.60M439.24 656.90h0.60M431.93 659.73h0.60M434.88 658.03h0.60M438.65 656.67h0.60M437.70 664.02h0.60M435.53 660.04h0.60M440.24 661.25h0.60M431.82 657.98h0.60M431.89 661.79h0.60M435.24 657.70h0.60M436.12 665.24h0.60M433.44 655.86h0.60" stroke="#333" stroke-width="0.60" opacity="0.8"/>
<rect x="317.80" y="585.30" width="40.60" height="39.90" fill="none" stroke="#222" stroke-width="1.0"/>
<rect x="363.20" y="585.30" width="40.40" height="39.90" fill="none" stroke="#222" stroke-width="1.0"/>
<rect x="408.70" y="585.30" width="40.60" height="39.90" fill="none" stroke="#222" stroke-width="1.0"/>
<rect x="317.80" y="640.30" width="40.60" height="39.80" fill="none" stroke="#222" stroke-width="1.0"/>
<rect x="363.20" y="640.30" width="40.40" height="39.80" fill="none" stroke="#222" stroke-width="1.0"/>
<rect x="408.70" y="640.30" width="40.60" height="39.80" fill="none" stroke="#222" stroke-width="1.0"/>
<text x="314.00" y="589.30" font-size="5.0" fill="#999" stroke="#999" stroke-width="0.1" text-anchor="middle" transform="rotate(-90 314.00 589.30)">10<tspan font-size="3" dy="-2.2">5</tspan></text>
<text x="314.00" y="597.80" font-size="5.0" fill="#999" stroke="#999" stroke-width="0.1" text-anchor="middle" transform="rotate(-90 314.00 597.80)">10<tspan font-size="3" dy="-2.2">4</tspan></text>
<text x="314.00" y="606.30" font-size="5.0" fill="#999" stroke="#999" stroke-width="0.1" text-anchor="middle" transform="rotate(-90 314.00 606.30)">10<tspan font-size="3" dy="-2.2">3</tspan></text>
<text x="314.00" y="614.30" font-size="5.0" fill="#999" stroke="#999" stroke-width="0.1" text-anchor="middle" transform="rotate(-90 314.00 614.30)">0</text>
<text x="314.20" y="646.10" font-size="5.2" fill="#555" stroke="#555" stroke-width="0.1" text-anchor="end">10<tspan font-size="3" dy="-2.2">5</tspan></text>
<text x="314.20" y="654.60" font-size="5.2" fill="#555" stroke="#555" stroke-width="0.1" text-anchor="end">10<tspan font-size="3" dy="-2.2">4</tspan></text>
<text x="314.20" y="663.10" font-size="5.2" fill="#555" stroke="#555" stroke-width="0.1" text-anchor="end">10<tspan font-size="3" dy="-2.2">3</tspan></text>
<text x="314.20" y="671.10" font-size="5.2" fill="#555" stroke="#555" stroke-width="0.1" text-anchor="end">0</text>
<path d="M294.6 602.50V612.50H304.70" fill="none" stroke="#111" stroke-width="1.1"/>
<path d="M294.6 599.20L292.4 603.30H296.8Z" fill="#111"/>
<path d="M308.00 612.50L303.90 610.30V614.70Z" fill="#111"/>
<path d="M294.6 655.50V666.00H304.70" fill="none" stroke="#111" stroke-width="1.1"/>
<path d="M294.6 652.20L292.4 656.30H296.8Z" fill="#111"/>
<path d="M308.00 666.00L303.90 663.80V668.20Z" fill="#111"/>
<text x="289.60" y="612.80" font-size="8.2" fill="#333" stroke="#333" stroke-width="0.18" textLength="13.50" lengthAdjust="spacingAndGlyphs" transform="rotate(-90 289.60 612.80)">V&#946;3</text>
<text x="289.60" y="668.50" font-size="8.2" fill="#333" stroke="#333" stroke-width="0.18" textLength="18.00" lengthAdjust="spacingAndGlyphs" transform="rotate(-90 289.60 668.50)">V&#946;8.3</text>
<text x="292.20" y="622.80" font-size="8.2" fill="#333" stroke="#333" stroke-width="0.18" textLength="17.80" lengthAdjust="spacingAndGlyphs">Va2.2</text>
<text x="292.20" y="676.60" font-size="8.2" fill="#333" stroke="#333" stroke-width="0.18" textLength="17.80" lengthAdjust="spacingAndGlyphs">Va2.2</text>
</svg>
</body></html>
